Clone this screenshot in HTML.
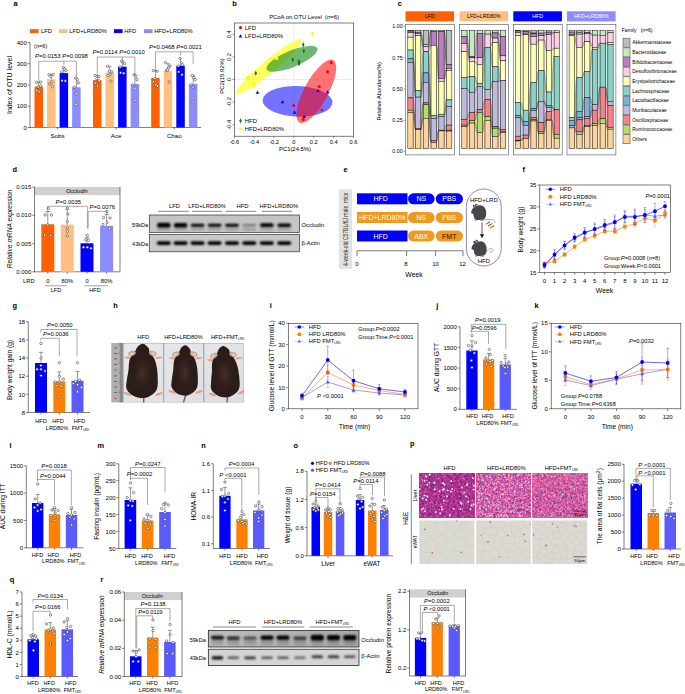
<!DOCTYPE html>
<html><head><meta charset="utf-8"><title>Figure</title>
<style>
html,body{margin:0;padding:0;background:#fff;}
body{width:685px;height:694px;overflow:hidden;}
svg{display:block;font-family:"Liberation Sans",sans-serif;}
</style></head><body>
<svg width="685" height="694" viewBox="0 0 685 694">
<defs>
<clipPath id="clip_d1"><rect x="149.3" y="215" width="150.3" height="17.5"/></clipPath>
<filter id="blur_d1" x="-5%" y="-50%" width="110%" height="200%"><feGaussianBlur stdDeviation="0.95"/></filter>
<clipPath id="clip_d2"><rect x="149.3" y="234.5" width="150.3" height="17.30000000000001"/></clipPath>
<filter id="blur_d2" x="-5%" y="-50%" width="110%" height="200%"><feGaussianBlur stdDeviation="0.9"/></filter>
<clipPath id="clip_h"><rect x="111.2" y="342.8" width="132.60000000000002" height="59.80000000000001"/></clipPath>
<filter id="blur_h" x="-5%" y="-5%" width="110%" height="110%"><feGaussianBlur stdDeviation="0.45"/></filter>
<linearGradient id="bg_h" x1="0" y1="0" x2="1" y2="1"><stop offset="0" stop-color="#e9eaee"/><stop offset="1" stop-color="#dddde0"/></linearGradient>
<radialGradient id="fur_h"><stop offset="0" stop-color="#4a342c" stop-opacity="0.85"/><stop offset="1" stop-color="#2c1c19" stop-opacity="0"/></radialGradient>
<filter id="liv1" x="0" y="0" width="100%" height="100%" color-interpolation-filters="sRGB">
<feTurbulence type="fractalNoise" baseFrequency="0.45" numOctaves="2" seed="3" result="n"/>
<feColorMatrix in="n" type="matrix" values="0.640 0 0 0 0.400 0.360 0 0 0 0.030 0.240 0 0 0 0.440 0 0 0 0 1"/>
</filter>
<filter id="liv2" x="0" y="0" width="100%" height="100%" color-interpolation-filters="sRGB">
<feTurbulence type="fractalNoise" baseFrequency="0.45" numOctaves="2" seed="11" result="n"/>
<feColorMatrix in="n" type="matrix" values="0.520 0 0 0 0.570 0.480 0 0 0 0.100 0.360 0 0 0 0.450 0 0 0 0 1"/>
</filter>
<filter id="liv3" x="0" y="0" width="100%" height="100%" color-interpolation-filters="sRGB">
<feTurbulence type="fractalNoise" baseFrequency="0.45" numOctaves="2" seed="23" result="n"/>
<feColorMatrix in="n" type="matrix" values="0.420 0 0 0 0.655 0.460 0 0 0 0.155 0.300 0 0 0 0.485 0 0 0 0 1"/>
</filter>
<clipPath id="clip_ew0"><rect x="419.4" y="520.5" width="55.0" height="43.5"/></clipPath>
<clipPath id="clip_ew1"><rect x="476.3" y="520.5" width="54.4" height="43.5"/></clipPath>
<clipPath id="clip_ew2"><rect x="532.3" y="520.5" width="54.8" height="43.5"/></clipPath>
<linearGradient id="bg_r1" x1="0" y1="0" x2="1" y2="0"><stop offset="0" stop-color="#bdbdbd"/><stop offset="0.5" stop-color="#b2b2b2"/><stop offset="1" stop-color="#a8a8a8"/></linearGradient>
<clipPath id="clip_r1"><rect x="208.3" y="630.5" width="150.7" height="16.5"/></clipPath>
<filter id="blur_r1" x="-5%" y="-50%" width="110%" height="200%"><feGaussianBlur stdDeviation="1.0"/></filter>
<clipPath id="clip_r2"><rect x="208.3" y="649.2" width="150.7" height="16.399999999999977"/></clipPath>
<filter id="blur_r2" x="-5%" y="-50%" width="110%" height="200%"><feGaussianBlur stdDeviation="0.9"/></filter>
</defs>
<rect width="685" height="694" fill="#fff"/>
<text x="13.60" y="5.90" font-size="7.4" font-weight="bold" fill="#000">a</text>
<rect x="30.00" y="29.20" width="8.60" height="3.90" fill="#ff6000" />
<text x="41.00" y="33.20" font-size="5.8">LFD</text>
<rect x="59.00" y="29.20" width="8.60" height="3.90" fill="#ffbf80" />
<text x="69.20" y="33.20" font-size="5.8">LFD+LRD80%</text>
<rect x="114.00" y="29.20" width="8.60" height="3.90" fill="#0000ff" />
<text x="124.30" y="33.20" font-size="5.8">HFD</text>
<rect x="144.00" y="29.20" width="8.60" height="3.90" fill="#8c8cff" />
<text x="154.20" y="33.20" font-size="5.8">HFD+LRD80%</text>
<line x1="30.00" y1="42.50" x2="30.00" y2="127.50" stroke="#2a2a2a" stroke-width="0.6" />
<line x1="27.80" y1="127.50" x2="30.00" y2="127.50" stroke="#2a2a2a" stroke-width="0.6" />
<text x="26.80" y="129.66" font-size="6" text-anchor="end">0</text>
<line x1="27.80" y1="106.25" x2="30.00" y2="106.25" stroke="#2a2a2a" stroke-width="0.6" />
<text x="26.80" y="108.41" font-size="6" text-anchor="end">100</text>
<line x1="27.80" y1="85.00" x2="30.00" y2="85.00" stroke="#2a2a2a" stroke-width="0.6" />
<text x="26.80" y="87.16" font-size="6" text-anchor="end">200</text>
<line x1="27.80" y1="63.75" x2="30.00" y2="63.75" stroke="#2a2a2a" stroke-width="0.6" />
<text x="26.80" y="65.91" font-size="6" text-anchor="end">300</text>
<line x1="27.80" y1="42.50" x2="30.00" y2="42.50" stroke="#2a2a2a" stroke-width="0.6" />
<text x="26.80" y="44.66" font-size="6" text-anchor="end">400</text>
<line x1="29.70" y1="127.50" x2="201.00" y2="127.50" stroke="#2a2a2a" stroke-width="0.6" />
<text x="11.80" y="85.00" font-size="7.0" text-anchor="middle" transform="rotate(-90 11.80 85.00)">Index of OTU level</text>
<text x="34.00" y="48.00" font-size="5.6">(<tspan font-style="italic">n</tspan>=6)</text>
<rect x="34.50" y="86.70" width="8.50" height="40.80" fill="#ff6000" />
<line x1="38.75" y1="82.03" x2="38.75" y2="86.90" stroke="#333" stroke-width="0.5" />
<line x1="37.05" y1="82.03" x2="40.45" y2="82.03" stroke="#333" stroke-width="0.5" />
<circle cx="36.55" cy="82.45" r="1.2" fill="#fff" stroke="#222" stroke-width="0.5" />
<circle cx="40.55" cy="82.03" r="1.2" fill="#fff" stroke="#222" stroke-width="0.5" />
<circle cx="38.25" cy="87.12" r="1.2" fill="#fff" stroke="#222" stroke-width="0.5" />
<circle cx="36.75" cy="90.31" r="1.2" fill="#fff" stroke="#222" stroke-width="0.5" />
<circle cx="39.05" cy="91.80" r="1.2" fill="#fff" stroke="#222" stroke-width="0.5" />
<circle cx="40.75" cy="85.85" r="1.2" fill="#fff" stroke="#222" stroke-width="0.5" />
<rect x="47.05" y="79.26" width="8.50" height="48.24" fill="#ffbf80" />
<line x1="51.30" y1="74.38" x2="51.30" y2="79.46" stroke="#333" stroke-width="0.5" />
<line x1="49.60" y1="74.38" x2="53.00" y2="74.38" stroke="#333" stroke-width="0.5" />
<circle cx="48.90" cy="74.80" r="1.2" fill="#fff" stroke="#222" stroke-width="0.5" />
<circle cx="53.30" cy="74.38" r="1.2" fill="#fff" stroke="#222" stroke-width="0.5" />
<circle cx="51.70" cy="81.81" r="1.2" fill="#fff" stroke="#222" stroke-width="0.5" />
<circle cx="49.70" cy="83.94" r="1.2" fill="#fff" stroke="#222" stroke-width="0.5" />
<circle cx="52.50" cy="86.70" r="1.2" fill="#fff" stroke="#222" stroke-width="0.5" />
<circle cx="50.90" cy="76.50" r="1.2" fill="#fff" stroke="#222" stroke-width="0.5" />
<rect x="59.60" y="73.10" width="8.50" height="54.40" fill="#0000ff" />
<line x1="63.85" y1="67.58" x2="63.85" y2="73.30" stroke="#333" stroke-width="0.5" />
<line x1="62.15" y1="67.58" x2="65.55" y2="67.58" stroke="#333" stroke-width="0.5" />
<circle cx="63.25" cy="67.58" r="1.2" fill="#fff" stroke="#222" stroke-width="0.5" />
<circle cx="64.45" cy="69.06" r="1.2" fill="#fff" stroke="#222" stroke-width="0.5" />
<circle cx="66.05" cy="70.55" r="1.2" fill="#fff" stroke="#222" stroke-width="0.5" />
<circle cx="62.05" cy="80.75" r="1.2" fill="#fff" stroke="#222" stroke-width="0.5" />
<circle cx="65.25" cy="80.96" r="1.2" fill="#fff" stroke="#222" stroke-width="0.5" />
<circle cx="61.65" cy="71.83" r="1.2" fill="#fff" stroke="#222" stroke-width="0.5" />
<rect x="72.15" y="87.34" width="8.50" height="40.16" fill="#8c8cff" />
<line x1="76.40" y1="78.20" x2="76.40" y2="87.54" stroke="#333" stroke-width="0.5" />
<line x1="74.70" y1="78.20" x2="78.10" y2="78.20" stroke="#333" stroke-width="0.5" />
<circle cx="75.60" cy="78.20" r="1.2" fill="#fff" stroke="#222" stroke-width="0.5" />
<circle cx="77.30" cy="79.69" r="1.2" fill="#fff" stroke="#222" stroke-width="0.5" />
<circle cx="78.60" cy="82.88" r="1.2" fill="#fff" stroke="#222" stroke-width="0.5" />
<circle cx="76.40" cy="93.50" r="1.2" fill="#fff" stroke="#222" stroke-width="0.5" />
<circle cx="76.40" cy="104.55" r="1.2" fill="#fff" stroke="#222" stroke-width="0.5" />
<circle cx="74.20" cy="87.12" r="1.2" fill="#fff" stroke="#222" stroke-width="0.5" />
<line x1="57.60" y1="127.50" x2="57.60" y2="129.50" stroke="#2a2a2a" stroke-width="0.6" />
<text x="57.60" y="138.10" font-size="6.2" text-anchor="middle">Sobs</text>
<rect x="93.00" y="80.11" width="8.50" height="47.39" fill="#ff6000" />
<line x1="97.25" y1="75.44" x2="97.25" y2="80.31" stroke="#333" stroke-width="0.5" />
<line x1="95.55" y1="75.44" x2="98.95" y2="75.44" stroke="#333" stroke-width="0.5" />
<circle cx="95.05" cy="75.44" r="1.2" fill="#fff" stroke="#222" stroke-width="0.5" />
<circle cx="99.05" cy="76.50" r="1.2" fill="#fff" stroke="#222" stroke-width="0.5" />
<circle cx="96.75" cy="78.62" r="1.2" fill="#fff" stroke="#222" stroke-width="0.5" />
<circle cx="95.25" cy="82.88" r="1.2" fill="#fff" stroke="#222" stroke-width="0.5" />
<circle cx="97.55" cy="86.06" r="1.2" fill="#fff" stroke="#222" stroke-width="0.5" />
<circle cx="99.25" cy="80.75" r="1.2" fill="#fff" stroke="#222" stroke-width="0.5" />
<rect x="105.55" y="72.46" width="8.50" height="55.04" fill="#ffbf80" />
<line x1="109.80" y1="66.30" x2="109.80" y2="72.66" stroke="#333" stroke-width="0.5" />
<line x1="108.10" y1="66.30" x2="111.50" y2="66.30" stroke="#333" stroke-width="0.5" />
<circle cx="107.40" cy="66.30" r="1.2" fill="#fff" stroke="#222" stroke-width="0.5" />
<circle cx="111.80" cy="71.83" r="1.2" fill="#fff" stroke="#222" stroke-width="0.5" />
<circle cx="110.20" cy="74.38" r="1.2" fill="#fff" stroke="#222" stroke-width="0.5" />
<circle cx="108.20" cy="75.44" r="1.2" fill="#fff" stroke="#222" stroke-width="0.5" />
<circle cx="111.00" cy="81.18" r="1.2" fill="#fff" stroke="#222" stroke-width="0.5" />
<circle cx="109.40" cy="71.19" r="1.2" fill="#fff" stroke="#222" stroke-width="0.5" />
<rect x="118.10" y="66.72" width="8.50" height="60.78" fill="#0000ff" />
<line x1="122.35" y1="61.62" x2="122.35" y2="66.92" stroke="#333" stroke-width="0.5" />
<line x1="120.65" y1="61.62" x2="124.05" y2="61.62" stroke="#333" stroke-width="0.5" />
<circle cx="121.75" cy="61.20" r="1.2" fill="#fff" stroke="#222" stroke-width="0.5" />
<circle cx="122.95" cy="62.05" r="1.2" fill="#fff" stroke="#222" stroke-width="0.5" />
<circle cx="124.55" cy="63.75" r="1.2" fill="#fff" stroke="#222" stroke-width="0.5" />
<circle cx="120.55" cy="72.68" r="1.2" fill="#fff" stroke="#222" stroke-width="0.5" />
<circle cx="123.75" cy="73.31" r="1.2" fill="#fff" stroke="#222" stroke-width="0.5" />
<circle cx="120.15" cy="66.94" r="1.2" fill="#fff" stroke="#222" stroke-width="0.5" />
<rect x="130.65" y="83.94" width="8.50" height="43.56" fill="#8c8cff" />
<line x1="134.90" y1="74.80" x2="134.90" y2="84.14" stroke="#333" stroke-width="0.5" />
<line x1="133.20" y1="74.80" x2="136.60" y2="74.80" stroke="#333" stroke-width="0.5" />
<circle cx="134.10" cy="74.80" r="1.2" fill="#fff" stroke="#222" stroke-width="0.5" />
<circle cx="135.80" cy="76.50" r="1.2" fill="#fff" stroke="#222" stroke-width="0.5" />
<circle cx="137.10" cy="79.69" r="1.2" fill="#fff" stroke="#222" stroke-width="0.5" />
<circle cx="134.90" cy="88.19" r="1.2" fill="#fff" stroke="#222" stroke-width="0.5" />
<circle cx="134.90" cy="100.30" r="1.2" fill="#fff" stroke="#222" stroke-width="0.5" />
<circle cx="132.70" cy="85.00" r="1.2" fill="#fff" stroke="#222" stroke-width="0.5" />
<line x1="116.10" y1="127.50" x2="116.10" y2="129.50" stroke="#2a2a2a" stroke-width="0.6" />
<text x="116.10" y="138.10" font-size="6.2" text-anchor="middle">Ace</text>
<rect x="151.20" y="77.99" width="8.50" height="49.51" fill="#ff6000" />
<line x1="155.45" y1="70.55" x2="155.45" y2="78.19" stroke="#333" stroke-width="0.5" />
<line x1="153.75" y1="70.55" x2="157.15" y2="70.55" stroke="#333" stroke-width="0.5" />
<circle cx="153.25" cy="70.55" r="1.2" fill="#fff" stroke="#222" stroke-width="0.5" />
<circle cx="157.25" cy="71.19" r="1.2" fill="#fff" stroke="#222" stroke-width="0.5" />
<circle cx="154.95" cy="78.62" r="1.2" fill="#fff" stroke="#222" stroke-width="0.5" />
<circle cx="153.45" cy="81.81" r="1.2" fill="#fff" stroke="#222" stroke-width="0.5" />
<circle cx="155.75" cy="85.00" r="1.2" fill="#fff" stroke="#222" stroke-width="0.5" />
<circle cx="157.45" cy="86.06" r="1.2" fill="#fff" stroke="#222" stroke-width="0.5" />
<rect x="163.75" y="70.97" width="8.50" height="56.53" fill="#ffbf80" />
<line x1="168.00" y1="63.75" x2="168.00" y2="71.17" stroke="#333" stroke-width="0.5" />
<line x1="166.30" y1="63.75" x2="169.70" y2="63.75" stroke="#333" stroke-width="0.5" />
<circle cx="165.60" cy="62.69" r="1.2" fill="#fff" stroke="#222" stroke-width="0.5" />
<circle cx="170.00" cy="65.88" r="1.2" fill="#fff" stroke="#222" stroke-width="0.5" />
<circle cx="168.40" cy="68.00" r="1.2" fill="#fff" stroke="#222" stroke-width="0.5" />
<circle cx="166.40" cy="70.55" r="1.2" fill="#fff" stroke="#222" stroke-width="0.5" />
<circle cx="169.20" cy="81.81" r="1.2" fill="#fff" stroke="#222" stroke-width="0.5" />
<circle cx="167.60" cy="70.12" r="1.2" fill="#fff" stroke="#222" stroke-width="0.5" />
<rect x="176.30" y="65.88" width="8.50" height="61.62" fill="#0000ff" />
<line x1="180.55" y1="58.44" x2="180.55" y2="66.08" stroke="#333" stroke-width="0.5" />
<line x1="178.85" y1="58.44" x2="182.25" y2="58.44" stroke="#333" stroke-width="0.5" />
<circle cx="179.95" cy="58.44" r="1.2" fill="#fff" stroke="#222" stroke-width="0.5" />
<circle cx="181.15" cy="62.69" r="1.2" fill="#fff" stroke="#222" stroke-width="0.5" />
<circle cx="182.75" cy="64.81" r="1.2" fill="#fff" stroke="#222" stroke-width="0.5" />
<circle cx="178.75" cy="71.83" r="1.2" fill="#fff" stroke="#222" stroke-width="0.5" />
<circle cx="181.95" cy="74.80" r="1.2" fill="#fff" stroke="#222" stroke-width="0.5" />
<circle cx="178.35" cy="65.88" r="1.2" fill="#fff" stroke="#222" stroke-width="0.5" />
<rect x="188.85" y="83.94" width="8.50" height="43.56" fill="#8c8cff" />
<line x1="193.10" y1="75.44" x2="193.10" y2="84.14" stroke="#333" stroke-width="0.5" />
<line x1="191.40" y1="75.44" x2="194.80" y2="75.44" stroke="#333" stroke-width="0.5" />
<circle cx="192.30" cy="75.44" r="1.2" fill="#fff" stroke="#222" stroke-width="0.5" />
<circle cx="194.00" cy="77.56" r="1.2" fill="#fff" stroke="#222" stroke-width="0.5" />
<circle cx="195.30" cy="79.69" r="1.2" fill="#fff" stroke="#222" stroke-width="0.5" />
<circle cx="193.10" cy="87.12" r="1.2" fill="#fff" stroke="#222" stroke-width="0.5" />
<circle cx="193.10" cy="102.00" r="1.2" fill="#fff" stroke="#222" stroke-width="0.5" />
<circle cx="190.90" cy="85.00" r="1.2" fill="#fff" stroke="#222" stroke-width="0.5" />
<line x1="174.30" y1="127.50" x2="174.30" y2="129.50" stroke="#2a2a2a" stroke-width="0.6" />
<text x="174.30" y="138.10" font-size="6.2" text-anchor="middle">Chao</text>
<path d="M38.75 81V61.2H76.40V77M63.85 61.2V64.5" fill="none" stroke="#555" stroke-width="0.5" />
<text x="35.00" y="57.80" font-size="5.95"><tspan font-style="italic">P</tspan>=0.0153 <tspan font-style="italic">P</tspan>=0.0098</text>
<path d="M97.25 75V57H134.90V75M122.35 57V60.5" fill="none" stroke="#555" stroke-width="0.5" />
<text x="92.40" y="54.20" font-size="5.95"><tspan font-style="italic">P</tspan>=0.0114 <tspan font-style="italic">P</tspan>=0.0010</text>
<path d="M155.45 72V51.8H193.10V64M180.55 51.8V55" fill="none" stroke="#555" stroke-width="0.5" />
<text x="149.00" y="49.00" font-size="5.95"><tspan font-style="italic">P</tspan>=0.0468 <tspan font-style="italic">P</tspan>=0.0021</text>
<text x="232.30" y="5.90" font-size="7.4" font-weight="bold" fill="#000">b</text>
<text x="304.00" y="19.40" font-size="5.85" text-anchor="middle" style="white-space:pre">PCoA on OTU Level  (<tspan font-style="italic">n</tspan>=6)</text>
<line x1="234.50" y1="79.50" x2="353.70" y2="79.50" stroke="#bbb" stroke-width="0.5" stroke-dasharray="1.2 1"/>
<line x1="293.90" y1="23.00" x2="293.90" y2="136.20" stroke="#bbb" stroke-width="0.5" stroke-dasharray="1.2 1"/>
<ellipse cx="268.8" cy="66.6" rx="42.5" ry="6.6" fill="#ffff00" fill-opacity="0.62" transform="rotate(-39.6 268.8 66.6)"/>
<ellipse cx="292.0" cy="58.8" rx="27.5" ry="8.2" fill="#1a8a1a" fill-opacity="0.62" transform="rotate(-22.5 292.0 58.8)"/>
<ellipse cx="297.5" cy="101.4" rx="35" ry="15.3" fill="#0000ff" fill-opacity="0.55" transform="rotate(2 297.5 101.4)"/>
<ellipse cx="316.3" cy="91.3" rx="35.5" ry="12.0" fill="#ff0000" fill-opacity="0.55" transform="rotate(-61.6 316.3 91.3)"/>
<rect x="234.50" y="23.00" width="119.20" height="113.20" fill="none" stroke="#2a2a2a" stroke-width="0.6" />
<line x1="234.32" y1="136.20" x2="234.32" y2="138.20" stroke="#2a2a2a" stroke-width="0.5" />
<text x="234.32" y="144.20" font-size="5.7" text-anchor="middle">-0.6</text>
<line x1="254.18" y1="136.20" x2="254.18" y2="138.20" stroke="#2a2a2a" stroke-width="0.5" />
<text x="254.18" y="144.20" font-size="5.7" text-anchor="middle">-0.4</text>
<line x1="274.04" y1="136.20" x2="274.04" y2="138.20" stroke="#2a2a2a" stroke-width="0.5" />
<text x="274.04" y="144.20" font-size="5.7" text-anchor="middle">-0.2</text>
<line x1="293.90" y1="136.20" x2="293.90" y2="138.20" stroke="#2a2a2a" stroke-width="0.5" />
<text x="293.90" y="144.20" font-size="5.7" text-anchor="middle">0</text>
<line x1="313.76" y1="136.20" x2="313.76" y2="138.20" stroke="#2a2a2a" stroke-width="0.5" />
<text x="313.76" y="144.20" font-size="5.7" text-anchor="middle">0.2</text>
<line x1="333.62" y1="136.20" x2="333.62" y2="138.20" stroke="#2a2a2a" stroke-width="0.5" />
<text x="333.62" y="144.20" font-size="5.7" text-anchor="middle">0.4</text>
<line x1="353.48" y1="136.20" x2="353.48" y2="138.20" stroke="#2a2a2a" stroke-width="0.5" />
<text x="353.48" y="144.20" font-size="5.7" text-anchor="middle">0.6</text>
<line x1="232.50" y1="124.70" x2="234.50" y2="124.70" stroke="#2a2a2a" stroke-width="0.5" />
<text x="230.80" y="124.70" font-size="5.7" text-anchor="middle" transform="rotate(-90 230.80 124.70)">-0.4</text>
<line x1="232.50" y1="102.10" x2="234.50" y2="102.10" stroke="#2a2a2a" stroke-width="0.5" />
<text x="230.80" y="102.10" font-size="5.7" text-anchor="middle" transform="rotate(-90 230.80 102.10)">-0.2</text>
<line x1="232.50" y1="79.50" x2="234.50" y2="79.50" stroke="#2a2a2a" stroke-width="0.5" />
<text x="230.80" y="79.50" font-size="5.7" text-anchor="middle" transform="rotate(-90 230.80 79.50)">0</text>
<line x1="232.50" y1="56.90" x2="234.50" y2="56.90" stroke="#2a2a2a" stroke-width="0.5" />
<text x="230.80" y="56.90" font-size="5.7" text-anchor="middle" transform="rotate(-90 230.80 56.90)">0.2</text>
<line x1="232.50" y1="34.30" x2="234.50" y2="34.30" stroke="#2a2a2a" stroke-width="0.5" />
<text x="230.80" y="34.30" font-size="5.7" text-anchor="middle" transform="rotate(-90 230.80 34.30)">0.4</text>
<text x="295.00" y="151.20" font-size="5.9" text-anchor="middle">PC1(24.5%)</text>
<text x="224.40" y="76.00" font-size="5.9" text-anchor="middle" transform="rotate(-90 224.40 76.00)">PC2(15.92%)</text>
<rect x="311.05" y="32.05" width="2.90" height="2.90" fill="#ffff00" />
<rect x="270.55" y="57.05" width="2.90" height="2.90" fill="#ffff00" />
<rect x="275.30" y="57.05" width="2.90" height="2.90" fill="#ffff00" />
<rect x="246.05" y="76.05" width="2.90" height="2.90" fill="#ffff00" />
<rect x="252.30" y="82.30" width="2.90" height="2.90" fill="#ffff00" />
<rect x="252.30" y="85.05" width="2.90" height="2.90" fill="#ffff00" />
<path d="M303.25 42.25L304.5 44.75L303.25 47.25L302.0 44.75Z" fill="#008000" />
<path d="M303.75 48.5L305.0 51L303.75 53.5L302.5 51Z" fill="#008000" />
<path d="M292.75 57.25L294.0 59.75L292.75 62.25L291.5 59.75Z" fill="#008000" />
<path d="M299 59.0L300.25 61.5L299 64.0L297.75 61.5Z" fill="#008000" />
<path d="M299 61.25L300.25 63.75L299 66.25L297.75 63.75Z" fill="#008000" />
<path d="M255.75 70.75L257.0 73.25L255.75 75.75L254.5 73.25Z" fill="#008000" />
<path d="M257.5 90.5L259.3 93.8L255.7 93.8Z" fill="#0000ff" />
<path d="M282.5 100.0L284.3 103.3L280.7 103.3Z" fill="#0000ff" />
<path d="M294.5 110.5L296.3 113.8L292.7 113.8Z" fill="#0000ff" />
<path d="M304.25 114.75L306.05 118.05L302.45 118.05Z" fill="#0000ff" />
<path d="M318 88.75L319.8 92.05L316.2 92.05Z" fill="#0000ff" />
<path d="M327.5 90.25L329.3 93.55L325.7 93.55Z" fill="#0000ff" />
<circle cx="331.25" cy="62.50" r="1.55" fill="#ff0000" />
<circle cx="327.50" cy="71.75" r="1.55" fill="#ff0000" />
<circle cx="319.25" cy="86.50" r="1.55" fill="#ff0000" />
<circle cx="293.75" cy="105.50" r="1.55" fill="#ff0000" />
<circle cx="322.00" cy="110.00" r="1.55" fill="#ff0000" />
<circle cx="303.25" cy="119.50" r="1.55" fill="#ff0000" />
<circle cx="240.50" cy="27.60" r="1.55" fill="#ff0000" />
<text x="244.80" y="29.60" font-size="5.9">LFD</text>
<path d="M240.5 34.2L242.3 37.5L238.7 37.5Z" fill="#0000ff" />
<text x="244.80" y="38.20" font-size="5.9">LFD+LRD80%</text>
<path d="M240.5 118.3L241.75 120.8L240.5 123.3L239.25 120.8Z" fill="#008000" />
<text x="244.80" y="122.80" font-size="5.9">HFD</text>
<rect x="239.05" y="127.45" width="2.90" height="2.90" fill="#ffff00" />
<text x="244.80" y="130.90" font-size="5.9">HFD+LRD80%</text>
<text x="397.80" y="5.90" font-size="7.4" font-weight="bold" fill="#000">c</text>
<text x="402.60" y="28.20" font-size="5.3" text-anchor="end">1.00</text>
<line x1="403.60" y1="26.30" x2="405.50" y2="26.30" stroke="#444" stroke-width="0.5" />
<text x="402.60" y="59.60" font-size="5.3" text-anchor="end">0.75</text>
<line x1="403.60" y1="57.70" x2="405.50" y2="57.70" stroke="#444" stroke-width="0.5" />
<text x="402.60" y="90.90" font-size="5.3" text-anchor="end">0.50</text>
<line x1="403.60" y1="89.00" x2="405.50" y2="89.00" stroke="#444" stroke-width="0.5" />
<text x="402.60" y="122.20" font-size="5.3" text-anchor="end">0.25</text>
<line x1="403.60" y1="120.30" x2="405.50" y2="120.30" stroke="#444" stroke-width="0.5" />
<text x="402.60" y="153.40" font-size="5.3" text-anchor="end">0.00</text>
<line x1="403.60" y1="151.50" x2="405.50" y2="151.50" stroke="#444" stroke-width="0.5" />
<text x="380.60" y="91.30" font-size="5.6" text-anchor="middle" transform="rotate(-90 380.60 91.30)">Relative Abundance(%)</text>
<rect x="405.50" y="11.30" width="48.60" height="10.10" fill="#ff6000" />
<text x="429.80" y="18.40" font-size="5.2" text-anchor="middle" fill="#000">LFD</text>
<rect x="405.50" y="24.30" width="48.90" height="130.60" fill="#fff" stroke="#444" stroke-width="0.55" />
<path d="M413.10 30.35C414.33 30.35 414.33 30.35 415.55 30.35L415.55 32.60C414.33 32.60 414.33 30.60 413.10 30.60Z" fill="#bdbdbd" stroke="#444" stroke-width="0.35" fill-opacity="0.5" stroke-opacity="0.85"/>
<path d="M413.10 30.60C414.33 30.60 414.33 32.60 415.55 32.60L415.55 33.60C414.33 33.60 414.33 31.10 413.10 31.10Z" fill="#c7e9c0" stroke="#444" stroke-width="0.35" fill-opacity="0.5" stroke-opacity="0.85"/>
<path d="M413.10 31.10C414.33 31.10 414.33 33.60 415.55 33.60L415.55 33.60C414.33 33.60 414.33 32.60 413.10 32.60Z" fill="#bd7ebe" stroke="#444" stroke-width="0.35" fill-opacity="0.5" stroke-opacity="0.85"/>
<path d="M413.10 32.60C414.33 32.60 414.33 33.60 415.55 33.60L415.55 35.60C414.33 35.60 414.33 37.20 413.10 37.20Z" fill="#fdcce5" stroke="#444" stroke-width="0.35" fill-opacity="0.5" stroke-opacity="0.85"/>
<path d="M413.10 37.20C414.33 37.20 414.33 35.60 415.55 35.60L415.55 90.80C414.33 90.80 414.33 50.00 413.10 50.00Z" fill="#ffffb3" stroke="#444" stroke-width="0.35" fill-opacity="0.5" stroke-opacity="0.85"/>
<path d="M413.10 50.00C414.33 50.00 414.33 90.80 415.55 90.80L415.55 97.10C414.33 97.10 414.33 58.80 413.10 58.80Z" fill="#8bd3c7" stroke="#444" stroke-width="0.35" fill-opacity="0.5" stroke-opacity="0.85"/>
<path d="M413.10 58.80C414.33 58.80 414.33 97.10 415.55 97.10L415.55 97.10C414.33 97.10 414.33 62.30 413.10 62.30Z" fill="#7eb0d5" stroke="#444" stroke-width="0.35" fill-opacity="0.5" stroke-opacity="0.85"/>
<path d="M413.10 62.30C414.33 62.30 414.33 97.10 415.55 97.10L415.55 128.40C414.33 128.40 414.33 97.90 413.10 97.90Z" fill="#bebada" stroke="#444" stroke-width="0.35" fill-opacity="0.5" stroke-opacity="0.85"/>
<path d="M413.10 97.90C414.33 97.90 414.33 128.40 415.55 128.40L415.55 129.60C414.33 129.60 414.33 110.20 413.10 110.20Z" fill="#f4828a" stroke="#444" stroke-width="0.35" fill-opacity="0.5" stroke-opacity="0.85"/>
<path d="M413.10 110.20C414.33 110.20 414.33 129.60 415.55 129.60L415.55 129.60C414.33 129.60 414.33 112.40 413.10 112.40Z" fill="#b2e061" stroke="#444" stroke-width="0.35" fill-opacity="0.5" stroke-opacity="0.85"/>
<path d="M413.10 112.40C414.33 112.40 414.33 129.60 415.55 129.60L415.55 148.70C414.33 148.70 414.33 148.70 413.10 148.70Z" fill="#fed29b" stroke="#444" stroke-width="0.35" fill-opacity="0.5" stroke-opacity="0.85"/>
<path d="M420.85 30.35C422.08 30.35 422.08 30.35 423.30 30.35L423.30 44.70C422.08 44.70 422.08 32.60 420.85 32.60Z" fill="#bdbdbd" stroke="#444" stroke-width="0.35" fill-opacity="0.5" stroke-opacity="0.85"/>
<path d="M420.85 32.60C422.08 32.60 422.08 44.70 423.30 44.70L423.30 46.70C422.08 46.70 422.08 33.60 420.85 33.60Z" fill="#c7e9c0" stroke="#444" stroke-width="0.35" fill-opacity="0.5" stroke-opacity="0.85"/>
<path d="M420.85 33.60C422.08 33.60 422.08 46.70 423.30 46.70L423.30 51.40C422.08 51.40 422.08 35.60 420.85 35.60Z" fill="#fdcce5" stroke="#444" stroke-width="0.35" fill-opacity="0.5" stroke-opacity="0.85"/>
<path d="M420.85 35.60C422.08 35.60 422.08 51.40 423.30 51.40L423.30 51.70C422.08 51.70 422.08 90.80 420.85 90.80Z" fill="#ffffb3" stroke="#444" stroke-width="0.35" fill-opacity="0.5" stroke-opacity="0.85"/>
<path d="M420.85 90.80C422.08 90.80 422.08 51.70 423.30 51.70L423.30 72.90C422.08 72.90 422.08 97.10 420.85 97.10Z" fill="#8bd3c7" stroke="#444" stroke-width="0.35" fill-opacity="0.5" stroke-opacity="0.85"/>
<path d="M420.85 97.10C422.08 97.10 422.08 72.90 423.30 72.90L423.30 82.30C422.08 82.30 422.08 97.10 420.85 97.10Z" fill="#7eb0d5" stroke="#444" stroke-width="0.35" fill-opacity="0.5" stroke-opacity="0.85"/>
<path d="M420.85 97.10C422.08 97.10 422.08 82.30 423.30 82.30L423.30 102.90C422.08 102.90 422.08 128.40 420.85 128.40Z" fill="#bebada" stroke="#444" stroke-width="0.35" fill-opacity="0.5" stroke-opacity="0.85"/>
<path d="M420.85 128.40C422.08 128.40 422.08 102.90 423.30 102.90L423.30 104.70C422.08 104.70 422.08 129.60 420.85 129.60Z" fill="#f4828a" stroke="#444" stroke-width="0.35" fill-opacity="0.5" stroke-opacity="0.85"/>
<path d="M420.85 129.60C422.08 129.60 422.08 104.70 423.30 104.70L423.30 118.30C422.08 118.30 422.08 129.60 420.85 129.60Z" fill="#b2e061" stroke="#444" stroke-width="0.35" fill-opacity="0.5" stroke-opacity="0.85"/>
<path d="M420.85 129.60C422.08 129.60 422.08 118.30 423.30 118.30L423.30 148.70C422.08 148.70 422.08 148.70 420.85 148.70Z" fill="#fed29b" stroke="#444" stroke-width="0.35" fill-opacity="0.5" stroke-opacity="0.85"/>
<path d="M428.60 30.35C429.83 30.35 429.83 30.35 431.05 30.35L431.05 30.35C429.83 30.35 429.83 44.70 428.60 44.70Z" fill="#bdbdbd" stroke="#444" stroke-width="0.35" fill-opacity="0.5" stroke-opacity="0.85"/>
<path d="M428.60 44.70C429.83 44.70 429.83 30.35 431.05 30.35L431.05 31.30C429.83 31.30 429.83 46.70 428.60 46.70Z" fill="#c7e9c0" stroke="#444" stroke-width="0.35" fill-opacity="0.5" stroke-opacity="0.85"/>
<path d="M428.60 46.70C429.83 46.70 429.83 31.30 431.05 31.30L431.05 45.30C429.83 45.30 429.83 46.70 428.60 46.70Z" fill="#bd7ebe" stroke="#444" stroke-width="0.35" fill-opacity="0.5" stroke-opacity="0.85"/>
<path d="M428.60 46.70C429.83 46.70 429.83 45.30 431.05 45.30L431.05 45.30C429.83 45.30 429.83 51.40 428.60 51.40Z" fill="#fdcce5" stroke="#444" stroke-width="0.35" fill-opacity="0.5" stroke-opacity="0.85"/>
<path d="M428.60 51.40C429.83 51.40 429.83 45.30 431.05 45.30L431.05 115.80C429.83 115.80 429.83 51.70 428.60 51.70Z" fill="#ffffb3" stroke="#444" stroke-width="0.35" fill-opacity="0.5" stroke-opacity="0.85"/>
<path d="M428.60 51.70C429.83 51.70 429.83 115.80 431.05 115.80L431.05 118.30C429.83 118.30 429.83 72.90 428.60 72.90Z" fill="#8bd3c7" stroke="#444" stroke-width="0.35" fill-opacity="0.5" stroke-opacity="0.85"/>
<path d="M428.60 72.90C429.83 72.90 429.83 118.30 431.05 118.30L431.05 118.30C429.83 118.30 429.83 82.30 428.60 82.30Z" fill="#7eb0d5" stroke="#444" stroke-width="0.35" fill-opacity="0.5" stroke-opacity="0.85"/>
<path d="M428.60 82.30C429.83 82.30 429.83 118.30 431.05 118.30L431.05 140.50C429.83 140.50 429.83 102.90 428.60 102.90Z" fill="#bebada" stroke="#444" stroke-width="0.35" fill-opacity="0.5" stroke-opacity="0.85"/>
<path d="M428.60 102.90C429.83 102.90 429.83 140.50 431.05 140.50L431.05 142.50C429.83 142.50 429.83 104.70 428.60 104.70Z" fill="#f4828a" stroke="#444" stroke-width="0.35" fill-opacity="0.5" stroke-opacity="0.85"/>
<path d="M428.60 104.70C429.83 104.70 429.83 142.50 431.05 142.50L431.05 142.50C429.83 142.50 429.83 118.30 428.60 118.30Z" fill="#b2e061" stroke="#444" stroke-width="0.35" fill-opacity="0.5" stroke-opacity="0.85"/>
<path d="M428.60 118.30C429.83 118.30 429.83 142.50 431.05 142.50L431.05 148.70C429.83 148.70 429.83 148.70 428.60 148.70Z" fill="#fed29b" stroke="#444" stroke-width="0.35" fill-opacity="0.5" stroke-opacity="0.85"/>
<path d="M436.35 30.35C437.58 30.35 437.58 30.35 438.80 30.35L438.80 31.50C437.58 31.50 437.58 31.30 436.35 31.30Z" fill="#c7e9c0" stroke="#444" stroke-width="0.35" fill-opacity="0.5" stroke-opacity="0.85"/>
<path d="M436.35 31.30C437.58 31.30 437.58 31.50 438.80 31.50L438.80 78.50C437.58 78.50 437.58 45.30 436.35 45.30Z" fill="#bd7ebe" stroke="#444" stroke-width="0.35" fill-opacity="0.5" stroke-opacity="0.85"/>
<path d="M436.35 45.30C437.58 45.30 437.58 78.50 438.80 78.50L438.80 81.30C437.58 81.30 437.58 45.30 436.35 45.30Z" fill="#fdcce5" stroke="#444" stroke-width="0.35" fill-opacity="0.5" stroke-opacity="0.85"/>
<path d="M436.35 45.30C437.58 45.30 437.58 81.30 438.80 81.30L438.80 114.20C437.58 114.20 437.58 115.80 436.35 115.80Z" fill="#ffffb3" stroke="#444" stroke-width="0.35" fill-opacity="0.5" stroke-opacity="0.85"/>
<path d="M436.35 115.80C437.58 115.80 437.58 114.20 438.80 114.20L438.80 116.60C437.58 116.60 437.58 118.30 436.35 118.30Z" fill="#8bd3c7" stroke="#444" stroke-width="0.35" fill-opacity="0.5" stroke-opacity="0.85"/>
<path d="M436.35 118.30C437.58 118.30 437.58 116.60 438.80 116.60L438.80 130.20C437.58 130.20 437.58 140.50 436.35 140.50Z" fill="#bebada" stroke="#444" stroke-width="0.35" fill-opacity="0.5" stroke-opacity="0.85"/>
<path d="M436.35 140.50C437.58 140.50 437.58 130.20 438.80 130.20L438.80 130.90C437.58 130.90 437.58 142.50 436.35 142.50Z" fill="#f4828a" stroke="#444" stroke-width="0.35" fill-opacity="0.5" stroke-opacity="0.85"/>
<path d="M436.35 142.50C437.58 142.50 437.58 130.90 438.80 130.90L438.80 148.70C437.58 148.70 437.58 148.70 436.35 148.70Z" fill="#fed29b" stroke="#444" stroke-width="0.35" fill-opacity="0.5" stroke-opacity="0.85"/>
<path d="M444.10 30.35C445.33 30.35 445.33 30.35 446.55 30.35L446.55 64.30C445.33 64.30 445.33 30.35 444.10 30.35Z" fill="#bdbdbd" stroke="#444" stroke-width="0.35" fill-opacity="0.5" stroke-opacity="0.85"/>
<path d="M444.10 30.35C445.33 30.35 445.33 64.30 446.55 64.30L446.55 64.30C445.33 64.30 445.33 31.50 444.10 31.50Z" fill="#c7e9c0" stroke="#444" stroke-width="0.35" fill-opacity="0.5" stroke-opacity="0.85"/>
<path d="M444.10 31.50C445.33 31.50 445.33 64.30 446.55 64.30L446.55 68.40C445.33 68.40 445.33 78.50 444.10 78.50Z" fill="#bd7ebe" stroke="#444" stroke-width="0.35" fill-opacity="0.5" stroke-opacity="0.85"/>
<path d="M444.10 78.50C445.33 78.50 445.33 68.40 446.55 68.40L446.55 70.30C445.33 70.30 445.33 81.30 444.10 81.30Z" fill="#fdcce5" stroke="#444" stroke-width="0.35" fill-opacity="0.5" stroke-opacity="0.85"/>
<path d="M444.10 81.30C445.33 81.30 445.33 70.30 446.55 70.30L446.55 99.90C445.33 99.90 445.33 114.20 444.10 114.20Z" fill="#ffffb3" stroke="#444" stroke-width="0.35" fill-opacity="0.5" stroke-opacity="0.85"/>
<path d="M444.10 114.20C445.33 114.20 445.33 99.90 446.55 99.90L446.55 106.50C445.33 106.50 445.33 116.60 444.10 116.60Z" fill="#8bd3c7" stroke="#444" stroke-width="0.35" fill-opacity="0.5" stroke-opacity="0.85"/>
<path d="M444.10 116.60C445.33 116.60 445.33 106.50 446.55 106.50L446.55 125.10C445.33 125.10 445.33 130.20 444.10 130.20Z" fill="#bebada" stroke="#444" stroke-width="0.35" fill-opacity="0.5" stroke-opacity="0.85"/>
<path d="M444.10 130.20C445.33 130.20 445.33 125.10 446.55 125.10L446.55 130.20C445.33 130.20 445.33 130.90 444.10 130.90Z" fill="#f4828a" stroke="#444" stroke-width="0.35" fill-opacity="0.5" stroke-opacity="0.85"/>
<path d="M444.10 130.90C445.33 130.90 445.33 130.20 446.55 130.20L446.55 131.10C445.33 131.10 445.33 130.90 444.10 130.90Z" fill="#b2e061" stroke="#444" stroke-width="0.35" fill-opacity="0.5" stroke-opacity="0.85"/>
<path d="M444.10 130.90C445.33 130.90 445.33 131.10 446.55 131.10L446.55 148.70C445.33 148.70 445.33 148.70 444.10 148.70Z" fill="#fed29b" stroke="#444" stroke-width="0.35" fill-opacity="0.5" stroke-opacity="0.85"/>
<rect x="407.80" y="30.35" width="5.30" height="0.25" fill="#bdbdbd" stroke="#111" stroke-width="0.5" />
<rect x="407.80" y="30.60" width="5.30" height="0.50" fill="#c7e9c0" stroke="#111" stroke-width="0.5" />
<rect x="407.80" y="31.10" width="5.30" height="1.50" fill="#bd7ebe" stroke="#111" stroke-width="0.5" />
<rect x="407.80" y="32.60" width="5.30" height="4.60" fill="#fdcce5" stroke="#111" stroke-width="0.5" />
<rect x="407.80" y="37.20" width="5.30" height="12.80" fill="#ffffb3" stroke="#111" stroke-width="0.5" />
<rect x="407.80" y="50.00" width="5.30" height="8.80" fill="#8bd3c7" stroke="#111" stroke-width="0.5" />
<rect x="407.80" y="58.80" width="5.30" height="3.50" fill="#7eb0d5" stroke="#111" stroke-width="0.5" />
<rect x="407.80" y="62.30" width="5.30" height="35.60" fill="#bebada" stroke="#111" stroke-width="0.5" />
<rect x="407.80" y="97.90" width="5.30" height="12.30" fill="#f4828a" stroke="#111" stroke-width="0.5" />
<rect x="407.80" y="110.20" width="5.30" height="2.20" fill="#b2e061" stroke="#111" stroke-width="0.5" />
<rect x="407.80" y="112.40" width="5.30" height="36.30" fill="#fed29b" stroke="#111" stroke-width="0.5" />
<rect x="415.55" y="30.35" width="5.30" height="2.25" fill="#bdbdbd" stroke="#111" stroke-width="0.5" />
<rect x="415.55" y="32.60" width="5.30" height="1.00" fill="#c7e9c0" stroke="#111" stroke-width="0.5" />
<rect x="415.55" y="33.60" width="5.30" height="2.00" fill="#fdcce5" stroke="#111" stroke-width="0.5" />
<rect x="415.55" y="35.60" width="5.30" height="55.20" fill="#ffffb3" stroke="#111" stroke-width="0.5" />
<rect x="415.55" y="90.80" width="5.30" height="6.30" fill="#8bd3c7" stroke="#111" stroke-width="0.5" />
<rect x="415.55" y="97.10" width="5.30" height="31.30" fill="#bebada" stroke="#111" stroke-width="0.5" />
<rect x="415.55" y="128.40" width="5.30" height="1.20" fill="#f4828a" stroke="#111" stroke-width="0.5" />
<rect x="415.55" y="129.60" width="5.30" height="19.10" fill="#fed29b" stroke="#111" stroke-width="0.5" />
<rect x="423.30" y="30.35" width="5.30" height="14.35" fill="#bdbdbd" stroke="#111" stroke-width="0.5" />
<rect x="423.30" y="44.70" width="5.30" height="2.00" fill="#c7e9c0" stroke="#111" stroke-width="0.5" />
<rect x="423.30" y="46.70" width="5.30" height="4.70" fill="#fdcce5" stroke="#111" stroke-width="0.5" />
<rect x="423.30" y="51.40" width="5.30" height="0.30" fill="#ffffb3" stroke="#111" stroke-width="0.5" />
<rect x="423.30" y="51.70" width="5.30" height="21.20" fill="#8bd3c7" stroke="#111" stroke-width="0.5" />
<rect x="423.30" y="72.90" width="5.30" height="9.40" fill="#7eb0d5" stroke="#111" stroke-width="0.5" />
<rect x="423.30" y="82.30" width="5.30" height="20.60" fill="#bebada" stroke="#111" stroke-width="0.5" />
<rect x="423.30" y="102.90" width="5.30" height="1.80" fill="#f4828a" stroke="#111" stroke-width="0.5" />
<rect x="423.30" y="104.70" width="5.30" height="13.60" fill="#b2e061" stroke="#111" stroke-width="0.5" />
<rect x="423.30" y="118.30" width="5.30" height="30.40" fill="#fed29b" stroke="#111" stroke-width="0.5" />
<rect x="431.05" y="30.35" width="5.30" height="0.95" fill="#c7e9c0" stroke="#111" stroke-width="0.5" />
<rect x="431.05" y="31.30" width="5.30" height="14.00" fill="#bd7ebe" stroke="#111" stroke-width="0.5" />
<rect x="431.05" y="45.30" width="5.30" height="70.50" fill="#ffffb3" stroke="#111" stroke-width="0.5" />
<rect x="431.05" y="115.80" width="5.30" height="2.50" fill="#8bd3c7" stroke="#111" stroke-width="0.5" />
<rect x="431.05" y="118.30" width="5.30" height="22.20" fill="#bebada" stroke="#111" stroke-width="0.5" />
<rect x="431.05" y="140.50" width="5.30" height="2.00" fill="#f4828a" stroke="#111" stroke-width="0.5" />
<rect x="431.05" y="142.50" width="5.30" height="6.20" fill="#fed29b" stroke="#111" stroke-width="0.5" />
<rect x="438.80" y="30.35" width="5.30" height="1.15" fill="#c7e9c0" stroke="#111" stroke-width="0.5" />
<rect x="438.80" y="31.50" width="5.30" height="47.00" fill="#bd7ebe" stroke="#111" stroke-width="0.5" />
<rect x="438.80" y="78.50" width="5.30" height="2.80" fill="#fdcce5" stroke="#111" stroke-width="0.5" />
<rect x="438.80" y="81.30" width="5.30" height="32.90" fill="#ffffb3" stroke="#111" stroke-width="0.5" />
<rect x="438.80" y="114.20" width="5.30" height="2.40" fill="#8bd3c7" stroke="#111" stroke-width="0.5" />
<rect x="438.80" y="116.60" width="5.30" height="13.60" fill="#bebada" stroke="#111" stroke-width="0.5" />
<rect x="438.80" y="130.20" width="5.30" height="0.70" fill="#f4828a" stroke="#111" stroke-width="0.5" />
<rect x="438.80" y="130.90" width="5.30" height="17.80" fill="#fed29b" stroke="#111" stroke-width="0.5" />
<rect x="446.55" y="30.35" width="5.30" height="33.95" fill="#bdbdbd" stroke="#111" stroke-width="0.5" />
<rect x="446.55" y="64.30" width="5.30" height="4.10" fill="#bd7ebe" stroke="#111" stroke-width="0.5" />
<rect x="446.55" y="68.40" width="5.30" height="1.90" fill="#fdcce5" stroke="#111" stroke-width="0.5" />
<rect x="446.55" y="70.30" width="5.30" height="29.60" fill="#ffffb3" stroke="#111" stroke-width="0.5" />
<rect x="446.55" y="99.90" width="5.30" height="6.60" fill="#8bd3c7" stroke="#111" stroke-width="0.5" />
<rect x="446.55" y="106.50" width="5.30" height="18.60" fill="#bebada" stroke="#111" stroke-width="0.5" />
<rect x="446.55" y="125.10" width="5.30" height="5.10" fill="#f4828a" stroke="#111" stroke-width="0.5" />
<rect x="446.55" y="130.20" width="5.30" height="0.90" fill="#b2e061" stroke="#111" stroke-width="0.5" />
<rect x="446.55" y="131.10" width="5.30" height="17.60" fill="#fed29b" stroke="#111" stroke-width="0.5" />
<rect x="459.50" y="11.30" width="48.60" height="10.10" fill="#ffbf80" />
<text x="483.80" y="18.40" font-size="5.2" text-anchor="middle" fill="#000">LFD+LRD80%</text>
<rect x="459.50" y="24.30" width="48.90" height="130.60" fill="#fff" stroke="#444" stroke-width="0.55" />
<path d="M467.00 30.35C468.23 30.35 468.23 30.35 469.45 30.35L469.45 56.30C468.23 56.30 468.23 36.30 467.00 36.30Z" fill="#c7e9c0" stroke="#444" stroke-width="0.35" fill-opacity="0.5" stroke-opacity="0.85"/>
<path d="M467.00 36.30C468.23 36.30 468.23 56.30 469.45 56.30L469.45 57.80C468.23 57.80 468.23 43.50 467.00 43.50Z" fill="#bd7ebe" stroke="#444" stroke-width="0.35" fill-opacity="0.5" stroke-opacity="0.85"/>
<path d="M467.00 43.50C468.23 43.50 468.23 57.80 469.45 57.80L469.45 61.30C468.23 61.30 468.23 51.70 467.00 51.70Z" fill="#fdcce5" stroke="#444" stroke-width="0.35" fill-opacity="0.5" stroke-opacity="0.85"/>
<path d="M467.00 51.70C468.23 51.70 468.23 61.30 469.45 61.30L469.45 76.50C468.23 76.50 468.23 77.30 467.00 77.30Z" fill="#ffffb3" stroke="#444" stroke-width="0.35" fill-opacity="0.5" stroke-opacity="0.85"/>
<path d="M467.00 77.30C468.23 77.30 468.23 76.50 469.45 76.50L469.45 92.30C468.23 92.30 468.23 88.50 467.00 88.50Z" fill="#8bd3c7" stroke="#444" stroke-width="0.35" fill-opacity="0.5" stroke-opacity="0.85"/>
<path d="M467.00 88.50C468.23 88.50 468.23 92.30 469.45 92.30L469.45 112.40C468.23 112.40 468.23 119.30 467.00 119.30Z" fill="#bebada" stroke="#444" stroke-width="0.35" fill-opacity="0.5" stroke-opacity="0.85"/>
<path d="M467.00 119.30C468.23 119.30 468.23 112.40 469.45 112.40L469.45 120.60C468.23 120.60 468.23 125.10 467.00 125.10Z" fill="#f4828a" stroke="#444" stroke-width="0.35" fill-opacity="0.5" stroke-opacity="0.85"/>
<path d="M467.00 125.10C468.23 125.10 468.23 120.60 469.45 120.60L469.45 123.10C468.23 123.10 468.23 126.70 467.00 126.70Z" fill="#b2e061" stroke="#444" stroke-width="0.35" fill-opacity="0.5" stroke-opacity="0.85"/>
<path d="M467.00 126.70C468.23 126.70 468.23 123.10 469.45 123.10L469.45 148.70C468.23 148.70 468.23 148.70 467.00 148.70Z" fill="#fed29b" stroke="#444" stroke-width="0.35" fill-opacity="0.5" stroke-opacity="0.85"/>
<path d="M474.75 30.35C475.98 30.35 475.98 30.35 477.20 30.35L477.20 33.30C475.98 33.30 475.98 56.30 474.75 56.30Z" fill="#c7e9c0" stroke="#444" stroke-width="0.35" fill-opacity="0.5" stroke-opacity="0.85"/>
<path d="M474.75 56.30C475.98 56.30 475.98 33.30 477.20 33.30L477.20 57.80C475.98 57.80 475.98 57.80 474.75 57.80Z" fill="#bd7ebe" stroke="#444" stroke-width="0.35" fill-opacity="0.5" stroke-opacity="0.85"/>
<path d="M474.75 57.80C475.98 57.80 475.98 57.80 477.20 57.80L477.20 64.30C475.98 64.30 475.98 61.30 474.75 61.30Z" fill="#fdcce5" stroke="#444" stroke-width="0.35" fill-opacity="0.5" stroke-opacity="0.85"/>
<path d="M474.75 61.30C475.98 61.30 475.98 64.30 477.20 64.30L477.20 83.30C475.98 83.30 475.98 76.50 474.75 76.50Z" fill="#ffffb3" stroke="#444" stroke-width="0.35" fill-opacity="0.5" stroke-opacity="0.85"/>
<path d="M474.75 76.50C475.98 76.50 475.98 83.30 477.20 83.30L477.20 86.30C475.98 86.30 475.98 92.30 474.75 92.30Z" fill="#8bd3c7" stroke="#444" stroke-width="0.35" fill-opacity="0.5" stroke-opacity="0.85"/>
<path d="M474.75 92.30C475.98 92.30 475.98 86.30 477.20 86.30L477.20 109.70C475.98 109.70 475.98 112.40 474.75 112.40Z" fill="#bebada" stroke="#444" stroke-width="0.35" fill-opacity="0.5" stroke-opacity="0.85"/>
<path d="M474.75 112.40C475.98 112.40 475.98 109.70 477.20 109.70L477.20 112.40C475.98 112.40 475.98 120.60 474.75 120.60Z" fill="#f4828a" stroke="#444" stroke-width="0.35" fill-opacity="0.5" stroke-opacity="0.85"/>
<path d="M474.75 120.60C475.98 120.60 475.98 112.40 477.20 112.40L477.20 132.40C475.98 132.40 475.98 123.10 474.75 123.10Z" fill="#b2e061" stroke="#444" stroke-width="0.35" fill-opacity="0.5" stroke-opacity="0.85"/>
<path d="M474.75 123.10C475.98 123.10 475.98 132.40 477.20 132.40L477.20 148.70C475.98 148.70 475.98 148.70 474.75 148.70Z" fill="#fed29b" stroke="#444" stroke-width="0.35" fill-opacity="0.5" stroke-opacity="0.85"/>
<path d="M482.50 30.35C483.73 30.35 483.73 30.35 484.95 30.35L484.95 34.10C483.73 34.10 483.73 33.30 482.50 33.30Z" fill="#c7e9c0" stroke="#444" stroke-width="0.35" fill-opacity="0.5" stroke-opacity="0.85"/>
<path d="M482.50 33.30C483.73 33.30 483.73 34.10 484.95 34.10L484.95 34.10C483.73 34.10 483.73 57.80 482.50 57.80Z" fill="#bd7ebe" stroke="#444" stroke-width="0.35" fill-opacity="0.5" stroke-opacity="0.85"/>
<path d="M482.50 57.80C483.73 57.80 483.73 34.10 484.95 34.10L484.95 47.40C483.73 47.40 483.73 64.30 482.50 64.30Z" fill="#fdcce5" stroke="#444" stroke-width="0.35" fill-opacity="0.5" stroke-opacity="0.85"/>
<path d="M482.50 64.30C483.73 64.30 483.73 47.40 484.95 47.40L484.95 47.40C483.73 47.40 483.73 83.30 482.50 83.30Z" fill="#ffffb3" stroke="#444" stroke-width="0.35" fill-opacity="0.5" stroke-opacity="0.85"/>
<path d="M482.50 83.30C483.73 83.30 483.73 47.40 484.95 47.40L484.95 89.50C483.73 89.50 483.73 86.30 482.50 86.30Z" fill="#8bd3c7" stroke="#444" stroke-width="0.35" fill-opacity="0.5" stroke-opacity="0.85"/>
<path d="M482.50 86.30C483.73 86.30 483.73 89.50 484.95 89.50L484.95 99.60C483.73 99.60 483.73 109.70 482.50 109.70Z" fill="#bebada" stroke="#444" stroke-width="0.35" fill-opacity="0.5" stroke-opacity="0.85"/>
<path d="M482.50 109.70C483.73 109.70 483.73 99.60 484.95 99.60L484.95 116.60C483.73 116.60 483.73 112.40 482.50 112.40Z" fill="#f4828a" stroke="#444" stroke-width="0.35" fill-opacity="0.5" stroke-opacity="0.85"/>
<path d="M482.50 112.40C483.73 112.40 483.73 116.60 484.95 116.60L484.95 120.30C483.73 120.30 483.73 132.40 482.50 132.40Z" fill="#b2e061" stroke="#444" stroke-width="0.35" fill-opacity="0.5" stroke-opacity="0.85"/>
<path d="M482.50 132.40C483.73 132.40 483.73 120.30 484.95 120.30L484.95 148.70C483.73 148.70 483.73 148.70 482.50 148.70Z" fill="#fed29b" stroke="#444" stroke-width="0.35" fill-opacity="0.5" stroke-opacity="0.85"/>
<path d="M490.25 30.35C491.48 30.35 491.48 30.35 492.70 30.35L492.70 32.90C491.48 32.90 491.48 34.10 490.25 34.10Z" fill="#c7e9c0" stroke="#444" stroke-width="0.35" fill-opacity="0.5" stroke-opacity="0.85"/>
<path d="M490.25 34.10C491.48 34.10 491.48 32.90 492.70 32.90L492.70 38.10C491.48 38.10 491.48 34.10 490.25 34.10Z" fill="#bd7ebe" stroke="#444" stroke-width="0.35" fill-opacity="0.5" stroke-opacity="0.85"/>
<path d="M490.25 34.10C491.48 34.10 491.48 38.10 492.70 38.10L492.70 42.50C491.48 42.50 491.48 47.40 490.25 47.40Z" fill="#fdcce5" stroke="#444" stroke-width="0.35" fill-opacity="0.5" stroke-opacity="0.85"/>
<path d="M490.25 47.40C491.48 47.40 491.48 42.50 492.70 42.50L492.70 66.40C491.48 66.40 491.48 47.40 490.25 47.40Z" fill="#ffffb3" stroke="#444" stroke-width="0.35" fill-opacity="0.5" stroke-opacity="0.85"/>
<path d="M490.25 47.40C491.48 47.40 491.48 66.40 492.70 66.40L492.70 81.50C491.48 81.50 491.48 89.50 490.25 89.50Z" fill="#8bd3c7" stroke="#444" stroke-width="0.35" fill-opacity="0.5" stroke-opacity="0.85"/>
<path d="M490.25 89.50C491.48 89.50 491.48 81.50 492.70 81.50L492.70 126.70C491.48 126.70 491.48 99.60 490.25 99.60Z" fill="#bebada" stroke="#444" stroke-width="0.35" fill-opacity="0.5" stroke-opacity="0.85"/>
<path d="M490.25 99.60C491.48 99.60 491.48 126.70 492.70 126.70L492.70 128.20C491.48 128.20 491.48 116.60 490.25 116.60Z" fill="#f4828a" stroke="#444" stroke-width="0.35" fill-opacity="0.5" stroke-opacity="0.85"/>
<path d="M490.25 116.60C491.48 116.60 491.48 128.20 492.70 128.20L492.70 136.40C491.48 136.40 491.48 120.30 490.25 120.30Z" fill="#b2e061" stroke="#444" stroke-width="0.35" fill-opacity="0.5" stroke-opacity="0.85"/>
<path d="M490.25 120.30C491.48 120.30 491.48 136.40 492.70 136.40L492.70 148.70C491.48 148.70 491.48 148.70 490.25 148.70Z" fill="#fed29b" stroke="#444" stroke-width="0.35" fill-opacity="0.5" stroke-opacity="0.85"/>
<path d="M498.00 30.35C499.23 30.35 499.23 30.35 500.45 30.35L500.45 36.30C499.23 36.30 499.23 32.90 498.00 32.90Z" fill="#c7e9c0" stroke="#444" stroke-width="0.35" fill-opacity="0.5" stroke-opacity="0.85"/>
<path d="M498.00 32.90C499.23 32.90 499.23 36.30 500.45 36.30L500.45 55.80C499.23 55.80 499.23 38.10 498.00 38.10Z" fill="#bd7ebe" stroke="#444" stroke-width="0.35" fill-opacity="0.5" stroke-opacity="0.85"/>
<path d="M498.00 38.10C499.23 38.10 499.23 55.80 500.45 55.80L500.45 60.80C499.23 60.80 499.23 42.50 498.00 42.50Z" fill="#fdcce5" stroke="#444" stroke-width="0.35" fill-opacity="0.5" stroke-opacity="0.85"/>
<path d="M498.00 42.50C499.23 42.50 499.23 60.80 500.45 60.80L500.45 80.50C499.23 80.50 499.23 66.40 498.00 66.40Z" fill="#ffffb3" stroke="#444" stroke-width="0.35" fill-opacity="0.5" stroke-opacity="0.85"/>
<path d="M498.00 66.40C499.23 66.40 499.23 80.50 500.45 80.50L500.45 80.50C499.23 80.50 499.23 81.50 498.00 81.50Z" fill="#8bd3c7" stroke="#444" stroke-width="0.35" fill-opacity="0.5" stroke-opacity="0.85"/>
<path d="M498.00 81.50C499.23 81.50 499.23 80.50 500.45 80.50L500.45 129.40C499.23 129.40 499.23 126.70 498.00 126.70Z" fill="#bebada" stroke="#444" stroke-width="0.35" fill-opacity="0.5" stroke-opacity="0.85"/>
<path d="M498.00 126.70C499.23 126.70 499.23 129.40 500.45 129.40L500.45 131.90C499.23 131.90 499.23 128.20 498.00 128.20Z" fill="#f4828a" stroke="#444" stroke-width="0.35" fill-opacity="0.5" stroke-opacity="0.85"/>
<path d="M498.00 128.20C499.23 128.20 499.23 131.90 500.45 131.90L500.45 132.40C499.23 132.40 499.23 136.40 498.00 136.40Z" fill="#b2e061" stroke="#444" stroke-width="0.35" fill-opacity="0.5" stroke-opacity="0.85"/>
<path d="M498.00 136.40C499.23 136.40 499.23 132.40 500.45 132.40L500.45 148.70C499.23 148.70 499.23 148.70 498.00 148.70Z" fill="#fed29b" stroke="#444" stroke-width="0.35" fill-opacity="0.5" stroke-opacity="0.85"/>
<rect x="461.70" y="30.35" width="5.30" height="5.95" fill="#c7e9c0" stroke="#111" stroke-width="0.5" />
<rect x="461.70" y="36.30" width="5.30" height="7.20" fill="#bd7ebe" stroke="#111" stroke-width="0.5" />
<rect x="461.70" y="43.50" width="5.30" height="8.20" fill="#fdcce5" stroke="#111" stroke-width="0.5" />
<rect x="461.70" y="51.70" width="5.30" height="25.60" fill="#ffffb3" stroke="#111" stroke-width="0.5" />
<rect x="461.70" y="77.30" width="5.30" height="11.20" fill="#8bd3c7" stroke="#111" stroke-width="0.5" />
<rect x="461.70" y="88.50" width="5.30" height="30.80" fill="#bebada" stroke="#111" stroke-width="0.5" />
<rect x="461.70" y="119.30" width="5.30" height="5.80" fill="#f4828a" stroke="#111" stroke-width="0.5" />
<rect x="461.70" y="125.10" width="5.30" height="1.60" fill="#b2e061" stroke="#111" stroke-width="0.5" />
<rect x="461.70" y="126.70" width="5.30" height="22.00" fill="#fed29b" stroke="#111" stroke-width="0.5" />
<rect x="469.45" y="30.35" width="5.30" height="25.95" fill="#c7e9c0" stroke="#111" stroke-width="0.5" />
<rect x="469.45" y="56.30" width="5.30" height="1.50" fill="#bd7ebe" stroke="#111" stroke-width="0.5" />
<rect x="469.45" y="57.80" width="5.30" height="3.50" fill="#fdcce5" stroke="#111" stroke-width="0.5" />
<rect x="469.45" y="61.30" width="5.30" height="15.20" fill="#ffffb3" stroke="#111" stroke-width="0.5" />
<rect x="469.45" y="76.50" width="5.30" height="15.80" fill="#8bd3c7" stroke="#111" stroke-width="0.5" />
<rect x="469.45" y="92.30" width="5.30" height="20.10" fill="#bebada" stroke="#111" stroke-width="0.5" />
<rect x="469.45" y="112.40" width="5.30" height="8.20" fill="#f4828a" stroke="#111" stroke-width="0.5" />
<rect x="469.45" y="120.60" width="5.30" height="2.50" fill="#b2e061" stroke="#111" stroke-width="0.5" />
<rect x="469.45" y="123.10" width="5.30" height="25.60" fill="#fed29b" stroke="#111" stroke-width="0.5" />
<rect x="477.20" y="30.35" width="5.30" height="2.95" fill="#c7e9c0" stroke="#111" stroke-width="0.5" />
<rect x="477.20" y="33.30" width="5.30" height="24.50" fill="#bd7ebe" stroke="#111" stroke-width="0.5" />
<rect x="477.20" y="57.80" width="5.30" height="6.50" fill="#fdcce5" stroke="#111" stroke-width="0.5" />
<rect x="477.20" y="64.30" width="5.30" height="19.00" fill="#ffffb3" stroke="#111" stroke-width="0.5" />
<rect x="477.20" y="83.30" width="5.30" height="3.00" fill="#8bd3c7" stroke="#111" stroke-width="0.5" />
<rect x="477.20" y="86.30" width="5.30" height="23.40" fill="#bebada" stroke="#111" stroke-width="0.5" />
<rect x="477.20" y="109.70" width="5.30" height="2.70" fill="#f4828a" stroke="#111" stroke-width="0.5" />
<rect x="477.20" y="112.40" width="5.30" height="20.00" fill="#b2e061" stroke="#111" stroke-width="0.5" />
<rect x="477.20" y="132.40" width="5.30" height="16.30" fill="#fed29b" stroke="#111" stroke-width="0.5" />
<rect x="484.95" y="30.35" width="5.30" height="3.75" fill="#c7e9c0" stroke="#111" stroke-width="0.5" />
<rect x="484.95" y="34.10" width="5.30" height="13.30" fill="#fdcce5" stroke="#111" stroke-width="0.5" />
<rect x="484.95" y="47.40" width="5.30" height="42.10" fill="#8bd3c7" stroke="#111" stroke-width="0.5" />
<rect x="484.95" y="89.50" width="5.30" height="10.10" fill="#bebada" stroke="#111" stroke-width="0.5" />
<rect x="484.95" y="99.60" width="5.30" height="17.00" fill="#f4828a" stroke="#111" stroke-width="0.5" />
<rect x="484.95" y="116.60" width="5.30" height="3.70" fill="#b2e061" stroke="#111" stroke-width="0.5" />
<rect x="484.95" y="120.30" width="5.30" height="28.40" fill="#fed29b" stroke="#111" stroke-width="0.5" />
<rect x="492.70" y="30.35" width="5.30" height="2.55" fill="#c7e9c0" stroke="#111" stroke-width="0.5" />
<rect x="492.70" y="32.90" width="5.30" height="5.20" fill="#bd7ebe" stroke="#111" stroke-width="0.5" />
<rect x="492.70" y="38.10" width="5.30" height="4.40" fill="#fdcce5" stroke="#111" stroke-width="0.5" />
<rect x="492.70" y="42.50" width="5.30" height="23.90" fill="#ffffb3" stroke="#111" stroke-width="0.5" />
<rect x="492.70" y="66.40" width="5.30" height="15.10" fill="#8bd3c7" stroke="#111" stroke-width="0.5" />
<rect x="492.70" y="81.50" width="5.30" height="45.20" fill="#bebada" stroke="#111" stroke-width="0.5" />
<rect x="492.70" y="126.70" width="5.30" height="1.50" fill="#f4828a" stroke="#111" stroke-width="0.5" />
<rect x="492.70" y="128.20" width="5.30" height="8.20" fill="#b2e061" stroke="#111" stroke-width="0.5" />
<rect x="492.70" y="136.40" width="5.30" height="12.30" fill="#fed29b" stroke="#111" stroke-width="0.5" />
<rect x="500.45" y="30.35" width="5.30" height="5.95" fill="#c7e9c0" stroke="#111" stroke-width="0.5" />
<rect x="500.45" y="36.30" width="5.30" height="19.50" fill="#bd7ebe" stroke="#111" stroke-width="0.5" />
<rect x="500.45" y="55.80" width="5.30" height="5.00" fill="#fdcce5" stroke="#111" stroke-width="0.5" />
<rect x="500.45" y="60.80" width="5.30" height="19.70" fill="#ffffb3" stroke="#111" stroke-width="0.5" />
<rect x="500.45" y="80.50" width="5.30" height="48.90" fill="#bebada" stroke="#111" stroke-width="0.5" />
<rect x="500.45" y="129.40" width="5.30" height="2.50" fill="#f4828a" stroke="#111" stroke-width="0.5" />
<rect x="500.45" y="131.90" width="5.30" height="0.50" fill="#b2e061" stroke="#111" stroke-width="0.5" />
<rect x="500.45" y="132.40" width="5.30" height="16.30" fill="#fed29b" stroke="#111" stroke-width="0.5" />
<rect x="513.30" y="11.30" width="48.60" height="10.10" fill="#0000ff" />
<text x="537.60" y="18.40" font-size="5.2" text-anchor="middle" fill="#fff">HFD</text>
<rect x="513.30" y="24.30" width="48.90" height="130.60" fill="#fff" stroke="#444" stroke-width="0.55" />
<path d="M520.70 30.35C521.92 30.35 521.92 30.35 523.15 30.35L523.15 31.60C521.92 31.60 521.92 30.90 520.70 30.90Z" fill="#c7e9c0" stroke="#444" stroke-width="0.35" fill-opacity="0.5" stroke-opacity="0.85"/>
<path d="M520.70 30.90C521.92 30.90 521.92 31.60 523.15 31.60L523.15 34.10C521.92 34.10 521.92 32.60 520.70 32.60Z" fill="#bd7ebe" stroke="#444" stroke-width="0.35" fill-opacity="0.5" stroke-opacity="0.85"/>
<path d="M520.70 32.60C521.92 32.60 521.92 34.10 523.15 34.10L523.15 34.60C521.92 34.60 521.92 35.60 520.70 35.60Z" fill="#fdcce5" stroke="#444" stroke-width="0.35" fill-opacity="0.5" stroke-opacity="0.85"/>
<path d="M520.70 35.60C521.92 35.60 521.92 34.60 523.15 34.60L523.15 110.20C521.92 110.20 521.92 102.30 520.70 102.30Z" fill="#ffffb3" stroke="#444" stroke-width="0.35" fill-opacity="0.5" stroke-opacity="0.85"/>
<path d="M520.70 102.30C521.92 102.30 521.92 110.20 523.15 110.20L523.15 121.50C521.92 121.50 521.92 115.50 520.70 115.50Z" fill="#8bd3c7" stroke="#444" stroke-width="0.35" fill-opacity="0.5" stroke-opacity="0.85"/>
<path d="M520.70 115.50C521.92 115.50 521.92 121.50 523.15 121.50L523.15 125.30C521.92 125.30 521.92 117.80 520.70 117.80Z" fill="#7eb0d5" stroke="#444" stroke-width="0.35" fill-opacity="0.5" stroke-opacity="0.85"/>
<path d="M520.70 117.80C521.92 117.80 521.92 125.30 523.15 125.30L523.15 135.10C521.92 135.10 521.92 136.20 520.70 136.20Z" fill="#bebada" stroke="#444" stroke-width="0.35" fill-opacity="0.5" stroke-opacity="0.85"/>
<path d="M520.70 136.20C521.92 136.20 521.92 135.10 523.15 135.10L523.15 138.50C521.92 138.50 521.92 140.50 520.70 140.50Z" fill="#f4828a" stroke="#444" stroke-width="0.35" fill-opacity="0.5" stroke-opacity="0.85"/>
<path d="M520.70 140.50C521.92 140.50 521.92 138.50 523.15 138.50L523.15 138.50C521.92 138.50 521.92 141.00 520.70 141.00Z" fill="#b2e061" stroke="#444" stroke-width="0.35" fill-opacity="0.5" stroke-opacity="0.85"/>
<path d="M520.70 141.00C521.92 141.00 521.92 138.50 523.15 138.50L523.15 148.70C521.92 148.70 521.92 148.70 520.70 148.70Z" fill="#fed29b" stroke="#444" stroke-width="0.35" fill-opacity="0.5" stroke-opacity="0.85"/>
<path d="M528.45 30.35C529.67 30.35 529.67 30.35 530.90 30.35L530.90 33.10C529.67 33.10 529.67 30.35 528.45 30.35Z" fill="#bdbdbd" stroke="#444" stroke-width="0.35" fill-opacity="0.5" stroke-opacity="0.85"/>
<path d="M528.45 30.35C529.67 30.35 529.67 33.10 530.90 33.10L530.90 33.80C529.67 33.80 529.67 31.60 528.45 31.60Z" fill="#c7e9c0" stroke="#444" stroke-width="0.35" fill-opacity="0.5" stroke-opacity="0.85"/>
<path d="M528.45 31.60C529.67 31.60 529.67 33.80 530.90 33.80L530.90 36.60C529.67 36.60 529.67 34.10 528.45 34.10Z" fill="#bd7ebe" stroke="#444" stroke-width="0.35" fill-opacity="0.5" stroke-opacity="0.85"/>
<path d="M528.45 34.10C529.67 34.10 529.67 36.60 530.90 36.60L530.90 44.20C529.67 44.20 529.67 34.60 528.45 34.60Z" fill="#fdcce5" stroke="#444" stroke-width="0.35" fill-opacity="0.5" stroke-opacity="0.85"/>
<path d="M528.45 34.60C529.67 34.60 529.67 44.20 530.90 44.20L530.90 82.30C529.67 82.30 529.67 110.20 528.45 110.20Z" fill="#ffffb3" stroke="#444" stroke-width="0.35" fill-opacity="0.5" stroke-opacity="0.85"/>
<path d="M528.45 110.20C529.67 110.20 529.67 82.30 530.90 82.30L530.90 108.70C529.67 108.70 529.67 121.50 528.45 121.50Z" fill="#8bd3c7" stroke="#444" stroke-width="0.35" fill-opacity="0.5" stroke-opacity="0.85"/>
<path d="M528.45 121.50C529.67 121.50 529.67 108.70 530.90 108.70L530.90 110.50C529.67 110.50 529.67 125.30 528.45 125.30Z" fill="#7eb0d5" stroke="#444" stroke-width="0.35" fill-opacity="0.5" stroke-opacity="0.85"/>
<path d="M528.45 125.30C529.67 125.30 529.67 110.50 530.90 110.50L530.90 117.50C529.67 117.50 529.67 135.10 528.45 135.10Z" fill="#bebada" stroke="#444" stroke-width="0.35" fill-opacity="0.5" stroke-opacity="0.85"/>
<path d="M528.45 135.10C529.67 135.10 529.67 117.50 530.90 117.50L530.90 119.60C529.67 119.60 529.67 138.50 528.45 138.50Z" fill="#f4828a" stroke="#444" stroke-width="0.35" fill-opacity="0.5" stroke-opacity="0.85"/>
<path d="M528.45 138.50C529.67 138.50 529.67 119.60 530.90 119.60L530.90 121.00C529.67 121.00 529.67 138.50 528.45 138.50Z" fill="#b2e061" stroke="#444" stroke-width="0.35" fill-opacity="0.5" stroke-opacity="0.85"/>
<path d="M528.45 138.50C529.67 138.50 529.67 121.00 530.90 121.00L530.90 148.70C529.67 148.70 529.67 148.70 528.45 148.70Z" fill="#fed29b" stroke="#444" stroke-width="0.35" fill-opacity="0.5" stroke-opacity="0.85"/>
<path d="M536.20 30.35C537.42 30.35 537.42 30.35 538.65 30.35L538.65 30.35C537.42 30.35 537.42 33.10 536.20 33.10Z" fill="#bdbdbd" stroke="#444" stroke-width="0.35" fill-opacity="0.5" stroke-opacity="0.85"/>
<path d="M536.20 33.10C537.42 33.10 537.42 30.35 538.65 30.35L538.65 33.10C537.42 33.10 537.42 33.80 536.20 33.80Z" fill="#c7e9c0" stroke="#444" stroke-width="0.35" fill-opacity="0.5" stroke-opacity="0.85"/>
<path d="M536.20 33.80C537.42 33.80 537.42 33.10 538.65 33.10L538.65 35.60C537.42 35.60 537.42 36.60 536.20 36.60Z" fill="#bd7ebe" stroke="#444" stroke-width="0.35" fill-opacity="0.5" stroke-opacity="0.85"/>
<path d="M536.20 36.60C537.42 36.60 537.42 35.60 538.65 35.60L538.65 40.10C537.42 40.10 537.42 44.20 536.20 44.20Z" fill="#fdcce5" stroke="#444" stroke-width="0.35" fill-opacity="0.5" stroke-opacity="0.85"/>
<path d="M536.20 44.20C537.42 44.20 537.42 40.10 538.65 40.10L538.65 70.40C537.42 70.40 537.42 82.30 536.20 82.30Z" fill="#ffffb3" stroke="#444" stroke-width="0.35" fill-opacity="0.5" stroke-opacity="0.85"/>
<path d="M536.20 82.30C537.42 82.30 537.42 70.40 538.65 70.40L538.65 101.30C537.42 101.30 537.42 108.70 536.20 108.70Z" fill="#8bd3c7" stroke="#444" stroke-width="0.35" fill-opacity="0.5" stroke-opacity="0.85"/>
<path d="M536.20 108.70C537.42 108.70 537.42 101.30 538.65 101.30L538.65 101.30C537.42 101.30 537.42 110.50 536.20 110.50Z" fill="#7eb0d5" stroke="#444" stroke-width="0.35" fill-opacity="0.5" stroke-opacity="0.85"/>
<path d="M536.20 110.50C537.42 110.50 537.42 101.30 538.65 101.30L538.65 122.50C537.42 122.50 537.42 117.50 536.20 117.50Z" fill="#bebada" stroke="#444" stroke-width="0.35" fill-opacity="0.5" stroke-opacity="0.85"/>
<path d="M536.20 117.50C537.42 117.50 537.42 122.50 538.65 122.50L538.65 131.90C537.42 131.90 537.42 119.60 536.20 119.60Z" fill="#f4828a" stroke="#444" stroke-width="0.35" fill-opacity="0.5" stroke-opacity="0.85"/>
<path d="M536.20 119.60C537.42 119.60 537.42 131.90 538.65 131.90L538.65 133.40C537.42 133.40 537.42 121.00 536.20 121.00Z" fill="#b2e061" stroke="#444" stroke-width="0.35" fill-opacity="0.5" stroke-opacity="0.85"/>
<path d="M536.20 121.00C537.42 121.00 537.42 133.40 538.65 133.40L538.65 148.70C537.42 148.70 537.42 148.70 536.20 148.70Z" fill="#fed29b" stroke="#444" stroke-width="0.35" fill-opacity="0.5" stroke-opacity="0.85"/>
<path d="M543.95 30.35C545.17 30.35 545.17 30.35 546.40 30.35L546.40 32.10C545.17 32.10 545.17 33.10 543.95 33.10Z" fill="#c7e9c0" stroke="#444" stroke-width="0.35" fill-opacity="0.5" stroke-opacity="0.85"/>
<path d="M543.95 33.10C545.17 33.10 545.17 32.10 546.40 32.10L546.40 34.60C545.17 34.60 545.17 35.60 543.95 35.60Z" fill="#bd7ebe" stroke="#444" stroke-width="0.35" fill-opacity="0.5" stroke-opacity="0.85"/>
<path d="M543.95 35.60C545.17 35.60 545.17 34.60 546.40 34.60L546.40 50.40C545.17 50.40 545.17 40.10 543.95 40.10Z" fill="#fdcce5" stroke="#444" stroke-width="0.35" fill-opacity="0.5" stroke-opacity="0.85"/>
<path d="M543.95 40.10C545.17 40.10 545.17 50.40 546.40 50.40L546.40 92.00C545.17 92.00 545.17 70.40 543.95 70.40Z" fill="#ffffb3" stroke="#444" stroke-width="0.35" fill-opacity="0.5" stroke-opacity="0.85"/>
<path d="M543.95 70.40C545.17 70.40 545.17 92.00 546.40 92.00L546.40 105.40C545.17 105.40 545.17 101.30 543.95 101.30Z" fill="#8bd3c7" stroke="#444" stroke-width="0.35" fill-opacity="0.5" stroke-opacity="0.85"/>
<path d="M543.95 101.30C545.17 101.30 545.17 105.40 546.40 105.40L546.40 107.40C545.17 107.40 545.17 101.30 543.95 101.30Z" fill="#7eb0d5" stroke="#444" stroke-width="0.35" fill-opacity="0.5" stroke-opacity="0.85"/>
<path d="M543.95 101.30C545.17 101.30 545.17 107.40 546.40 107.40L546.40 111.40C545.17 111.40 545.17 122.50 543.95 122.50Z" fill="#bebada" stroke="#444" stroke-width="0.35" fill-opacity="0.5" stroke-opacity="0.85"/>
<path d="M543.95 122.50C545.17 122.50 545.17 111.40 546.40 111.40L546.40 119.30C545.17 119.30 545.17 131.90 543.95 131.90Z" fill="#f4828a" stroke="#444" stroke-width="0.35" fill-opacity="0.5" stroke-opacity="0.85"/>
<path d="M543.95 131.90C545.17 131.90 545.17 119.30 546.40 119.30L546.40 120.30C545.17 120.30 545.17 133.40 543.95 133.40Z" fill="#b2e061" stroke="#444" stroke-width="0.35" fill-opacity="0.5" stroke-opacity="0.85"/>
<path d="M543.95 133.40C545.17 133.40 545.17 120.30 546.40 120.30L546.40 148.70C545.17 148.70 545.17 148.70 543.95 148.70Z" fill="#fed29b" stroke="#444" stroke-width="0.35" fill-opacity="0.5" stroke-opacity="0.85"/>
<path d="M551.70 30.35C552.92 30.35 552.92 30.35 554.15 30.35L554.15 32.60C552.92 32.60 552.92 32.10 551.70 32.10Z" fill="#c7e9c0" stroke="#444" stroke-width="0.35" fill-opacity="0.5" stroke-opacity="0.85"/>
<path d="M551.70 32.10C552.92 32.10 552.92 32.60 554.15 32.60L554.15 32.60C552.92 32.60 552.92 34.60 551.70 34.60Z" fill="#bd7ebe" stroke="#444" stroke-width="0.35" fill-opacity="0.5" stroke-opacity="0.85"/>
<path d="M551.70 34.60C552.92 34.60 552.92 32.60 554.15 32.60L554.15 48.20C552.92 48.20 552.92 50.40 551.70 50.40Z" fill="#fdcce5" stroke="#444" stroke-width="0.35" fill-opacity="0.5" stroke-opacity="0.85"/>
<path d="M551.70 50.40C552.92 50.40 552.92 48.20 554.15 48.20L554.15 56.30C552.92 56.30 552.92 92.00 551.70 92.00Z" fill="#ffffb3" stroke="#444" stroke-width="0.35" fill-opacity="0.5" stroke-opacity="0.85"/>
<path d="M551.70 92.00C552.92 92.00 552.92 56.30 554.15 56.30L554.15 109.70C552.92 109.70 552.92 105.40 551.70 105.40Z" fill="#8bd3c7" stroke="#444" stroke-width="0.35" fill-opacity="0.5" stroke-opacity="0.85"/>
<path d="M551.70 105.40C552.92 105.40 552.92 109.70 554.15 109.70L554.15 109.70C552.92 109.70 552.92 107.40 551.70 107.40Z" fill="#7eb0d5" stroke="#444" stroke-width="0.35" fill-opacity="0.5" stroke-opacity="0.85"/>
<path d="M551.70 107.40C552.92 107.40 552.92 109.70 554.15 109.70L554.15 109.70C552.92 109.70 552.92 111.40 551.70 111.40Z" fill="#bebada" stroke="#444" stroke-width="0.35" fill-opacity="0.5" stroke-opacity="0.85"/>
<path d="M551.70 111.40C552.92 111.40 552.92 109.70 554.15 109.70L554.15 134.40C552.92 134.40 552.92 119.30 551.70 119.30Z" fill="#f4828a" stroke="#444" stroke-width="0.35" fill-opacity="0.5" stroke-opacity="0.85"/>
<path d="M551.70 119.30C552.92 119.30 552.92 134.40 554.15 134.40L554.15 138.20C552.92 138.20 552.92 120.30 551.70 120.30Z" fill="#b2e061" stroke="#444" stroke-width="0.35" fill-opacity="0.5" stroke-opacity="0.85"/>
<path d="M551.70 120.30C552.92 120.30 552.92 138.20 554.15 138.20L554.15 148.70C552.92 148.70 552.92 148.70 551.70 148.70Z" fill="#fed29b" stroke="#444" stroke-width="0.35" fill-opacity="0.5" stroke-opacity="0.85"/>
<rect x="515.40" y="30.35" width="5.30" height="0.55" fill="#c7e9c0" stroke="#111" stroke-width="0.5" />
<rect x="515.40" y="30.90" width="5.30" height="1.70" fill="#bd7ebe" stroke="#111" stroke-width="0.5" />
<rect x="515.40" y="32.60" width="5.30" height="3.00" fill="#fdcce5" stroke="#111" stroke-width="0.5" />
<rect x="515.40" y="35.60" width="5.30" height="66.70" fill="#ffffb3" stroke="#111" stroke-width="0.5" />
<rect x="515.40" y="102.30" width="5.30" height="13.20" fill="#8bd3c7" stroke="#111" stroke-width="0.5" />
<rect x="515.40" y="115.50" width="5.30" height="2.30" fill="#7eb0d5" stroke="#111" stroke-width="0.5" />
<rect x="515.40" y="117.80" width="5.30" height="18.40" fill="#bebada" stroke="#111" stroke-width="0.5" />
<rect x="515.40" y="136.20" width="5.30" height="4.30" fill="#f4828a" stroke="#111" stroke-width="0.5" />
<rect x="515.40" y="140.50" width="5.30" height="0.50" fill="#b2e061" stroke="#111" stroke-width="0.5" />
<rect x="515.40" y="141.00" width="5.30" height="7.70" fill="#fed29b" stroke="#111" stroke-width="0.5" />
<rect x="523.15" y="30.35" width="5.30" height="1.25" fill="#c7e9c0" stroke="#111" stroke-width="0.5" />
<rect x="523.15" y="31.60" width="5.30" height="2.50" fill="#bd7ebe" stroke="#111" stroke-width="0.5" />
<rect x="523.15" y="34.10" width="5.30" height="0.50" fill="#fdcce5" stroke="#111" stroke-width="0.5" />
<rect x="523.15" y="34.60" width="5.30" height="75.60" fill="#ffffb3" stroke="#111" stroke-width="0.5" />
<rect x="523.15" y="110.20" width="5.30" height="11.30" fill="#8bd3c7" stroke="#111" stroke-width="0.5" />
<rect x="523.15" y="121.50" width="5.30" height="3.80" fill="#7eb0d5" stroke="#111" stroke-width="0.5" />
<rect x="523.15" y="125.30" width="5.30" height="9.80" fill="#bebada" stroke="#111" stroke-width="0.5" />
<rect x="523.15" y="135.10" width="5.30" height="3.40" fill="#f4828a" stroke="#111" stroke-width="0.5" />
<rect x="523.15" y="138.50" width="5.30" height="10.20" fill="#fed29b" stroke="#111" stroke-width="0.5" />
<rect x="530.90" y="30.35" width="5.30" height="2.75" fill="#bdbdbd" stroke="#111" stroke-width="0.5" />
<rect x="530.90" y="33.10" width="5.30" height="0.70" fill="#c7e9c0" stroke="#111" stroke-width="0.5" />
<rect x="530.90" y="33.80" width="5.30" height="2.80" fill="#bd7ebe" stroke="#111" stroke-width="0.5" />
<rect x="530.90" y="36.60" width="5.30" height="7.60" fill="#fdcce5" stroke="#111" stroke-width="0.5" />
<rect x="530.90" y="44.20" width="5.30" height="38.10" fill="#ffffb3" stroke="#111" stroke-width="0.5" />
<rect x="530.90" y="82.30" width="5.30" height="26.40" fill="#8bd3c7" stroke="#111" stroke-width="0.5" />
<rect x="530.90" y="108.70" width="5.30" height="1.80" fill="#7eb0d5" stroke="#111" stroke-width="0.5" />
<rect x="530.90" y="110.50" width="5.30" height="7.00" fill="#bebada" stroke="#111" stroke-width="0.5" />
<rect x="530.90" y="117.50" width="5.30" height="2.10" fill="#f4828a" stroke="#111" stroke-width="0.5" />
<rect x="530.90" y="119.60" width="5.30" height="1.40" fill="#b2e061" stroke="#111" stroke-width="0.5" />
<rect x="530.90" y="121.00" width="5.30" height="27.70" fill="#fed29b" stroke="#111" stroke-width="0.5" />
<rect x="538.65" y="30.35" width="5.30" height="2.75" fill="#c7e9c0" stroke="#111" stroke-width="0.5" />
<rect x="538.65" y="33.10" width="5.30" height="2.50" fill="#bd7ebe" stroke="#111" stroke-width="0.5" />
<rect x="538.65" y="35.60" width="5.30" height="4.50" fill="#fdcce5" stroke="#111" stroke-width="0.5" />
<rect x="538.65" y="40.10" width="5.30" height="30.30" fill="#ffffb3" stroke="#111" stroke-width="0.5" />
<rect x="538.65" y="70.40" width="5.30" height="30.90" fill="#8bd3c7" stroke="#111" stroke-width="0.5" />
<rect x="538.65" y="101.30" width="5.30" height="21.20" fill="#bebada" stroke="#111" stroke-width="0.5" />
<rect x="538.65" y="122.50" width="5.30" height="9.40" fill="#f4828a" stroke="#111" stroke-width="0.5" />
<rect x="538.65" y="131.90" width="5.30" height="1.50" fill="#b2e061" stroke="#111" stroke-width="0.5" />
<rect x="538.65" y="133.40" width="5.30" height="15.30" fill="#fed29b" stroke="#111" stroke-width="0.5" />
<rect x="546.40" y="30.35" width="5.30" height="1.75" fill="#c7e9c0" stroke="#111" stroke-width="0.5" />
<rect x="546.40" y="32.10" width="5.30" height="2.50" fill="#bd7ebe" stroke="#111" stroke-width="0.5" />
<rect x="546.40" y="34.60" width="5.30" height="15.80" fill="#fdcce5" stroke="#111" stroke-width="0.5" />
<rect x="546.40" y="50.40" width="5.30" height="41.60" fill="#ffffb3" stroke="#111" stroke-width="0.5" />
<rect x="546.40" y="92.00" width="5.30" height="13.40" fill="#8bd3c7" stroke="#111" stroke-width="0.5" />
<rect x="546.40" y="105.40" width="5.30" height="2.00" fill="#7eb0d5" stroke="#111" stroke-width="0.5" />
<rect x="546.40" y="107.40" width="5.30" height="4.00" fill="#bebada" stroke="#111" stroke-width="0.5" />
<rect x="546.40" y="111.40" width="5.30" height="7.90" fill="#f4828a" stroke="#111" stroke-width="0.5" />
<rect x="546.40" y="119.30" width="5.30" height="1.00" fill="#b2e061" stroke="#111" stroke-width="0.5" />
<rect x="546.40" y="120.30" width="5.30" height="28.40" fill="#fed29b" stroke="#111" stroke-width="0.5" />
<rect x="554.15" y="30.35" width="5.30" height="2.25" fill="#c7e9c0" stroke="#111" stroke-width="0.5" />
<rect x="554.15" y="32.60" width="5.30" height="15.60" fill="#fdcce5" stroke="#111" stroke-width="0.5" />
<rect x="554.15" y="48.20" width="5.30" height="8.10" fill="#ffffb3" stroke="#111" stroke-width="0.5" />
<rect x="554.15" y="56.30" width="5.30" height="53.40" fill="#8bd3c7" stroke="#111" stroke-width="0.5" />
<rect x="554.15" y="109.70" width="5.30" height="24.70" fill="#f4828a" stroke="#111" stroke-width="0.5" />
<rect x="554.15" y="134.40" width="5.30" height="3.80" fill="#b2e061" stroke="#111" stroke-width="0.5" />
<rect x="554.15" y="138.20" width="5.30" height="10.50" fill="#fed29b" stroke="#111" stroke-width="0.5" />
<rect x="567.00" y="11.30" width="48.60" height="10.10" fill="#8c8cff" />
<text x="591.30" y="18.40" font-size="5.2" text-anchor="middle" fill="#fff">HFD+LRD80%</text>
<rect x="567.00" y="24.30" width="48.90" height="130.60" fill="#fff" stroke="#444" stroke-width="0.55" />
<path d="M574.40 30.35C575.62 30.35 575.62 30.35 576.85 30.35L576.85 32.30C575.62 32.30 575.62 30.35 574.40 30.35Z" fill="#bdbdbd" stroke="#444" stroke-width="0.35" fill-opacity="0.5" stroke-opacity="0.85"/>
<path d="M574.40 30.35C575.62 30.35 575.62 32.30 576.85 32.30L576.85 34.10C575.62 34.10 575.62 32.10 574.40 32.10Z" fill="#c7e9c0" stroke="#444" stroke-width="0.35" fill-opacity="0.5" stroke-opacity="0.85"/>
<path d="M574.40 32.10C575.62 32.10 575.62 34.10 576.85 34.10L576.85 34.10C575.62 34.10 575.62 34.60 574.40 34.60Z" fill="#bd7ebe" stroke="#444" stroke-width="0.35" fill-opacity="0.5" stroke-opacity="0.85"/>
<path d="M574.40 34.60C575.62 34.60 575.62 34.10 576.85 34.10L576.85 47.40C575.62 47.40 575.62 35.60 574.40 35.60Z" fill="#fdcce5" stroke="#444" stroke-width="0.35" fill-opacity="0.5" stroke-opacity="0.85"/>
<path d="M574.40 35.60C575.62 35.60 575.62 47.40 576.85 47.40L576.85 77.50C575.62 77.50 575.62 117.50 574.40 117.50Z" fill="#ffffb3" stroke="#444" stroke-width="0.35" fill-opacity="0.5" stroke-opacity="0.85"/>
<path d="M574.40 117.50C575.62 117.50 575.62 77.50 576.85 77.50L576.85 111.40C575.62 111.40 575.62 120.30 574.40 120.30Z" fill="#8bd3c7" stroke="#444" stroke-width="0.35" fill-opacity="0.5" stroke-opacity="0.85"/>
<path d="M574.40 120.30C575.62 120.30 575.62 111.40 576.85 111.40L576.85 117.80C575.62 117.80 575.62 125.80 574.40 125.80Z" fill="#7eb0d5" stroke="#444" stroke-width="0.35" fill-opacity="0.5" stroke-opacity="0.85"/>
<path d="M574.40 125.80C575.62 125.80 575.62 117.80 576.85 117.80L576.85 119.80C575.62 119.80 575.62 127.90 574.40 127.90Z" fill="#bebada" stroke="#444" stroke-width="0.35" fill-opacity="0.5" stroke-opacity="0.85"/>
<path d="M574.40 127.90C575.62 127.90 575.62 119.80 576.85 119.80L576.85 131.90C575.62 131.90 575.62 127.90 574.40 127.90Z" fill="#f4828a" stroke="#444" stroke-width="0.35" fill-opacity="0.5" stroke-opacity="0.85"/>
<path d="M574.40 127.90C575.62 127.90 575.62 131.90 576.85 131.90L576.85 134.40C575.62 134.40 575.62 127.90 574.40 127.90Z" fill="#b2e061" stroke="#444" stroke-width="0.35" fill-opacity="0.5" stroke-opacity="0.85"/>
<path d="M574.40 127.90C575.62 127.90 575.62 134.40 576.85 134.40L576.85 148.70C575.62 148.70 575.62 148.70 574.40 148.70Z" fill="#fed29b" stroke="#444" stroke-width="0.35" fill-opacity="0.5" stroke-opacity="0.85"/>
<path d="M582.15 30.35C583.38 30.35 583.38 30.35 584.60 30.35L584.60 30.35C583.38 30.35 583.38 32.30 582.15 32.30Z" fill="#bdbdbd" stroke="#444" stroke-width="0.35" fill-opacity="0.5" stroke-opacity="0.85"/>
<path d="M582.15 32.30C583.38 32.30 583.38 30.35 584.60 30.35L584.60 32.60C583.38 32.60 583.38 34.10 582.15 34.10Z" fill="#c7e9c0" stroke="#444" stroke-width="0.35" fill-opacity="0.5" stroke-opacity="0.85"/>
<path d="M582.15 34.10C583.38 34.10 583.38 32.60 584.60 32.60L584.60 33.60C583.38 33.60 583.38 34.10 582.15 34.10Z" fill="#bd7ebe" stroke="#444" stroke-width="0.35" fill-opacity="0.5" stroke-opacity="0.85"/>
<path d="M582.15 34.10C583.38 34.10 583.38 33.60 584.60 33.60L584.60 41.70C583.38 41.70 583.38 47.40 582.15 47.40Z" fill="#fdcce5" stroke="#444" stroke-width="0.35" fill-opacity="0.5" stroke-opacity="0.85"/>
<path d="M582.15 47.40C583.38 47.40 583.38 41.70 584.60 41.70L584.60 71.40C583.38 71.40 583.38 77.50 582.15 77.50Z" fill="#ffffb3" stroke="#444" stroke-width="0.35" fill-opacity="0.5" stroke-opacity="0.85"/>
<path d="M582.15 77.50C583.38 77.50 583.38 71.40 584.60 71.40L584.60 97.60C583.38 97.60 583.38 111.40 582.15 111.40Z" fill="#8bd3c7" stroke="#444" stroke-width="0.35" fill-opacity="0.5" stroke-opacity="0.85"/>
<path d="M582.15 111.40C583.38 111.40 583.38 97.60 584.60 97.60L584.60 116.80C583.38 116.80 583.38 117.80 582.15 117.80Z" fill="#7eb0d5" stroke="#444" stroke-width="0.35" fill-opacity="0.5" stroke-opacity="0.85"/>
<path d="M582.15 117.80C583.38 117.80 583.38 116.80 584.60 116.80L584.60 118.30C583.38 118.30 583.38 119.80 582.15 119.80Z" fill="#bebada" stroke="#444" stroke-width="0.35" fill-opacity="0.5" stroke-opacity="0.85"/>
<path d="M582.15 119.80C583.38 119.80 583.38 118.30 584.60 118.30L584.60 125.30C583.38 125.30 583.38 131.90 582.15 131.90Z" fill="#f4828a" stroke="#444" stroke-width="0.35" fill-opacity="0.5" stroke-opacity="0.85"/>
<path d="M582.15 131.90C583.38 131.90 583.38 125.30 584.60 125.30L584.60 126.50C583.38 126.50 583.38 134.40 582.15 134.40Z" fill="#b2e061" stroke="#444" stroke-width="0.35" fill-opacity="0.5" stroke-opacity="0.85"/>
<path d="M582.15 134.40C583.38 134.40 583.38 126.50 584.60 126.50L584.60 148.70C583.38 148.70 583.38 148.70 582.15 148.70Z" fill="#fed29b" stroke="#444" stroke-width="0.35" fill-opacity="0.5" stroke-opacity="0.85"/>
<path d="M589.90 30.35C591.12 30.35 591.12 30.35 592.35 30.35L592.35 35.10C591.12 35.10 591.12 32.60 589.90 32.60Z" fill="#c7e9c0" stroke="#444" stroke-width="0.35" fill-opacity="0.5" stroke-opacity="0.85"/>
<path d="M589.90 32.60C591.12 32.60 591.12 35.10 592.35 35.10L592.35 35.10C591.12 35.10 591.12 33.60 589.90 33.60Z" fill="#bd7ebe" stroke="#444" stroke-width="0.35" fill-opacity="0.5" stroke-opacity="0.85"/>
<path d="M589.90 33.60C591.12 33.60 591.12 35.10 592.35 35.10L592.35 47.40C591.12 47.40 591.12 41.70 589.90 41.70Z" fill="#fdcce5" stroke="#444" stroke-width="0.35" fill-opacity="0.5" stroke-opacity="0.85"/>
<path d="M589.90 41.70C591.12 41.70 591.12 47.40 592.35 47.40L592.35 49.20C591.12 49.20 591.12 71.40 589.90 71.40Z" fill="#ffffb3" stroke="#444" stroke-width="0.35" fill-opacity="0.5" stroke-opacity="0.85"/>
<path d="M589.90 71.40C591.12 71.40 591.12 49.20 592.35 49.20L592.35 104.50C591.12 104.50 591.12 97.60 589.90 97.60Z" fill="#8bd3c7" stroke="#444" stroke-width="0.35" fill-opacity="0.5" stroke-opacity="0.85"/>
<path d="M589.90 97.60C591.12 97.60 591.12 104.50 592.35 104.50L592.35 104.50C591.12 104.50 591.12 116.80 589.90 116.80Z" fill="#7eb0d5" stroke="#444" stroke-width="0.35" fill-opacity="0.5" stroke-opacity="0.85"/>
<path d="M589.90 116.80C591.12 116.80 591.12 104.50 592.35 104.50L592.35 110.20C591.12 110.20 591.12 118.30 589.90 118.30Z" fill="#bebada" stroke="#444" stroke-width="0.35" fill-opacity="0.5" stroke-opacity="0.85"/>
<path d="M589.90 118.30C591.12 118.30 591.12 110.20 592.35 110.20L592.35 123.50C591.12 123.50 591.12 125.30 589.90 125.30Z" fill="#f4828a" stroke="#444" stroke-width="0.35" fill-opacity="0.5" stroke-opacity="0.85"/>
<path d="M589.90 125.30C591.12 125.30 591.12 123.50 592.35 123.50L592.35 125.50C591.12 125.50 591.12 126.50 589.90 126.50Z" fill="#b2e061" stroke="#444" stroke-width="0.35" fill-opacity="0.5" stroke-opacity="0.85"/>
<path d="M589.90 126.50C591.12 126.50 591.12 125.50 592.35 125.50L592.35 148.70C591.12 148.70 591.12 148.70 589.90 148.70Z" fill="#fed29b" stroke="#444" stroke-width="0.35" fill-opacity="0.5" stroke-opacity="0.85"/>
<path d="M597.65 30.35C598.88 30.35 598.88 30.35 600.10 30.35L600.10 35.30C598.88 35.30 598.88 35.10 597.65 35.10Z" fill="#c7e9c0" stroke="#444" stroke-width="0.35" fill-opacity="0.5" stroke-opacity="0.85"/>
<path d="M597.65 35.10C598.88 35.10 598.88 35.30 600.10 35.30L600.10 43.20C598.88 43.20 598.88 47.40 597.65 47.40Z" fill="#fdcce5" stroke="#444" stroke-width="0.35" fill-opacity="0.5" stroke-opacity="0.85"/>
<path d="M597.65 47.40C598.88 47.40 598.88 43.20 600.10 43.20L600.10 43.20C598.88 43.20 598.88 49.20 597.65 49.20Z" fill="#ffffb3" stroke="#444" stroke-width="0.35" fill-opacity="0.5" stroke-opacity="0.85"/>
<path d="M597.65 49.20C598.88 49.20 598.88 43.20 600.10 43.20L600.10 87.20C598.88 87.20 598.88 104.50 597.65 104.50Z" fill="#8bd3c7" stroke="#444" stroke-width="0.35" fill-opacity="0.5" stroke-opacity="0.85"/>
<path d="M597.65 104.50C598.88 104.50 598.88 87.20 600.10 87.20L600.10 87.20C598.88 87.20 598.88 110.20 597.65 110.20Z" fill="#bebada" stroke="#444" stroke-width="0.35" fill-opacity="0.5" stroke-opacity="0.85"/>
<path d="M597.65 110.20C598.88 110.20 598.88 87.20 600.10 87.20L600.10 118.80C598.88 118.80 598.88 123.50 597.65 123.50Z" fill="#f4828a" stroke="#444" stroke-width="0.35" fill-opacity="0.5" stroke-opacity="0.85"/>
<path d="M597.65 123.50C598.88 123.50 598.88 118.80 600.10 118.80L600.10 123.30C598.88 123.30 598.88 125.50 597.65 125.50Z" fill="#b2e061" stroke="#444" stroke-width="0.35" fill-opacity="0.5" stroke-opacity="0.85"/>
<path d="M597.65 125.50C598.88 125.50 598.88 123.30 600.10 123.30L600.10 148.70C598.88 148.70 598.88 148.70 597.65 148.70Z" fill="#fed29b" stroke="#444" stroke-width="0.35" fill-opacity="0.5" stroke-opacity="0.85"/>
<path d="M605.40 30.35C606.62 30.35 606.62 30.35 607.85 30.35L607.85 32.60C606.62 32.60 606.62 35.30 605.40 35.30Z" fill="#c7e9c0" stroke="#444" stroke-width="0.35" fill-opacity="0.5" stroke-opacity="0.85"/>
<path d="M605.40 35.30C606.62 35.30 606.62 32.60 607.85 32.60L607.85 42.50C606.62 42.50 606.62 43.20 605.40 43.20Z" fill="#fdcce5" stroke="#444" stroke-width="0.35" fill-opacity="0.5" stroke-opacity="0.85"/>
<path d="M605.40 43.20C606.62 43.20 606.62 42.50 607.85 42.50L607.85 44.50C606.62 44.50 606.62 43.20 605.40 43.20Z" fill="#ffffb3" stroke="#444" stroke-width="0.35" fill-opacity="0.5" stroke-opacity="0.85"/>
<path d="M605.40 43.20C606.62 43.20 606.62 44.50 607.85 44.50L607.85 101.30C606.62 101.30 606.62 87.20 605.40 87.20Z" fill="#8bd3c7" stroke="#444" stroke-width="0.35" fill-opacity="0.5" stroke-opacity="0.85"/>
<path d="M605.40 87.20C606.62 87.20 606.62 101.30 607.85 101.30L607.85 105.70C606.62 105.70 606.62 87.20 605.40 87.20Z" fill="#bebada" stroke="#444" stroke-width="0.35" fill-opacity="0.5" stroke-opacity="0.85"/>
<path d="M605.40 87.20C606.62 87.20 606.62 105.70 607.85 105.70L607.85 127.40C606.62 127.40 606.62 118.80 605.40 118.80Z" fill="#f4828a" stroke="#444" stroke-width="0.35" fill-opacity="0.5" stroke-opacity="0.85"/>
<path d="M605.40 118.80C606.62 118.80 606.62 127.40 607.85 127.40L607.85 129.20C606.62 129.20 606.62 123.30 605.40 123.30Z" fill="#b2e061" stroke="#444" stroke-width="0.35" fill-opacity="0.5" stroke-opacity="0.85"/>
<path d="M605.40 123.30C606.62 123.30 606.62 129.20 607.85 129.20L607.85 148.70C606.62 148.70 606.62 148.70 605.40 148.70Z" fill="#fed29b" stroke="#444" stroke-width="0.35" fill-opacity="0.5" stroke-opacity="0.85"/>
<rect x="569.10" y="30.35" width="5.30" height="1.75" fill="#c7e9c0" stroke="#111" stroke-width="0.5" />
<rect x="569.10" y="32.10" width="5.30" height="2.50" fill="#bd7ebe" stroke="#111" stroke-width="0.5" />
<rect x="569.10" y="34.60" width="5.30" height="1.00" fill="#fdcce5" stroke="#111" stroke-width="0.5" />
<rect x="569.10" y="35.60" width="5.30" height="81.90" fill="#ffffb3" stroke="#111" stroke-width="0.5" />
<rect x="569.10" y="117.50" width="5.30" height="2.80" fill="#8bd3c7" stroke="#111" stroke-width="0.5" />
<rect x="569.10" y="120.30" width="5.30" height="5.50" fill="#7eb0d5" stroke="#111" stroke-width="0.5" />
<rect x="569.10" y="125.80" width="5.30" height="2.10" fill="#bebada" stroke="#111" stroke-width="0.5" />
<rect x="569.10" y="127.90" width="5.30" height="20.80" fill="#fed29b" stroke="#111" stroke-width="0.5" />
<rect x="576.85" y="30.35" width="5.30" height="1.95" fill="#bdbdbd" stroke="#111" stroke-width="0.5" />
<rect x="576.85" y="32.30" width="5.30" height="1.80" fill="#c7e9c0" stroke="#111" stroke-width="0.5" />
<rect x="576.85" y="34.10" width="5.30" height="13.30" fill="#fdcce5" stroke="#111" stroke-width="0.5" />
<rect x="576.85" y="47.40" width="5.30" height="30.10" fill="#ffffb3" stroke="#111" stroke-width="0.5" />
<rect x="576.85" y="77.50" width="5.30" height="33.90" fill="#8bd3c7" stroke="#111" stroke-width="0.5" />
<rect x="576.85" y="111.40" width="5.30" height="6.40" fill="#7eb0d5" stroke="#111" stroke-width="0.5" />
<rect x="576.85" y="117.80" width="5.30" height="2.00" fill="#bebada" stroke="#111" stroke-width="0.5" />
<rect x="576.85" y="119.80" width="5.30" height="12.10" fill="#f4828a" stroke="#111" stroke-width="0.5" />
<rect x="576.85" y="131.90" width="5.30" height="2.50" fill="#b2e061" stroke="#111" stroke-width="0.5" />
<rect x="576.85" y="134.40" width="5.30" height="14.30" fill="#fed29b" stroke="#111" stroke-width="0.5" />
<rect x="584.60" y="30.35" width="5.30" height="2.25" fill="#c7e9c0" stroke="#111" stroke-width="0.5" />
<rect x="584.60" y="32.60" width="5.30" height="1.00" fill="#bd7ebe" stroke="#111" stroke-width="0.5" />
<rect x="584.60" y="33.60" width="5.30" height="8.10" fill="#fdcce5" stroke="#111" stroke-width="0.5" />
<rect x="584.60" y="41.70" width="5.30" height="29.70" fill="#ffffb3" stroke="#111" stroke-width="0.5" />
<rect x="584.60" y="71.40" width="5.30" height="26.20" fill="#8bd3c7" stroke="#111" stroke-width="0.5" />
<rect x="584.60" y="97.60" width="5.30" height="19.20" fill="#7eb0d5" stroke="#111" stroke-width="0.5" />
<rect x="584.60" y="116.80" width="5.30" height="1.50" fill="#bebada" stroke="#111" stroke-width="0.5" />
<rect x="584.60" y="118.30" width="5.30" height="7.00" fill="#f4828a" stroke="#111" stroke-width="0.5" />
<rect x="584.60" y="125.30" width="5.30" height="1.20" fill="#b2e061" stroke="#111" stroke-width="0.5" />
<rect x="584.60" y="126.50" width="5.30" height="22.20" fill="#fed29b" stroke="#111" stroke-width="0.5" />
<rect x="592.35" y="30.35" width="5.30" height="4.75" fill="#c7e9c0" stroke="#111" stroke-width="0.5" />
<rect x="592.35" y="35.10" width="5.30" height="12.30" fill="#fdcce5" stroke="#111" stroke-width="0.5" />
<rect x="592.35" y="47.40" width="5.30" height="1.80" fill="#ffffb3" stroke="#111" stroke-width="0.5" />
<rect x="592.35" y="49.20" width="5.30" height="55.30" fill="#8bd3c7" stroke="#111" stroke-width="0.5" />
<rect x="592.35" y="104.50" width="5.30" height="5.70" fill="#bebada" stroke="#111" stroke-width="0.5" />
<rect x="592.35" y="110.20" width="5.30" height="13.30" fill="#f4828a" stroke="#111" stroke-width="0.5" />
<rect x="592.35" y="123.50" width="5.30" height="2.00" fill="#b2e061" stroke="#111" stroke-width="0.5" />
<rect x="592.35" y="125.50" width="5.30" height="23.20" fill="#fed29b" stroke="#111" stroke-width="0.5" />
<rect x="600.10" y="30.35" width="5.30" height="4.95" fill="#c7e9c0" stroke="#111" stroke-width="0.5" />
<rect x="600.10" y="35.30" width="5.30" height="7.90" fill="#fdcce5" stroke="#111" stroke-width="0.5" />
<rect x="600.10" y="43.20" width="5.30" height="44.00" fill="#8bd3c7" stroke="#111" stroke-width="0.5" />
<rect x="600.10" y="87.20" width="5.30" height="31.60" fill="#f4828a" stroke="#111" stroke-width="0.5" />
<rect x="600.10" y="118.80" width="5.30" height="4.50" fill="#b2e061" stroke="#111" stroke-width="0.5" />
<rect x="600.10" y="123.30" width="5.30" height="25.40" fill="#fed29b" stroke="#111" stroke-width="0.5" />
<rect x="607.85" y="30.35" width="5.30" height="2.25" fill="#c7e9c0" stroke="#111" stroke-width="0.5" />
<rect x="607.85" y="32.60" width="5.30" height="9.90" fill="#fdcce5" stroke="#111" stroke-width="0.5" />
<rect x="607.85" y="42.50" width="5.30" height="2.00" fill="#ffffb3" stroke="#111" stroke-width="0.5" />
<rect x="607.85" y="44.50" width="5.30" height="56.80" fill="#8bd3c7" stroke="#111" stroke-width="0.5" />
<rect x="607.85" y="101.30" width="5.30" height="4.40" fill="#bebada" stroke="#111" stroke-width="0.5" />
<rect x="607.85" y="105.70" width="5.30" height="21.70" fill="#f4828a" stroke="#111" stroke-width="0.5" />
<rect x="607.85" y="127.40" width="5.30" height="1.80" fill="#b2e061" stroke="#111" stroke-width="0.5" />
<rect x="607.85" y="129.20" width="5.30" height="19.50" fill="#fed29b" stroke="#111" stroke-width="0.5" />
<text x="621.80" y="32.00" font-size="5.0" style="white-space:pre">Family   (<tspan font-style="italic">n</tspan>=6)</text>
<rect x="623.00" y="38.20" width="7.00" height="9.00" fill="#bdbdbd" stroke="#555" stroke-width="0.6" />
<text x="632.30" y="44.40" font-size="4.9">Akkermansiaceae</text>
<rect x="623.00" y="47.85" width="7.00" height="9.00" fill="#c7e9c0" stroke="#555" stroke-width="0.6" />
<text x="632.30" y="54.05" font-size="4.9">Bacteroidaceae</text>
<rect x="623.00" y="57.50" width="7.00" height="9.00" fill="#bd7ebe" stroke="#555" stroke-width="0.6" />
<text x="632.30" y="63.70" font-size="4.9">Bifidobacteriaceae</text>
<rect x="623.00" y="67.15" width="7.00" height="9.00" fill="#fdcce5" stroke="#555" stroke-width="0.6" />
<text x="632.30" y="73.35" font-size="4.9">Desulfovibrionaceae</text>
<rect x="623.00" y="76.80" width="7.00" height="9.00" fill="#ffffb3" stroke="#555" stroke-width="0.6" />
<text x="632.30" y="83.00" font-size="4.9">Erysipelotrichaceae</text>
<rect x="623.00" y="86.45" width="7.00" height="9.00" fill="#8bd3c7" stroke="#555" stroke-width="0.6" />
<text x="632.30" y="92.65" font-size="4.9">Lachnospiraceae</text>
<rect x="623.00" y="96.10" width="7.00" height="9.00" fill="#7eb0d5" stroke="#555" stroke-width="0.6" />
<text x="632.30" y="102.30" font-size="4.9">Lactobacillaceae</text>
<rect x="623.00" y="105.75" width="7.00" height="9.00" fill="#bebada" stroke="#555" stroke-width="0.6" />
<text x="632.30" y="111.95" font-size="4.9">Muribaculaceae</text>
<rect x="623.00" y="115.40" width="7.00" height="9.00" fill="#f4828a" stroke="#555" stroke-width="0.6" />
<text x="632.30" y="121.60" font-size="4.9">Oscillospiraceae</text>
<rect x="623.00" y="125.05" width="7.00" height="9.00" fill="#b2e061" stroke="#555" stroke-width="0.6" />
<text x="632.30" y="131.25" font-size="4.9">Ruminococcaceae</text>
<rect x="623.00" y="134.70" width="7.00" height="9.00" fill="#fed29b" stroke="#555" stroke-width="0.6" />
<text x="632.30" y="140.90" font-size="4.9">Others</text>
<text x="12.40" y="171.90" font-size="7.4" font-weight="bold" fill="#000">d</text>
<rect x="34.50" y="187.00" width="85.50" height="8.10" fill="#d0d0d0" />
<text x="76.80" y="193.00" font-size="5.6" text-anchor="middle" font-style="italic">Occludin</text>
<line x1="34.50" y1="187.00" x2="34.50" y2="271.80" stroke="#2a2a2a" stroke-width="0.6" />
<line x1="32.30" y1="271.80" x2="34.50" y2="271.80" stroke="#2a2a2a" stroke-width="0.6" />
<text x="31.30" y="273.96" font-size="6" text-anchor="end">0.000</text>
<line x1="32.30" y1="243.55" x2="34.50" y2="243.55" stroke="#2a2a2a" stroke-width="0.6" />
<text x="31.30" y="245.71" font-size="6" text-anchor="end">0.005</text>
<line x1="32.30" y1="215.30" x2="34.50" y2="215.30" stroke="#2a2a2a" stroke-width="0.6" />
<text x="31.30" y="217.46" font-size="6" text-anchor="end">0.010</text>
<line x1="32.30" y1="187.05" x2="34.50" y2="187.05" stroke="#2a2a2a" stroke-width="0.6" />
<text x="31.30" y="189.21" font-size="6" text-anchor="end">0.015</text>
<line x1="34.20" y1="271.80" x2="120.00" y2="271.80" stroke="#2a2a2a" stroke-width="0.6" />
<line x1="120.00" y1="187.00" x2="120.00" y2="271.80" stroke="#2a2a2a" stroke-width="0.6" />
<text x="11.60" y="229.00" font-size="6.6" text-anchor="middle" font-style="italic" transform="rotate(-90 11.60 229.00)">Relative mRNA expression</text>
<rect x="41.30" y="224.30" width="13.00" height="47.50" fill="#ff6000" />
<line x1="47.80" y1="211.50" x2="47.80" y2="224.50" stroke="#333" stroke-width="0.5" />
<line x1="45.60" y1="211.50" x2="50.00" y2="211.50" stroke="#333" stroke-width="0.5" />
<circle cx="48.40" cy="208.50" r="1.2" fill="#fff" stroke="#222" stroke-width="0.5" />
<circle cx="45.20" cy="215.00" r="1.2" fill="#fff" stroke="#222" stroke-width="0.5" />
<circle cx="51.40" cy="215.00" r="1.2" fill="#fff" stroke="#222" stroke-width="0.5" />
<circle cx="47.80" cy="225.00" r="1.2" fill="#fff" stroke="#222" stroke-width="0.5" />
<circle cx="44.60" cy="235.00" r="1.2" fill="#fff" stroke="#222" stroke-width="0.5" />
<circle cx="50.80" cy="235.50" r="1.2" fill="#fff" stroke="#222" stroke-width="0.5" />
<line x1="47.80" y1="271.80" x2="47.80" y2="273.80" stroke="#2a2a2a" stroke-width="0.6" />
<text x="47.80" y="282.80" font-size="5.8" text-anchor="middle">0</text>
<rect x="60.80" y="224.60" width="13.00" height="47.20" fill="#ffbf80" />
<line x1="67.30" y1="209.30" x2="67.30" y2="224.80" stroke="#333" stroke-width="0.5" />
<line x1="65.10" y1="209.30" x2="69.50" y2="209.30" stroke="#333" stroke-width="0.5" />
<circle cx="67.30" cy="208.00" r="1.2" fill="#fff" stroke="#222" stroke-width="0.5" />
<circle cx="67.90" cy="214.00" r="1.2" fill="#fff" stroke="#222" stroke-width="0.5" />
<circle cx="67.30" cy="221.50" r="1.2" fill="#fff" stroke="#222" stroke-width="0.5" />
<circle cx="67.30" cy="228.00" r="1.2" fill="#fff" stroke="#222" stroke-width="0.5" />
<circle cx="67.30" cy="231.50" r="1.2" fill="#fff" stroke="#222" stroke-width="0.5" />
<circle cx="67.30" cy="236.00" r="1.2" fill="#fff" stroke="#222" stroke-width="0.5" />
<line x1="67.30" y1="271.80" x2="67.30" y2="273.80" stroke="#2a2a2a" stroke-width="0.6" />
<text x="67.30" y="282.80" font-size="5.8" text-anchor="middle">80%</text>
<rect x="80.50" y="243.30" width="13.00" height="28.50" fill="#0000ff" />
<line x1="87.00" y1="237.60" x2="87.00" y2="243.50" stroke="#333" stroke-width="0.5" />
<line x1="84.80" y1="237.60" x2="89.20" y2="237.60" stroke="#333" stroke-width="0.5" />
<circle cx="87.20" cy="235.20" r="1.2" fill="#fff" stroke="#222" stroke-width="0.5" />
<circle cx="85.80" cy="239.80" r="1.2" fill="#fff" stroke="#222" stroke-width="0.5" />
<circle cx="88.40" cy="240.20" r="1.2" fill="#fff" stroke="#222" stroke-width="0.5" />
<circle cx="83.50" cy="247.30" r="1.2" fill="#fff" stroke="#222" stroke-width="0.5" />
<circle cx="87.30" cy="247.30" r="1.2" fill="#fff" stroke="#222" stroke-width="0.5" />
<circle cx="91.00" cy="248.30" r="1.2" fill="#fff" stroke="#222" stroke-width="0.5" />
<line x1="87.00" y1="271.80" x2="87.00" y2="273.80" stroke="#2a2a2a" stroke-width="0.6" />
<text x="87.00" y="282.80" font-size="5.8" text-anchor="middle">0</text>
<rect x="100.10" y="225.80" width="13.00" height="46.00" fill="#8c8cff" />
<line x1="106.60" y1="214.60" x2="106.60" y2="226.00" stroke="#333" stroke-width="0.5" />
<line x1="104.40" y1="214.60" x2="108.80" y2="214.60" stroke="#333" stroke-width="0.5" />
<circle cx="106.80" cy="211.50" r="1.2" fill="#fff" stroke="#222" stroke-width="0.5" />
<circle cx="103.60" cy="217.50" r="1.2" fill="#fff" stroke="#222" stroke-width="0.5" />
<circle cx="110.00" cy="218.00" r="1.2" fill="#fff" stroke="#222" stroke-width="0.5" />
<circle cx="107.10" cy="222.50" r="1.2" fill="#fff" stroke="#222" stroke-width="0.5" />
<circle cx="103.00" cy="224.50" r="1.2" fill="#fff" stroke="#222" stroke-width="0.5" />
<circle cx="109.60" cy="228.50" r="1.2" fill="#fff" stroke="#222" stroke-width="0.5" />
<line x1="106.60" y1="271.80" x2="106.60" y2="273.80" stroke="#2a2a2a" stroke-width="0.6" />
<text x="106.60" y="282.80" font-size="5.8" text-anchor="middle">80%</text>
<text x="23.00" y="282.80" font-size="5.8">LRD</text>
<line x1="45.00" y1="285.80" x2="67.00" y2="285.80" stroke="#444" stroke-width="0.5" />
<text x="56.00" y="292.40" font-size="5.6" text-anchor="middle">LFD</text>
<line x1="84.50" y1="285.80" x2="108.00" y2="285.80" stroke="#444" stroke-width="0.5" />
<text x="95.00" y="292.40" font-size="5.6" text-anchor="middle">HFD</text>
<path d="M47.60 210.50V206.30H87.40V228.50" fill="none" stroke="#555" stroke-width="0.5" />
<text x="55.50" y="204.00" font-size="5.95"><tspan font-style="italic">P</tspan>=0.0035</text>
<path d="M88.20 228.50V211.30H107.00V214.50" fill="none" stroke="#555" stroke-width="0.5" />
<text x="89.50" y="209.00" font-size="5.95"><tspan font-style="italic">P</tspan>=0.0076</text>
<rect x="149.30" y="215.00" width="150.30" height="17.50" fill="#c4c4c4" />
<g clip-path="url(#clip_d1)" filter="url(#blur_d1)">
<rect x="157.00" y="222.82" width="13.60" height="4.76" rx="2.20" fill="#000" fill-opacity="1"/>
<rect x="173.80" y="222.91" width="13.60" height="4.59" rx="2.20" fill="#000" fill-opacity="1"/>
<rect x="190.80" y="223.67" width="13.60" height="3.06" rx="1.53" fill="#000" fill-opacity="1"/>
<rect x="207.80" y="223.75" width="13.60" height="2.89" rx="1.44" fill="#000" fill-opacity="1"/>
<rect x="225.20" y="223.75" width="13.60" height="2.89" rx="1.44" fill="#000" fill-opacity="1"/>
<rect x="242.50" y="224.09" width="13.60" height="2.21" rx="1.10" fill="#000" fill-opacity="0.4"/>
<rect x="260.00" y="223.33" width="13.60" height="3.74" rx="1.87" fill="#000" fill-opacity="1"/>
<rect x="277.40" y="223.41" width="13.60" height="3.57" rx="1.78" fill="#000" fill-opacity="1"/>
<rect x="156.80" y="227.70" width="14.00" height="3.00" rx="1.50" fill="#000" fill-opacity="0.18"/>
<rect x="173.60" y="227.70" width="14.00" height="3.00" rx="1.50" fill="#000" fill-opacity="0.18"/>
<rect x="190.60" y="227.70" width="14.00" height="3.00" rx="1.50" fill="#000" fill-opacity="0.18"/>
<rect x="207.60" y="227.70" width="14.00" height="3.00" rx="1.50" fill="#000" fill-opacity="0.18"/>
<rect x="225.00" y="227.70" width="14.00" height="3.00" rx="1.50" fill="#000" fill-opacity="0.18"/>
<rect x="242.30" y="227.70" width="14.00" height="3.00" rx="1.50" fill="#000" fill-opacity="0.18"/>
<rect x="259.80" y="227.70" width="14.00" height="3.00" rx="1.50" fill="#000" fill-opacity="0.18"/>
<rect x="277.20" y="227.70" width="14.00" height="3.00" rx="1.50" fill="#000" fill-opacity="0.18"/>
</g>
<rect x="149.30" y="215.00" width="150.30" height="17.50" fill="none" stroke="#333" stroke-width="0.7" />
<rect x="149.30" y="234.50" width="150.30" height="17.30" fill="#c9c9c9" />
<g clip-path="url(#clip_d2)" filter="url(#blur_d2)">
<rect x="156.70" y="241.30" width="14.20" height="3.60" rx="1.80" fill="#000" fill-opacity="1"/>
<rect x="173.50" y="241.30" width="14.20" height="3.60" rx="1.80" fill="#000" fill-opacity="1"/>
<rect x="190.50" y="241.30" width="14.20" height="3.60" rx="1.80" fill="#000" fill-opacity="1"/>
<rect x="207.50" y="241.30" width="14.20" height="3.60" rx="1.80" fill="#000" fill-opacity="1"/>
<rect x="224.90" y="241.30" width="14.20" height="3.60" rx="1.80" fill="#000" fill-opacity="1"/>
<rect x="242.20" y="241.30" width="14.20" height="3.60" rx="1.80" fill="#000" fill-opacity="1"/>
<rect x="259.70" y="241.30" width="14.20" height="3.60" rx="1.80" fill="#000" fill-opacity="1"/>
<rect x="277.10" y="241.30" width="14.20" height="3.60" rx="1.80" fill="#000" fill-opacity="1"/>
</g>
<rect x="149.30" y="234.50" width="150.30" height="17.30" fill="none" stroke="#333" stroke-width="0.7" />
<text x="148.20" y="226.60" font-size="5.6" text-anchor="end">59kDa</text>
<text x="148.20" y="246.20" font-size="5.6" text-anchor="end">43kDa</text>
<text x="301.60" y="227.20" font-size="5.8">Occludin</text>
<text x="301.60" y="245.20" font-size="5.8">β-Actin</text>
<text x="174.50" y="207.80" font-size="5.8" text-anchor="middle">LFD</text>
<line x1="158.30" y1="211.30" x2="188.80" y2="211.30" stroke="#444" stroke-width="0.65" />
<text x="207.00" y="207.80" font-size="5.8" text-anchor="middle">LFD+LRD80%</text>
<line x1="192.00" y1="211.30" x2="222.00" y2="211.30" stroke="#444" stroke-width="0.65" />
<text x="242.50" y="207.80" font-size="5.8" text-anchor="middle">HFD</text>
<line x1="225.50" y1="211.30" x2="256.30" y2="211.30" stroke="#444" stroke-width="0.65" />
<text x="278.80" y="207.80" font-size="5.8" text-anchor="middle">HFD+LRD80%</text>
<line x1="262.00" y1="211.30" x2="292.00" y2="211.30" stroke="#444" stroke-width="0.65" />
<text x="343.60" y="171.90" font-size="7.4" font-weight="bold" fill="#000">e</text>
<rect x="338.80" y="189.30" width="13.20" height="79.50" fill="#e2e2e2" />
<text x="347.70" y="229.20" font-size="6.6" text-anchor="middle" fill="#333" transform="rotate(-90 347.70 229.20)" textLength="73.5" lengthAdjust="spacingAndGlyphs" style="white-space:pre">4-week-old C57BL/6J male  mice</text>
<rect x="357.00" y="193.30" width="50.50" height="11.00" fill="#0000ff" />
<text x="380.60" y="201.30" font-size="7.0" text-anchor="middle" fill="#fff">HFD</text>
<rect x="408.00" y="193.30" width="26.60" height="11.00" fill="#0000ff" rx="5.5" />
<text x="421.30" y="201.30" font-size="7.0" text-anchor="middle" fill="#fff">NS</text>
<rect x="435.70" y="193.30" width="27.30" height="11.00" fill="#0000ff" rx="5.5" />
<text x="449.30" y="201.30" font-size="7.0" text-anchor="middle" fill="#fff">PBS</text>
<rect x="357.00" y="212.00" width="50.50" height="11.00" fill="#f0991f" />
<text x="382.30" y="220.00" font-size="7.0" text-anchor="middle" fill="#fff">HFD+LRD80%</text>
<rect x="408.00" y="212.00" width="26.60" height="11.00" fill="#f0991f" rx="5.5" />
<text x="421.30" y="220.00" font-size="7.0" text-anchor="middle" fill="#fff">NS</text>
<rect x="435.70" y="212.00" width="27.30" height="11.00" fill="#f0991f" rx="5.5" />
<text x="449.30" y="220.00" font-size="7.0" text-anchor="middle" fill="#fff">PBS</text>
<rect x="357.00" y="230.50" width="50.50" height="11.00" fill="#0000ff" />
<text x="380.60" y="238.50" font-size="7.0" text-anchor="middle" fill="#fff">HFD</text>
<rect x="408.00" y="230.50" width="26.60" height="11.00" fill="#f0991f" rx="5.5" />
<text x="421.30" y="238.50" font-size="7.0" text-anchor="middle" fill="#fff">ABX</text>
<rect x="435.70" y="230.50" width="27.30" height="11.00" fill="#f0991f" rx="5.5" />
<text x="449.30" y="239.10" font-size="7.0" text-anchor="middle" fill="#111">FMT</text>
<path d="M357 256V250.8H463V256M406.6 250.8V256M435.6 250.8V256" fill="none" stroke="#444" stroke-width="0.7" />
<text x="357.00" y="265.80" font-size="6.0" text-anchor="middle">0</text>
<text x="405.80" y="265.80" font-size="6.0" text-anchor="middle">8</text>
<text x="435.50" y="265.80" font-size="6.0" text-anchor="middle">10</text>
<text x="462.60" y="265.80" font-size="6.0" text-anchor="middle">12</text>
<text x="414.00" y="276.60" font-size="6.8" text-anchor="middle">Week</text>
<rect x="466.40" y="189.00" width="34.80" height="77.00" fill="none" stroke="#5555b5" stroke-width="0.7" rx="17.4" />
<text x="483.80" y="201.70" font-size="6.0" text-anchor="middle">HFD+LRD</text>
<g transform="translate(479.4 212.6) scale(0.9)"><path d="M2 7.6C8 8.6 12 6.4 15.6 8.2C17 9 17.4 10.4 17.2 11.2" fill="none" stroke="#b98585" stroke-width="0.8" stroke-linecap="round"/><path d="M-6.8 1.5C-7.6 -3 -4.5 -8.2 0.5 -8.2C5.6 -8.2 8 -3.5 7.6 1.5C7.3 5.6 5.4 8.2 2.5 8.2L-3.5 8.2C-5.6 7.5 -6.4 4.8 -6.8 1.5Z" fill="#47444a"/><path d="M-3.5 -6.5C-6.5 -6.5 -8.6 -3.2 -9.2 -0.6C-9.4 0.6 -8.4 1.4 -7.2 1.2L-3.5 0.6Z" fill="#47444a"/><ellipse cx="-3.6" cy="-7.8" rx="1.5" ry="2.1" fill="#47444a" transform="rotate(18 -3.6 -7.8)"/><ellipse cx="-3.5" cy="-7.6" rx="0.8" ry="1.4" fill="#b98585" transform="rotate(18 -3.5 -7.6)"/><ellipse cx="-6.2" cy="-7.2" rx="1.0" ry="1.6" fill="#47444a" transform="rotate(-10 -6.2 -7.2)"/><circle cx="-9.0" cy="0.2" r="0.55" fill="#d49a9a"/><ellipse cx="-4.2" cy="8.3" rx="1.9" ry="0.7" fill="#c99090"/><ellipse cx="2.8" cy="8.5" rx="2.2" ry="0.7" fill="#c99090"/></g>
<path d="M486.20 224.10C487.20 222.20 488.20 223.90 489.50 221.90" fill="none" stroke="#a86a12" stroke-width="1.15" stroke-linecap="round"/>
<path d="M488.50 226.00C489.50 224.10 490.50 225.80 491.80 223.80" fill="none" stroke="#a86a12" stroke-width="1.15" stroke-linecap="round"/>
<path d="M490.50 228.10C491.50 226.20 492.50 227.90 493.80 225.90" fill="none" stroke="#a86a12" stroke-width="1.15" stroke-linecap="round"/>
<line x1="482.00" y1="222.40" x2="482.00" y2="235.00" stroke="#111" stroke-width="0.7" />
<path d="M479.9 234.2L484.1 234.2L482 238.2Z" fill="#111" />
<g transform="translate(479.8 248.6) scale(0.9)"><path d="M5 4.5C8.5 2.5 11.5 -1.5 14 0.5C15.6 2 13 4.6 11 4.0" fill="none" stroke="#b98585" stroke-width="0.9" stroke-linecap="round"/><path d="M-6.8 1.5C-7.6 -3 -4.5 -8.2 0.5 -8.2C5.6 -8.2 8 -3.5 7.6 1.5C7.3 5.6 5.4 8.2 2.5 8.2L-3.5 8.2C-5.6 7.5 -6.4 4.8 -6.8 1.5Z" fill="#47444a"/><path d="M-3.5 -6.5C-6.5 -6.5 -8.6 -3.2 -9.2 -0.6C-9.4 0.6 -8.4 1.4 -7.2 1.2L-3.5 0.6Z" fill="#47444a"/><ellipse cx="-3.6" cy="-7.8" rx="1.5" ry="2.1" fill="#47444a" transform="rotate(18 -3.6 -7.8)"/><ellipse cx="-3.5" cy="-7.6" rx="0.8" ry="1.4" fill="#b98585" transform="rotate(18 -3.5 -7.6)"/><ellipse cx="-6.2" cy="-7.2" rx="1.0" ry="1.6" fill="#47444a" transform="rotate(-10 -6.2 -7.2)"/><circle cx="-9.0" cy="0.2" r="0.55" fill="#d49a9a"/><ellipse cx="-4.2" cy="8.3" rx="1.9" ry="0.7" fill="#c99090"/><ellipse cx="2.8" cy="8.5" rx="2.2" ry="0.7" fill="#c99090"/></g>
<text x="483.80" y="263.00" font-size="6.0" text-anchor="middle">HFD</text>
<text x="522.60" y="171.90" font-size="7.4" font-weight="bold" fill="#000">f</text>
<rect x="539.80" y="185.00" width="130.50" height="87.50" fill="none" stroke="#2a2a2a" stroke-width="0.6" />
<line x1="537.60" y1="272.50" x2="539.80" y2="272.50" stroke="#2a2a2a" stroke-width="0.6" />
<text x="536.40" y="274.60" font-size="6" text-anchor="end">15</text>
<line x1="537.60" y1="250.62" x2="539.80" y2="250.62" stroke="#2a2a2a" stroke-width="0.6" />
<text x="536.40" y="252.72" font-size="6" text-anchor="end">20</text>
<line x1="537.60" y1="228.75" x2="539.80" y2="228.75" stroke="#2a2a2a" stroke-width="0.6" />
<text x="536.40" y="230.85" font-size="6" text-anchor="end">25</text>
<line x1="537.60" y1="206.88" x2="539.80" y2="206.88" stroke="#2a2a2a" stroke-width="0.6" />
<text x="536.40" y="208.97" font-size="6" text-anchor="end">30</text>
<line x1="537.60" y1="185.00" x2="539.80" y2="185.00" stroke="#2a2a2a" stroke-width="0.6" />
<text x="536.40" y="187.10" font-size="6" text-anchor="end">35</text>
<line x1="544.50" y1="272.50" x2="544.50" y2="274.70" stroke="#2a2a2a" stroke-width="0.6" />
<text x="544.50" y="282.70" font-size="6" text-anchor="middle">0</text>
<line x1="554.54" y1="272.50" x2="554.54" y2="274.70" stroke="#2a2a2a" stroke-width="0.6" />
<text x="554.54" y="282.70" font-size="6" text-anchor="middle">1</text>
<line x1="564.58" y1="272.50" x2="564.58" y2="274.70" stroke="#2a2a2a" stroke-width="0.6" />
<text x="564.58" y="282.70" font-size="6" text-anchor="middle">2</text>
<line x1="574.62" y1="272.50" x2="574.62" y2="274.70" stroke="#2a2a2a" stroke-width="0.6" />
<text x="574.62" y="282.70" font-size="6" text-anchor="middle">3</text>
<line x1="584.66" y1="272.50" x2="584.66" y2="274.70" stroke="#2a2a2a" stroke-width="0.6" />
<text x="584.66" y="282.70" font-size="6" text-anchor="middle">4</text>
<line x1="594.70" y1="272.50" x2="594.70" y2="274.70" stroke="#2a2a2a" stroke-width="0.6" />
<text x="594.70" y="282.70" font-size="6" text-anchor="middle">5</text>
<line x1="604.74" y1="272.50" x2="604.74" y2="274.70" stroke="#2a2a2a" stroke-width="0.6" />
<text x="604.74" y="282.70" font-size="6" text-anchor="middle">6</text>
<line x1="614.78" y1="272.50" x2="614.78" y2="274.70" stroke="#2a2a2a" stroke-width="0.6" />
<text x="614.78" y="282.70" font-size="6" text-anchor="middle">7</text>
<line x1="624.82" y1="272.50" x2="624.82" y2="274.70" stroke="#2a2a2a" stroke-width="0.6" />
<text x="624.82" y="282.70" font-size="6" text-anchor="middle">8</text>
<line x1="634.86" y1="272.50" x2="634.86" y2="274.70" stroke="#2a2a2a" stroke-width="0.6" />
<text x="634.86" y="282.70" font-size="6" text-anchor="middle">9</text>
<line x1="644.90" y1="272.50" x2="644.90" y2="274.70" stroke="#2a2a2a" stroke-width="0.6" />
<text x="644.90" y="282.70" font-size="6" text-anchor="middle">10</text>
<line x1="654.94" y1="272.50" x2="654.94" y2="274.70" stroke="#2a2a2a" stroke-width="0.6" />
<text x="654.94" y="282.70" font-size="6" text-anchor="middle">11</text>
<line x1="664.98" y1="272.50" x2="664.98" y2="274.70" stroke="#2a2a2a" stroke-width="0.6" />
<text x="664.98" y="282.70" font-size="6" text-anchor="middle">12</text>
<text x="604.50" y="293.20" font-size="6.8" text-anchor="middle">Week</text>
<text x="523.40" y="229.50" font-size="6.6" text-anchor="middle" transform="rotate(-90 523.40 229.50)">Body weight (g)</text>
<path d="M544.50 263.75V268.75M543.20 263.75H545.80M543.20 268.75H545.80" stroke="#5a5aff" stroke-width="0.45" stroke-opacity="0.75" fill="none"/>
<path d="M554.54 251.00V259.00M553.24 251.00H555.84M553.24 259.00H555.84" stroke="#5a5aff" stroke-width="0.45" stroke-opacity="0.75" fill="none"/>
<path d="M564.58 241.50V248.50M563.28 241.50H565.88M563.28 248.50H565.88" stroke="#5a5aff" stroke-width="0.45" stroke-opacity="0.75" fill="none"/>
<path d="M574.62 235.25V242.25M573.32 235.25H575.92M573.32 242.25H575.92" stroke="#5a5aff" stroke-width="0.45" stroke-opacity="0.75" fill="none"/>
<path d="M584.66 229.00V237.00M583.36 229.00H585.96M583.36 237.00H585.96" stroke="#5a5aff" stroke-width="0.45" stroke-opacity="0.75" fill="none"/>
<path d="M594.70 224.50V234.50M593.40 224.50H596.00M593.40 234.50H596.00" stroke="#5a5aff" stroke-width="0.45" stroke-opacity="0.75" fill="none"/>
<path d="M604.74 221.25V231.25M603.44 221.25H606.04M603.44 231.25H606.04" stroke="#5a5aff" stroke-width="0.45" stroke-opacity="0.75" fill="none"/>
<path d="M614.78 216.50V228.50M613.48 216.50H616.08M613.48 228.50H616.08" stroke="#5a5aff" stroke-width="0.45" stroke-opacity="0.75" fill="none"/>
<path d="M624.82 210.25V222.25M623.52 210.25H626.12M623.52 222.25H626.12" stroke="#5a5aff" stroke-width="0.45" stroke-opacity="0.75" fill="none"/>
<path d="M634.86 210.25V222.25M633.56 210.25H636.16M633.56 222.25H636.16" stroke="#5a5aff" stroke-width="0.45" stroke-opacity="0.75" fill="none"/>
<path d="M644.90 209.50V220.50M643.60 209.50H646.20M643.60 220.50H646.20" stroke="#5a5aff" stroke-width="0.45" stroke-opacity="0.75" fill="none"/>
<path d="M654.94 212.25V220.25M653.64 212.25H656.24M653.64 220.25H656.24" stroke="#5a5aff" stroke-width="0.45" stroke-opacity="0.75" fill="none"/>
<path d="M664.98 211.50V218.50M663.68 211.50H666.28M663.68 218.50H666.28" stroke="#5a5aff" stroke-width="0.45" stroke-opacity="0.75" fill="none"/>
<polyline points="544.50,266.25 554.54,255.00 564.58,245.00 574.62,238.75 584.66,233.00 594.70,229.50 604.74,226.25 614.78,222.50 624.82,216.25 634.86,216.25 644.90,215.00 654.94,216.25 664.98,215.00" fill="none" stroke="#5a5aff" stroke-width="0.6"/>
<path d="M544.50 264.36L546.30 267.69L542.70 267.69Z" fill="#5a5aff" />
<path d="M554.54 253.11L556.34 256.44L552.74 256.44Z" fill="#5a5aff" />
<path d="M564.58 243.11L566.38 246.44L562.78 246.44Z" fill="#5a5aff" />
<path d="M574.62 236.86L576.42 240.19L572.82 240.19Z" fill="#5a5aff" />
<path d="M584.66 231.11L586.46 234.44L582.86 234.44Z" fill="#5a5aff" />
<path d="M594.70 227.61L596.50 230.94L592.90 230.94Z" fill="#5a5aff" />
<path d="M604.74 224.36L606.54 227.69L602.94 227.69Z" fill="#5a5aff" />
<path d="M614.78 220.61L616.58 223.94L612.98 223.94Z" fill="#5a5aff" />
<path d="M624.82 214.36L626.62 217.69L623.02 217.69Z" fill="#5a5aff" />
<path d="M634.86 214.36L636.66 217.69L633.06 217.69Z" fill="#5a5aff" />
<path d="M644.90 213.11L646.70 216.44L643.10 216.44Z" fill="#5a5aff" />
<path d="M654.94 214.36L656.74 217.69L653.14 217.69Z" fill="#5a5aff" />
<path d="M664.98 213.11L666.78 216.44L663.18 216.44Z" fill="#5a5aff" />
<path d="M544.50 261.75V265.75M543.20 261.75H545.80M543.20 265.75H545.80" stroke="#ff8000" stroke-width="0.45" stroke-opacity="0.75" fill="none"/>
<path d="M554.54 259.25V263.25M553.24 259.25H555.84M553.24 263.25H555.84" stroke="#ff8000" stroke-width="0.45" stroke-opacity="0.75" fill="none"/>
<path d="M564.58 252.50V256.50M563.28 252.50H565.88M563.28 256.50H565.88" stroke="#ff8000" stroke-width="0.45" stroke-opacity="0.75" fill="none"/>
<path d="M574.62 244.55V248.95M573.32 244.55H575.92M573.32 248.95H575.92" stroke="#ff8000" stroke-width="0.45" stroke-opacity="0.75" fill="none"/>
<path d="M584.66 237.10V241.90M583.36 237.10H585.96M583.36 241.90H585.96" stroke="#ff8000" stroke-width="0.45" stroke-opacity="0.75" fill="none"/>
<path d="M594.70 233.35V238.15M593.40 233.35H596.00M593.40 238.15H596.00" stroke="#ff8000" stroke-width="0.45" stroke-opacity="0.75" fill="none"/>
<path d="M604.74 228.85V233.65M603.44 228.85H606.04M603.44 233.65H606.04" stroke="#ff8000" stroke-width="0.45" stroke-opacity="0.75" fill="none"/>
<path d="M614.78 228.65V233.85M613.48 228.65H616.08M613.48 233.85H616.08" stroke="#ff8000" stroke-width="0.45" stroke-opacity="0.75" fill="none"/>
<path d="M624.82 223.50V229.50M623.52 223.50H626.12M623.52 229.50H626.12" stroke="#ff8000" stroke-width="0.45" stroke-opacity="0.75" fill="none"/>
<path d="M634.86 220.25V227.25M633.56 220.25H636.16M633.56 227.25H636.16" stroke="#ff8000" stroke-width="0.45" stroke-opacity="0.75" fill="none"/>
<path d="M644.90 213.50V222.50M643.60 213.50H646.20M643.60 222.50H646.20" stroke="#ff8000" stroke-width="0.45" stroke-opacity="0.75" fill="none"/>
<path d="M654.94 215.25V226.25M653.64 215.25H656.24M653.64 226.25H656.24" stroke="#ff8000" stroke-width="0.45" stroke-opacity="0.75" fill="none"/>
<path d="M664.98 210.15V217.35M663.68 210.15H666.28M663.68 217.35H666.28" stroke="#ff8000" stroke-width="0.45" stroke-opacity="0.75" fill="none"/>
<polyline points="544.50,263.75 554.54,261.25 564.58,254.50 574.62,246.75 584.66,239.50 594.70,235.75 604.74,231.25 614.78,231.25 624.82,226.50 634.86,223.75 644.90,218.00 654.94,220.75 664.98,213.75" fill="none" stroke="#ff8000" stroke-width="0.6"/>
<rect x="542.74" y="261.99" width="3.52" height="3.52" fill="#ff8000" />
<rect x="552.78" y="259.49" width="3.52" height="3.52" fill="#ff8000" />
<rect x="562.82" y="252.74" width="3.52" height="3.52" fill="#ff8000" />
<rect x="572.86" y="244.99" width="3.52" height="3.52" fill="#ff8000" />
<rect x="582.90" y="237.74" width="3.52" height="3.52" fill="#ff8000" />
<rect x="592.94" y="233.99" width="3.52" height="3.52" fill="#ff8000" />
<rect x="602.98" y="229.49" width="3.52" height="3.52" fill="#ff8000" />
<rect x="613.02" y="229.49" width="3.52" height="3.52" fill="#ff8000" />
<rect x="623.06" y="224.74" width="3.52" height="3.52" fill="#ff8000" />
<rect x="633.10" y="221.99" width="3.52" height="3.52" fill="#ff8000" />
<rect x="643.14" y="216.24" width="3.52" height="3.52" fill="#ff8000" />
<rect x="653.18" y="218.99" width="3.52" height="3.52" fill="#ff8000" />
<rect x="663.22" y="211.99" width="3.52" height="3.52" fill="#ff8000" />
<path d="M544.50 262.50V267.50M543.20 262.50H545.80M543.20 267.50H545.80" stroke="#0000ff" stroke-width="0.45" stroke-opacity="0.75" fill="none"/>
<path d="M554.54 249.50V259.50M553.24 249.50H555.84M553.24 259.50H555.84" stroke="#0000ff" stroke-width="0.45" stroke-opacity="0.75" fill="none"/>
<path d="M564.58 241.20V249.80M563.28 241.20H565.88M563.28 249.80H565.88" stroke="#0000ff" stroke-width="0.45" stroke-opacity="0.75" fill="none"/>
<path d="M574.62 233.70V241.30M573.32 233.70H575.92M573.32 241.30H575.92" stroke="#0000ff" stroke-width="0.45" stroke-opacity="0.75" fill="none"/>
<path d="M584.66 227.50V237.50M583.36 227.50H585.96M583.36 237.50H585.96" stroke="#0000ff" stroke-width="0.45" stroke-opacity="0.75" fill="none"/>
<path d="M594.70 223.00V235.00M593.40 223.00H596.00M593.40 235.00H596.00" stroke="#0000ff" stroke-width="0.45" stroke-opacity="0.75" fill="none"/>
<path d="M604.74 219.50V230.50M603.44 219.50H606.04M603.44 230.50H606.04" stroke="#0000ff" stroke-width="0.45" stroke-opacity="0.75" fill="none"/>
<path d="M614.78 215.00V229.00M613.48 215.00H616.08M613.48 229.00H616.08" stroke="#0000ff" stroke-width="0.45" stroke-opacity="0.75" fill="none"/>
<path d="M624.82 211.50V222.50M623.52 211.50H626.12M623.52 222.50H626.12" stroke="#0000ff" stroke-width="0.45" stroke-opacity="0.75" fill="none"/>
<path d="M634.86 209.00V225.00M633.56 209.00H636.16M633.56 225.00H636.16" stroke="#0000ff" stroke-width="0.45" stroke-opacity="0.75" fill="none"/>
<path d="M644.90 207.50V222.50M643.60 207.50H646.20M643.60 222.50H646.20" stroke="#0000ff" stroke-width="0.45" stroke-opacity="0.75" fill="none"/>
<path d="M654.94 203.25V219.25M653.64 203.25H656.24M653.64 219.25H656.24" stroke="#0000ff" stroke-width="0.45" stroke-opacity="0.75" fill="none"/>
<path d="M664.98 201.55V210.95M663.68 201.55H666.28M663.68 210.95H666.28" stroke="#0000ff" stroke-width="0.45" stroke-opacity="0.75" fill="none"/>
<polyline points="544.50,265.00 554.54,254.50 564.58,245.50 574.62,237.50 584.66,232.50 594.70,229.00 604.74,225.00 614.78,222.00 624.82,217.00 634.86,217.00 644.90,215.00 654.94,211.25 664.98,206.25" fill="none" stroke="#0000ff" stroke-width="0.6"/>
<circle cx="544.50" cy="265.00" r="1.9" fill="#0000ff" />
<circle cx="554.54" cy="254.50" r="1.9" fill="#0000ff" />
<circle cx="564.58" cy="245.50" r="1.9" fill="#0000ff" />
<circle cx="574.62" cy="237.50" r="1.9" fill="#0000ff" />
<circle cx="584.66" cy="232.50" r="1.9" fill="#0000ff" />
<circle cx="594.70" cy="229.00" r="1.9" fill="#0000ff" />
<circle cx="604.74" cy="225.00" r="1.9" fill="#0000ff" />
<circle cx="614.78" cy="222.00" r="1.9" fill="#0000ff" />
<circle cx="624.82" cy="217.00" r="1.9" fill="#0000ff" />
<circle cx="634.86" cy="217.00" r="1.9" fill="#0000ff" />
<circle cx="644.90" cy="215.00" r="1.9" fill="#0000ff" />
<circle cx="654.94" cy="211.25" r="1.9" fill="#0000ff" />
<circle cx="664.98" cy="206.25" r="1.9" fill="#0000ff" />
<line x1="545.70" y1="189.30" x2="554.90" y2="189.30" stroke="#0000ff" stroke-width="0.5" />
<circle cx="550.30" cy="189.30" r="1.75" fill="#0000ff" />
<text x="559.80" y="191.30" font-size="5.8">HFD</text>
<line x1="545.70" y1="196.80" x2="554.90" y2="196.80" stroke="#ff8000" stroke-width="0.5" stroke-opacity="0.7"/>
<rect x="548.64" y="195.14" width="3.32" height="3.32" fill="#ff8000" />
<text x="559.80" y="198.80" font-size="5.8">HFD LRD80%</text>
<line x1="545.70" y1="204.30" x2="554.90" y2="204.30" stroke="#5a5aff" stroke-width="0.5" stroke-opacity="0.7"/>
<path d="M550.30 202.62L551.90 205.58L548.70 205.58Z" fill="#5a5aff" />
<text x="559.80" y="206.30" font-size="5.8">HFD FMT<tspan font-size="3.19" dy="1.1">LRD</tspan></text>
<text x="670.00" y="197.80" font-size="5.7" text-anchor="end"><tspan font-style="italic">P</tspan>=0.0001</text>
<text x="604.00" y="259.50" font-size="5.6">Group:<tspan font-style="italic">P</tspan>=0.0008 (<tspan font-style="italic">n</tspan>=8)</text>
<text x="604.00" y="267.60" font-size="5.6">Group:Week:<tspan font-style="italic">P</tspan>&lt;0.0001</text>
<text x="12.40" y="307.90" font-size="7.4" font-weight="bold" fill="#000">g</text>
<line x1="28.30" y1="321.80" x2="28.30" y2="412.50" stroke="#2a2a2a" stroke-width="0.6" />
<line x1="26.10" y1="412.50" x2="28.30" y2="412.50" stroke="#2a2a2a" stroke-width="0.6" />
<text x="25.10" y="414.66" font-size="6" text-anchor="end">8</text>
<line x1="26.10" y1="394.35" x2="28.30" y2="394.35" stroke="#2a2a2a" stroke-width="0.6" />
<text x="25.10" y="396.51" font-size="6" text-anchor="end">10</text>
<line x1="26.10" y1="376.20" x2="28.30" y2="376.20" stroke="#2a2a2a" stroke-width="0.6" />
<text x="25.10" y="378.36" font-size="6" text-anchor="end">12</text>
<line x1="26.10" y1="358.05" x2="28.30" y2="358.05" stroke="#2a2a2a" stroke-width="0.6" />
<text x="25.10" y="360.21" font-size="6" text-anchor="end">14</text>
<line x1="26.10" y1="339.90" x2="28.30" y2="339.90" stroke="#2a2a2a" stroke-width="0.6" />
<text x="25.10" y="342.06" font-size="6" text-anchor="end">16</text>
<line x1="26.10" y1="321.75" x2="28.30" y2="321.75" stroke="#2a2a2a" stroke-width="0.6" />
<text x="25.10" y="323.91" font-size="6" text-anchor="end">18</text>
<line x1="28.00" y1="412.50" x2="90.00" y2="412.50" stroke="#2a2a2a" stroke-width="0.6" />
<text x="12.00" y="370.00" font-size="6.6" text-anchor="middle" transform="rotate(-90 12.00 370.00)">Body weight gain (g)</text>
<rect x="35.00" y="363.00" width="12.00" height="49.50" fill="#0000ff" />
<line x1="41.00" y1="352.30" x2="41.00" y2="363.20" stroke="#333" stroke-width="0.5" />
<line x1="39.00" y1="352.30" x2="43.00" y2="352.30" stroke="#333" stroke-width="0.5" />
<circle cx="41.00" cy="343.50" r="1.2" fill="#fff" stroke="#222" stroke-width="0.5" />
<circle cx="41.00" cy="358.20" r="1.2" fill="#fff" stroke="#222" stroke-width="0.5" />
<circle cx="41.00" cy="365.50" r="1.2" fill="#fff" stroke="#222" stroke-width="0.5" />
<circle cx="37.00" cy="369.20" r="1.2" fill="#fff" stroke="#222" stroke-width="0.5" />
<circle cx="41.00" cy="369.20" r="1.2" fill="#fff" stroke="#222" stroke-width="0.5" />
<circle cx="45.00" cy="371.00" r="1.2" fill="#fff" stroke="#222" stroke-width="0.5" />
<circle cx="41.00" cy="375.60" r="1.2" fill="#fff" stroke="#222" stroke-width="0.5" />
<line x1="41.00" y1="412.50" x2="41.00" y2="414.50" stroke="#2a2a2a" stroke-width="0.6" />
<rect x="53.30" y="381.30" width="12.00" height="31.20" fill="#ff8000" />
<line x1="59.30" y1="371.80" x2="59.30" y2="381.50" stroke="#333" stroke-width="0.5" />
<line x1="57.30" y1="371.80" x2="61.30" y2="371.80" stroke="#333" stroke-width="0.5" />
<circle cx="59.30" cy="362.70" r="1.2" fill="#fff" stroke="#222" stroke-width="0.5" />
<circle cx="59.30" cy="376.30" r="1.2" fill="#fff" stroke="#222" stroke-width="0.5" />
<circle cx="63.30" cy="379.00" r="1.2" fill="#fff" stroke="#222" stroke-width="0.5" />
<circle cx="55.30" cy="382.00" r="1.2" fill="#fff" stroke="#222" stroke-width="0.5" />
<circle cx="59.30" cy="382.00" r="1.2" fill="#fff" stroke="#222" stroke-width="0.5" />
<circle cx="57.10" cy="385.70" r="1.2" fill="#fff" stroke="#222" stroke-width="0.5" />
<circle cx="61.40" cy="386.30" r="1.2" fill="#fff" stroke="#222" stroke-width="0.5" />
<circle cx="59.30" cy="396.50" r="1.2" fill="#fff" stroke="#222" stroke-width="0.5" />
<line x1="59.30" y1="412.50" x2="59.30" y2="414.50" stroke="#2a2a2a" stroke-width="0.6" />
<rect x="71.50" y="380.80" width="12.00" height="31.70" fill="#5a5aff" />
<line x1="77.50" y1="371.50" x2="77.50" y2="381.00" stroke="#333" stroke-width="0.5" />
<line x1="75.50" y1="371.50" x2="79.50" y2="371.50" stroke="#333" stroke-width="0.5" />
<circle cx="77.50" cy="362.70" r="1.2" fill="#fff" stroke="#222" stroke-width="0.5" />
<circle cx="79.70" cy="380.00" r="1.2" fill="#fff" stroke="#222" stroke-width="0.5" />
<circle cx="75.40" cy="381.40" r="1.2" fill="#fff" stroke="#222" stroke-width="0.5" />
<circle cx="73.30" cy="383.60" r="1.2" fill="#fff" stroke="#222" stroke-width="0.5" />
<circle cx="77.50" cy="384.70" r="1.2" fill="#fff" stroke="#222" stroke-width="0.5" />
<circle cx="81.50" cy="387.20" r="1.2" fill="#fff" stroke="#222" stroke-width="0.5" />
<circle cx="77.50" cy="391.80" r="1.2" fill="#fff" stroke="#222" stroke-width="0.5" />
<line x1="77.50" y1="412.50" x2="77.50" y2="414.50" stroke="#2a2a2a" stroke-width="0.6" />
<text x="41.00" y="422.70" font-size="5.6" text-anchor="middle">HFD</text>
<text x="58.00" y="422.70" font-size="5.6" text-anchor="middle">HFD</text>
<text x="79.50" y="422.70" font-size="5.6" text-anchor="middle">HFD</text>
<text x="57.00" y="429.50" font-size="5.6" text-anchor="middle">LRD80%</text>
<text x="80.50" y="429.50" font-size="5.6" text-anchor="middle">FMT<tspan font-size="3.08" dy="1.2">LRD</tspan></text>
<path d="M40.80 332.50V329.50H77.00V356.50" fill="none" stroke="#555" stroke-width="0.5" />
<text x="47.00" y="327.30" font-size="5.95"><tspan font-style="italic">P</tspan>=0.0050</text>
<path d="M40.80 340.80V338.30H59.30V356.50" fill="none" stroke="#555" stroke-width="0.5" />
<text x="43.00" y="336.30" font-size="5.95"><tspan font-style="italic">P</tspan>=0.0036</text>
<text x="113.20" y="307.90" font-size="7.4" font-weight="bold" fill="#000">h</text>
<g clip-path="url(#clip_h)">
<rect x="111.20" y="342.80" width="132.60" height="59.80" fill="url(#bg_h)" />
<rect x="111.20" y="342.80" width="11.60" height="59.80" fill="#b0b0b0" />
<rect x="119.70" y="342.80" width="3.10" height="59.80" fill="#989898" />
<line x1="118.20" y1="344.00" x2="122.80" y2="344.00" stroke="#444" stroke-width="0.35" />
<line x1="120.20" y1="345.93" x2="122.80" y2="345.93" stroke="#444" stroke-width="0.35" />
<line x1="120.20" y1="347.86" x2="122.80" y2="347.86" stroke="#444" stroke-width="0.35" />
<line x1="120.20" y1="349.79" x2="122.80" y2="349.79" stroke="#444" stroke-width="0.35" />
<line x1="120.20" y1="351.72" x2="122.80" y2="351.72" stroke="#444" stroke-width="0.35" />
<line x1="118.20" y1="353.65" x2="122.80" y2="353.65" stroke="#444" stroke-width="0.35" />
<line x1="120.20" y1="355.58" x2="122.80" y2="355.58" stroke="#444" stroke-width="0.35" />
<line x1="120.20" y1="357.51" x2="122.80" y2="357.51" stroke="#444" stroke-width="0.35" />
<line x1="120.20" y1="359.44" x2="122.80" y2="359.44" stroke="#444" stroke-width="0.35" />
<line x1="120.20" y1="361.37" x2="122.80" y2="361.37" stroke="#444" stroke-width="0.35" />
<line x1="118.20" y1="363.30" x2="122.80" y2="363.30" stroke="#444" stroke-width="0.35" />
<line x1="120.20" y1="365.23" x2="122.80" y2="365.23" stroke="#444" stroke-width="0.35" />
<line x1="120.20" y1="367.16" x2="122.80" y2="367.16" stroke="#444" stroke-width="0.35" />
<line x1="120.20" y1="369.09" x2="122.80" y2="369.09" stroke="#444" stroke-width="0.35" />
<line x1="120.20" y1="371.02" x2="122.80" y2="371.02" stroke="#444" stroke-width="0.35" />
<line x1="118.20" y1="372.95" x2="122.80" y2="372.95" stroke="#444" stroke-width="0.35" />
<line x1="120.20" y1="374.88" x2="122.80" y2="374.88" stroke="#444" stroke-width="0.35" />
<line x1="120.20" y1="376.81" x2="122.80" y2="376.81" stroke="#444" stroke-width="0.35" />
<line x1="120.20" y1="378.74" x2="122.80" y2="378.74" stroke="#444" stroke-width="0.35" />
<line x1="120.20" y1="380.67" x2="122.80" y2="380.67" stroke="#444" stroke-width="0.35" />
<line x1="118.20" y1="382.60" x2="122.80" y2="382.60" stroke="#444" stroke-width="0.35" />
<line x1="120.20" y1="384.53" x2="122.80" y2="384.53" stroke="#444" stroke-width="0.35" />
<line x1="120.20" y1="386.46" x2="122.80" y2="386.46" stroke="#444" stroke-width="0.35" />
<line x1="120.20" y1="388.39" x2="122.80" y2="388.39" stroke="#444" stroke-width="0.35" />
<line x1="120.20" y1="390.32" x2="122.80" y2="390.32" stroke="#444" stroke-width="0.35" />
<line x1="118.20" y1="392.25" x2="122.80" y2="392.25" stroke="#444" stroke-width="0.35" />
<line x1="120.20" y1="394.18" x2="122.80" y2="394.18" stroke="#444" stroke-width="0.35" />
<line x1="120.20" y1="396.11" x2="122.80" y2="396.11" stroke="#444" stroke-width="0.35" />
<line x1="120.20" y1="398.04" x2="122.80" y2="398.04" stroke="#444" stroke-width="0.35" />
<line x1="120.20" y1="399.97" x2="122.80" y2="399.97" stroke="#444" stroke-width="0.35" />
<line x1="118.20" y1="401.90" x2="122.80" y2="401.90" stroke="#444" stroke-width="0.35" />
<rect x="114.40" y="347.50" width="2.40" height="0.90" fill="#3c3c3c" fill-opacity="0.85"/>
<rect x="114.40" y="353.00" width="2.40" height="0.90" fill="#3c3c3c" fill-opacity="0.85"/>
<rect x="114.40" y="358.50" width="2.40" height="0.90" fill="#3c3c3c" fill-opacity="0.85"/>
<rect x="114.40" y="364.00" width="2.40" height="0.90" fill="#3c3c3c" fill-opacity="0.85"/>
<rect x="114.40" y="369.50" width="2.40" height="0.90" fill="#d2202a" fill-opacity="0.85"/>
<rect x="114.40" y="375.50" width="2.40" height="0.90" fill="#3c3c3c" fill-opacity="0.85"/>
<rect x="114.40" y="381.00" width="2.40" height="0.90" fill="#3c3c3c" fill-opacity="0.85"/>
<rect x="114.40" y="386.50" width="2.40" height="0.90" fill="#3c3c3c" fill-opacity="0.85"/>
<rect x="114.40" y="392.00" width="2.40" height="0.90" fill="#3c3c3c" fill-opacity="0.85"/>
<rect x="114.40" y="398.00" width="2.40" height="0.90" fill="#d2202a" fill-opacity="0.85"/>
<g filter="url(#blur_h)">
<g transform="translate(143.2 343.3) rotate(0 0 28)"><path d="M0.50 53.50L0.50 60.70" stroke="#8a5a48" stroke-width="1.5" fill="none"/><ellipse cx="-15.50" cy="14.40" rx="3.4" ry="1.1" fill="#e8a08c" transform="rotate(8 -15.50 14.40)"/><ellipse cx="-15.80" cy="50.60" rx="3.8" ry="1.3" fill="#e2a08c" transform="rotate(22 -15.80 50.60)"/><ellipse cx="15.50" cy="14.40" rx="3.4" ry="1.1" fill="#e8a08c" transform="rotate(-8 15.50 14.40)"/><ellipse cx="15.80" cy="50.60" rx="3.8" ry="1.3" fill="#e2a08c" transform="rotate(-22 15.80 50.60)"/><path d="M0.00 0.50C1.70 0.82 4.20 3.25 5.30 4.70C6.40 6.15 5.65 7.45 6.60 9.20C7.55 10.95 9.82 12.62 11.00 15.20C12.18 17.78 13.10 21.02 13.70 24.70C14.30 28.38 14.60 33.80 14.60 37.30C14.60 40.80 14.65 43.35 13.70 45.70C12.75 48.05 11.10 49.90 8.90 51.40C6.70 52.90 3.65 54.53 0.50 54.70C-2.65 54.87 -7.15 53.90 -10.00 52.40C-12.85 50.90 -15.53 48.22 -16.60 45.70C-17.67 43.18 -16.72 40.45 -16.40 37.30C-16.08 34.15 -15.18 30.30 -14.70 26.80C-14.22 23.30 -14.58 19.40 -13.50 16.30C-12.42 13.20 -9.63 10.45 -8.20 8.20C-6.77 5.95 -6.27 4.08 -4.90 2.80C-3.53 1.52 -1.70 0.18 0.00 0.50Z" fill="#2c1c19"/><ellipse cx="-1.00" cy="30.00" rx="12.00" ry="22.00" fill="url(#fur_h)"/><ellipse cx="-11.20" cy="10.00" rx="3.9" ry="2.5" fill="#c9a48f" transform="rotate(-20 -11.20 10.00)"/><ellipse cx="-11.70" cy="10.20" rx="2.2" ry="1.3" fill="#e4cdbd" transform="rotate(-20 -11.20 10.00)"/><ellipse cx="9.60" cy="10.00" rx="3.9" ry="2.5" fill="#c9a48f" transform="rotate(20 9.60 10.00)"/><ellipse cx="10.10" cy="10.20" rx="2.2" ry="1.3" fill="#e4cdbd" transform="rotate(20 9.60 10.00)"/></g>
<g transform="translate(185.6 344.8) rotate(0 0 28)"><path d="M0.42 49.76L-2.58 58.87" stroke="#8a5a48" stroke-width="1.5" fill="none"/><ellipse cx="-13.02" cy="13.39" rx="3.4" ry="1.1" fill="#e8a08c" transform="rotate(8 -13.02 13.39)"/><ellipse cx="-13.43" cy="47.06" rx="3.8" ry="1.3" fill="#e2a08c" transform="rotate(22 -13.43 47.06)"/><ellipse cx="13.02" cy="13.39" rx="3.4" ry="1.1" fill="#e8a08c" transform="rotate(-8 13.02 13.39)"/><ellipse cx="13.43" cy="47.06" rx="3.8" ry="1.3" fill="#e2a08c" transform="rotate(-22 13.43 47.06)"/><path d="M0.00 0.47C1.43 0.76 3.53 3.02 4.45 4.37C5.38 5.72 4.75 6.93 5.54 8.56C6.34 10.18 8.25 11.73 9.24 14.14C10.23 16.54 11.00 19.55 11.51 22.97C12.01 26.40 12.26 31.43 12.26 34.69C12.26 37.94 12.31 40.32 11.51 42.50C10.71 44.69 9.32 46.41 7.48 47.80C5.63 49.20 3.07 50.72 0.42 50.87C-2.23 51.03 -6.01 50.13 -8.40 48.73C-10.79 47.34 -13.05 44.84 -13.94 42.50C-14.84 40.16 -14.04 37.62 -13.78 34.69C-13.51 31.76 -12.75 28.18 -12.35 24.92C-11.94 21.67 -12.25 18.04 -11.34 15.16C-10.43 12.28 -8.09 9.72 -6.89 7.63C-5.68 5.53 -5.26 3.80 -4.12 2.60C-2.97 1.41 -1.43 0.17 0.00 0.47Z" fill="#2c1c19"/><ellipse cx="-0.84" cy="27.90" rx="10.08" ry="20.46" fill="url(#fur_h)"/><ellipse cx="-9.76" cy="9.30" rx="3.9" ry="2.5" fill="#c9a48f" transform="rotate(-20 -9.76 9.30)"/><ellipse cx="-10.26" cy="9.50" rx="2.2" ry="1.3" fill="#e4cdbd" transform="rotate(-20 -9.76 9.30)"/><ellipse cx="8.16" cy="9.30" rx="3.9" ry="2.5" fill="#c9a48f" transform="rotate(20 8.16 9.30)"/><ellipse cx="8.66" cy="9.50" rx="2.2" ry="1.3" fill="#e4cdbd" transform="rotate(20 8.16 9.30)"/></g>
<g transform="translate(225.6 345.4) rotate(-4 0 28)"><path d="M0.46 50.82L-1.04 58.97" stroke="#8a5a48" stroke-width="1.5" fill="none"/><ellipse cx="-14.26" cy="13.68" rx="3.4" ry="1.1" fill="#e8a08c" transform="rotate(8 -14.26 13.68)"/><ellipse cx="-14.62" cy="48.07" rx="3.8" ry="1.3" fill="#e2a08c" transform="rotate(22 -14.62 48.07)"/><ellipse cx="14.26" cy="13.68" rx="3.4" ry="1.1" fill="#e8a08c" transform="rotate(-8 14.26 13.68)"/><ellipse cx="14.62" cy="48.07" rx="3.8" ry="1.3" fill="#e2a08c" transform="rotate(-22 14.62 48.07)"/><path d="M0.00 0.47C1.56 0.78 3.86 3.09 4.88 4.46C5.89 5.84 5.20 7.08 6.07 8.74C6.95 10.40 9.03 11.99 10.12 14.44C11.21 16.89 12.05 19.97 12.60 23.46C13.16 26.96 13.43 32.11 13.43 35.43C13.43 38.76 13.48 41.18 12.60 43.41C11.73 45.65 10.21 47.41 8.19 48.83C6.16 50.25 3.36 51.81 0.46 51.97C-2.44 52.12 -6.58 51.20 -9.20 49.78C-11.82 48.35 -14.29 45.81 -15.27 43.41C-16.25 41.02 -15.38 38.43 -15.09 35.43C-14.80 32.44 -13.97 28.79 -13.52 25.46C-13.08 22.14 -13.42 18.43 -12.42 15.48C-11.42 12.54 -8.86 9.93 -7.54 7.79C-6.23 5.65 -5.77 3.88 -4.51 2.66C-3.25 1.44 -1.56 0.17 0.00 0.47Z" fill="#2c1c19"/><ellipse cx="-0.92" cy="28.50" rx="11.04" ry="20.90" fill="url(#fur_h)"/><ellipse cx="-10.48" cy="9.50" rx="3.9" ry="2.5" fill="#c9a48f" transform="rotate(-20 -10.48 9.50)"/><ellipse cx="-10.98" cy="9.70" rx="2.2" ry="1.3" fill="#e4cdbd" transform="rotate(-20 -10.48 9.50)"/><ellipse cx="8.88" cy="9.50" rx="3.9" ry="2.5" fill="#c9a48f" transform="rotate(20 8.88 9.50)"/><ellipse cx="9.38" cy="9.70" rx="2.2" ry="1.3" fill="#e4cdbd" transform="rotate(20 8.88 9.50)"/></g>
</g>
<rect x="123.60" y="343.10" width="39.60" height="59.20" fill="none" stroke="#8c8c8c" stroke-width="0.5" />
<rect x="163.90" y="343.10" width="39.30" height="59.20" fill="none" stroke="#8c8c8c" stroke-width="0.5" />
<rect x="204.00" y="343.10" width="39.60" height="59.20" fill="none" stroke="#8c8c8c" stroke-width="0.5" />
</g>
<text x="143.20" y="338.70" font-size="5.8" text-anchor="middle">HFD</text>
<text x="183.40" y="338.70" font-size="5.8" text-anchor="middle">HFD+LRD80%</text>
<text x="227.60" y="338.70" font-size="5.8" text-anchor="middle">HFD+FMT<tspan font-size="3.1" dy="1.3">LRD</tspan></text>
<text x="269.80" y="307.90" font-size="7.4" font-weight="bold" fill="#000">i</text>
<rect x="288.30" y="323.30" width="129.70" height="85.50" fill="none" stroke="#2a2a2a" stroke-width="0.6" />
<line x1="286.10" y1="408.80" x2="288.30" y2="408.80" stroke="#2a2a2a" stroke-width="0.6" />
<text x="284.90" y="410.90" font-size="6" text-anchor="end">0</text>
<line x1="286.10" y1="387.43" x2="288.30" y2="387.43" stroke="#2a2a2a" stroke-width="0.6" />
<text x="284.90" y="389.53" font-size="6" text-anchor="end">10</text>
<line x1="286.10" y1="366.05" x2="288.30" y2="366.05" stroke="#2a2a2a" stroke-width="0.6" />
<text x="284.90" y="368.15" font-size="6" text-anchor="end">20</text>
<line x1="286.10" y1="344.68" x2="288.30" y2="344.68" stroke="#2a2a2a" stroke-width="0.6" />
<text x="284.90" y="346.78" font-size="6" text-anchor="end">30</text>
<line x1="286.10" y1="323.30" x2="288.30" y2="323.30" stroke="#2a2a2a" stroke-width="0.6" />
<text x="284.90" y="325.40" font-size="6" text-anchor="end">40</text>
<line x1="302.00" y1="408.80" x2="302.00" y2="411.00" stroke="#2a2a2a" stroke-width="0.6" />
<text x="302.00" y="418.90" font-size="6" text-anchor="middle">0</text>
<line x1="327.75" y1="408.80" x2="327.75" y2="411.00" stroke="#2a2a2a" stroke-width="0.6" />
<text x="327.75" y="418.90" font-size="6" text-anchor="middle">30</text>
<line x1="353.50" y1="408.80" x2="353.50" y2="411.00" stroke="#2a2a2a" stroke-width="0.6" />
<text x="353.50" y="418.90" font-size="6" text-anchor="middle">60</text>
<line x1="379.25" y1="408.80" x2="379.25" y2="411.00" stroke="#2a2a2a" stroke-width="0.6" />
<text x="379.25" y="418.90" font-size="6" text-anchor="middle">90</text>
<line x1="405.00" y1="408.80" x2="405.00" y2="411.00" stroke="#2a2a2a" stroke-width="0.6" />
<text x="405.00" y="418.90" font-size="6" text-anchor="middle">120</text>
<text x="354.50" y="429.00" font-size="6.6" text-anchor="middle">Time (min)</text>
<text x="274.30" y="365.80" font-size="6.7" text-anchor="middle" transform="rotate(-90 274.30 365.80)">Glucose level of GTT (mmol/L)</text>
<path d="M302.00 394.90V400.10M300.70 394.90H303.30M300.70 400.10H303.30" stroke="#5a5aff" stroke-width="0.45" stroke-opacity="0.75" fill="none"/>
<path d="M327.75 376.50V387.50M326.45 376.50H329.05M326.45 387.50H329.05" stroke="#5a5aff" stroke-width="0.45" stroke-opacity="0.75" fill="none"/>
<path d="M353.50 387.60V392.40M352.20 387.60H354.80M352.20 392.40H354.80" stroke="#5a5aff" stroke-width="0.45" stroke-opacity="0.75" fill="none"/>
<path d="M379.25 390.60V395.40M377.95 390.60H380.55M377.95 395.40H380.55" stroke="#5a5aff" stroke-width="0.45" stroke-opacity="0.75" fill="none"/>
<path d="M405.00 392.80V397.20M403.70 392.80H406.30M403.70 397.20H406.30" stroke="#5a5aff" stroke-width="0.45" stroke-opacity="0.75" fill="none"/>
<polyline points="302.00,397.50 327.75,382.00 353.50,390.00 379.25,393.00 405.00,395.00" fill="none" stroke="#5a5aff" stroke-width="0.6"/>
<path d="M302.00 395.61L303.80 398.94L300.20 398.94Z" fill="#5a5aff" />
<path d="M327.75 380.11L329.55 383.44L325.95 383.44Z" fill="#5a5aff" />
<path d="M353.50 388.11L355.30 391.44L351.70 391.44Z" fill="#5a5aff" />
<path d="M379.25 391.11L381.05 394.44L377.45 394.44Z" fill="#5a5aff" />
<path d="M405.00 393.11L406.80 396.44L403.20 396.44Z" fill="#5a5aff" />
<path d="M302.00 396.45V400.05M300.70 396.45H303.30M300.70 400.05H303.30" stroke="#ff8000" stroke-width="0.45" stroke-opacity="0.75" fill="none"/>
<path d="M327.75 365.00V380.00M326.45 365.00H329.05M326.45 380.00H329.05" stroke="#ff8000" stroke-width="0.45" stroke-opacity="0.75" fill="none"/>
<path d="M353.50 381.80V388.20M352.20 381.80H354.80M352.20 388.20H354.80" stroke="#ff8000" stroke-width="0.45" stroke-opacity="0.75" fill="none"/>
<path d="M379.25 388.30V392.70M377.95 388.30H380.55M377.95 392.70H380.55" stroke="#ff8000" stroke-width="0.45" stroke-opacity="0.75" fill="none"/>
<path d="M405.00 392.30V396.70M403.70 392.30H406.30M403.70 396.70H406.30" stroke="#ff8000" stroke-width="0.45" stroke-opacity="0.75" fill="none"/>
<polyline points="302.00,398.25 327.75,372.50 353.50,385.00 379.25,390.50 405.00,394.50" fill="none" stroke="#ff8000" stroke-width="0.6"/>
<rect x="300.24" y="396.49" width="3.52" height="3.52" fill="#ff8000" />
<rect x="325.99" y="370.74" width="3.52" height="3.52" fill="#ff8000" />
<rect x="351.74" y="383.24" width="3.52" height="3.52" fill="#ff8000" />
<rect x="377.49" y="388.74" width="3.52" height="3.52" fill="#ff8000" />
<rect x="403.24" y="392.74" width="3.52" height="3.52" fill="#ff8000" />
<path d="M302.00 393.15V398.35M300.70 393.15H303.30M300.70 398.35H303.30" stroke="#0000ff" stroke-width="0.45" stroke-opacity="0.75" fill="none"/>
<path d="M327.75 346.20V373.80M326.45 346.20H329.05M326.45 373.80H329.05" stroke="#0000ff" stroke-width="0.45" stroke-opacity="0.75" fill="none"/>
<path d="M353.50 369.95V391.55M352.20 369.95H354.80M352.20 391.55H354.80" stroke="#0000ff" stroke-width="0.45" stroke-opacity="0.75" fill="none"/>
<path d="M379.25 384.55V392.95M377.95 384.55H380.55M377.95 392.95H380.55" stroke="#0000ff" stroke-width="0.45" stroke-opacity="0.75" fill="none"/>
<path d="M405.00 389.40V394.60M403.70 389.40H406.30M403.70 394.60H406.30" stroke="#0000ff" stroke-width="0.45" stroke-opacity="0.75" fill="none"/>
<polyline points="302.00,395.75 327.75,360.00 353.50,380.75 379.25,388.75 405.00,392.00" fill="none" stroke="#0000ff" stroke-width="0.6"/>
<circle cx="302.00" cy="395.75" r="1.9" fill="#0000ff" />
<circle cx="327.75" cy="360.00" r="1.9" fill="#0000ff" />
<circle cx="353.50" cy="380.75" r="1.9" fill="#0000ff" />
<circle cx="379.25" cy="388.75" r="1.9" fill="#0000ff" />
<circle cx="405.00" cy="392.00" r="1.9" fill="#0000ff" />
<line x1="294.70" y1="327.00" x2="303.90" y2="327.00" stroke="#0000ff" stroke-width="0.5" />
<circle cx="299.30" cy="327.00" r="1.75" fill="#0000ff" />
<text x="308.80" y="329.00" font-size="5.8">HFD</text>
<line x1="294.70" y1="334.30" x2="303.90" y2="334.30" stroke="#ff8000" stroke-width="0.5" stroke-opacity="0.7"/>
<rect x="297.64" y="332.64" width="3.32" height="3.32" fill="#ff8000" />
<text x="308.80" y="336.30" font-size="5.8">HFD LRD80%</text>
<line x1="294.70" y1="341.30" x2="303.90" y2="341.30" stroke="#5a5aff" stroke-width="0.5" stroke-opacity="0.7"/>
<path d="M299.30 339.62L300.90 342.58L297.70 342.58Z" fill="#5a5aff" />
<text x="308.80" y="343.30" font-size="5.8">HFD FMT<tspan font-size="3.19" dy="1.1">LRD</tspan></text>
<text x="358.30" y="331.30" font-size="5.6">Group:<tspan font-style="italic">P</tspan>=0.0002</text>
<text x="358.30" y="339.00" font-size="5.6">Group:Time:<tspan font-style="italic">P</tspan>&lt;0.0001</text>
<text x="317.00" y="397.60" font-size="5.8"><tspan font-style="italic">P</tspan> &lt;0.0001</text>
<text x="436.20" y="307.90" font-size="7.4" font-weight="bold" fill="#000">j</text>
<line x1="460.00" y1="326.80" x2="460.00" y2="409.30" stroke="#2a2a2a" stroke-width="0.6" />
<line x1="457.80" y1="409.30" x2="460.00" y2="409.30" stroke="#2a2a2a" stroke-width="0.6" />
<text x="456.80" y="411.46" font-size="6" text-anchor="end">0</text>
<line x1="457.80" y1="388.68" x2="460.00" y2="388.68" stroke="#2a2a2a" stroke-width="0.6" />
<text x="456.80" y="390.84" font-size="6" text-anchor="end">500</text>
<line x1="457.80" y1="368.05" x2="460.00" y2="368.05" stroke="#2a2a2a" stroke-width="0.6" />
<text x="456.80" y="370.21" font-size="6" text-anchor="end">1000</text>
<line x1="457.80" y1="347.43" x2="460.00" y2="347.43" stroke="#2a2a2a" stroke-width="0.6" />
<text x="456.80" y="349.59" font-size="6" text-anchor="end">1500</text>
<line x1="457.80" y1="326.80" x2="460.00" y2="326.80" stroke="#2a2a2a" stroke-width="0.6" />
<text x="456.80" y="328.96" font-size="6" text-anchor="end">2000</text>
<line x1="459.70" y1="409.30" x2="516.80" y2="409.30" stroke="#2a2a2a" stroke-width="0.6" />
<text x="439.20" y="367.50" font-size="6.6" text-anchor="middle" transform="rotate(-90 439.20 367.50)">AUC during GTT</text>
<rect x="466.30" y="350.50" width="11.30" height="58.80" fill="#0000ff" />
<line x1="471.95" y1="340.80" x2="471.95" y2="350.70" stroke="#333" stroke-width="0.5" />
<line x1="469.95" y1="340.80" x2="473.95" y2="340.80" stroke="#333" stroke-width="0.5" />
<circle cx="471.95" cy="335.50" r="1.2" fill="#fff" stroke="#222" stroke-width="0.5" />
<circle cx="475.55" cy="342.50" r="1.2" fill="#fff" stroke="#222" stroke-width="0.5" />
<circle cx="468.55" cy="345.50" r="1.2" fill="#fff" stroke="#222" stroke-width="0.5" />
<circle cx="471.95" cy="346.00" r="1.2" fill="#fff" stroke="#222" stroke-width="0.5" />
<circle cx="470.35" cy="350.50" r="1.2" fill="#fff" stroke="#222" stroke-width="0.5" />
<circle cx="474.35" cy="353.00" r="1.2" fill="#fff" stroke="#222" stroke-width="0.5" />
<circle cx="471.35" cy="360.50" r="1.2" fill="#fff" stroke="#222" stroke-width="0.5" />
<circle cx="471.95" cy="367.50" r="1.2" fill="#fff" stroke="#222" stroke-width="0.5" />
<line x1="471.95" y1="409.30" x2="471.95" y2="411.30" stroke="#2a2a2a" stroke-width="0.6" />
<rect x="483.00" y="359.50" width="11.30" height="49.80" fill="#ff8000" />
<line x1="488.65" y1="353.60" x2="488.65" y2="359.70" stroke="#333" stroke-width="0.5" />
<line x1="486.65" y1="353.60" x2="490.65" y2="353.60" stroke="#333" stroke-width="0.5" />
<circle cx="489.25" cy="349.50" r="1.2" fill="#fff" stroke="#222" stroke-width="0.5" />
<circle cx="490.25" cy="354.50" r="1.2" fill="#fff" stroke="#222" stroke-width="0.5" />
<circle cx="485.85" cy="358.00" r="1.2" fill="#fff" stroke="#222" stroke-width="0.5" />
<circle cx="492.25" cy="360.50" r="1.2" fill="#fff" stroke="#222" stroke-width="0.5" />
<circle cx="488.05" cy="361.00" r="1.2" fill="#fff" stroke="#222" stroke-width="0.5" />
<circle cx="490.25" cy="361.50" r="1.2" fill="#fff" stroke="#222" stroke-width="0.5" />
<circle cx="486.65" cy="364.00" r="1.2" fill="#fff" stroke="#222" stroke-width="0.5" />
<circle cx="491.45" cy="366.50" r="1.2" fill="#fff" stroke="#222" stroke-width="0.5" />
<line x1="488.65" y1="409.30" x2="488.65" y2="411.30" stroke="#2a2a2a" stroke-width="0.6" />
<rect x="499.60" y="364.50" width="11.30" height="44.80" fill="#5a5aff" />
<line x1="505.25" y1="358.20" x2="505.25" y2="364.70" stroke="#333" stroke-width="0.5" />
<line x1="503.25" y1="358.20" x2="507.25" y2="358.20" stroke="#333" stroke-width="0.5" />
<circle cx="505.25" cy="355.50" r="1.2" fill="#fff" stroke="#222" stroke-width="0.5" />
<circle cx="508.85" cy="362.00" r="1.2" fill="#fff" stroke="#222" stroke-width="0.5" />
<circle cx="501.25" cy="362.50" r="1.2" fill="#fff" stroke="#222" stroke-width="0.5" />
<circle cx="506.45" cy="364.00" r="1.2" fill="#fff" stroke="#222" stroke-width="0.5" />
<circle cx="503.25" cy="366.00" r="1.2" fill="#fff" stroke="#222" stroke-width="0.5" />
<circle cx="507.65" cy="367.00" r="1.2" fill="#fff" stroke="#222" stroke-width="0.5" />
<circle cx="504.85" cy="367.50" r="1.2" fill="#fff" stroke="#222" stroke-width="0.5" />
<circle cx="505.45" cy="373.50" r="1.2" fill="#fff" stroke="#222" stroke-width="0.5" />
<line x1="505.25" y1="409.30" x2="505.25" y2="411.30" stroke="#2a2a2a" stroke-width="0.6" />
<text x="472.00" y="418.30" font-size="5.6" text-anchor="middle">HFD</text>
<text x="487.50" y="418.30" font-size="5.6" text-anchor="middle">HFD</text>
<text x="508.00" y="418.30" font-size="5.6" text-anchor="middle">HFD</text>
<text x="487.50" y="425.00" font-size="5.6" text-anchor="middle">LRD80%</text>
<text x="509.30" y="425.00" font-size="5.6" text-anchor="middle">FMT<tspan font-size="3.08" dy="1.2">LRD</tspan></text>
<path d="M471.30 332.50V324.30H505.80V348.80" fill="none" stroke="#555" stroke-width="0.5" />
<text x="475.00" y="322.10" font-size="5.95"><tspan font-style="italic">P</tspan>=0.0019</text>
<path d="M471.30 332.50V331.30H488.50V343.80" fill="none" stroke="#555" stroke-width="0.5" />
<text x="471.80" y="329.60" font-size="5.75"><tspan font-style="italic">P</tspan>=0.0596</text>
<text x="534.40" y="307.90" font-size="7.4" font-weight="bold" fill="#000">k</text>
<rect x="551.20" y="323.30" width="129.60" height="85.50" fill="none" stroke="#2a2a2a" stroke-width="0.6" />
<line x1="549.00" y1="408.80" x2="551.20" y2="408.80" stroke="#2a2a2a" stroke-width="0.6" />
<text x="547.80" y="410.90" font-size="6" text-anchor="end">0</text>
<line x1="549.00" y1="380.30" x2="551.20" y2="380.30" stroke="#2a2a2a" stroke-width="0.6" />
<text x="547.80" y="382.40" font-size="6" text-anchor="end">5</text>
<line x1="549.00" y1="351.80" x2="551.20" y2="351.80" stroke="#2a2a2a" stroke-width="0.6" />
<text x="547.80" y="353.90" font-size="6" text-anchor="end">10</text>
<line x1="549.00" y1="323.30" x2="551.20" y2="323.30" stroke="#2a2a2a" stroke-width="0.6" />
<text x="547.80" y="325.40" font-size="6" text-anchor="end">15</text>
<line x1="565.30" y1="408.80" x2="565.30" y2="411.00" stroke="#2a2a2a" stroke-width="0.6" />
<text x="565.30" y="418.90" font-size="6" text-anchor="middle">0</text>
<line x1="590.90" y1="408.80" x2="590.90" y2="411.00" stroke="#2a2a2a" stroke-width="0.6" />
<text x="590.90" y="418.90" font-size="6" text-anchor="middle">30</text>
<line x1="616.50" y1="408.80" x2="616.50" y2="411.00" stroke="#2a2a2a" stroke-width="0.6" />
<text x="616.50" y="418.90" font-size="6" text-anchor="middle">60</text>
<line x1="642.10" y1="408.80" x2="642.10" y2="411.00" stroke="#2a2a2a" stroke-width="0.6" />
<text x="642.10" y="418.90" font-size="6" text-anchor="middle">90</text>
<line x1="667.70" y1="408.80" x2="667.70" y2="411.00" stroke="#2a2a2a" stroke-width="0.6" />
<text x="667.70" y="418.90" font-size="6" text-anchor="middle">120</text>
<text x="617.30" y="429.00" font-size="6.6" text-anchor="middle">Time (min)</text>
<text x="536.80" y="365.80" font-size="6.7" text-anchor="middle" transform="rotate(-90 536.80 365.80)">Glucose level of ITT (mmol/L)</text>
<path d="M565.30 374.50V385.50M564.00 374.50H566.60M564.00 385.50H566.60" stroke="#5a5aff" stroke-width="0.45" stroke-opacity="0.75" fill="none"/>
<path d="M590.90 381.70V389.30M589.60 381.70H592.20M589.60 389.30H592.20" stroke="#5a5aff" stroke-width="0.45" stroke-opacity="0.75" fill="none"/>
<path d="M616.50 373.75V384.75M615.20 373.75H617.80M615.20 384.75H617.80" stroke="#5a5aff" stroke-width="0.45" stroke-opacity="0.75" fill="none"/>
<path d="M642.10 363.25V384.25M640.80 363.25H643.40M640.80 384.25H643.40" stroke="#5a5aff" stroke-width="0.45" stroke-opacity="0.75" fill="none"/>
<path d="M667.70 360.75V377.75M666.40 360.75H669.00M666.40 377.75H669.00" stroke="#5a5aff" stroke-width="0.45" stroke-opacity="0.75" fill="none"/>
<polyline points="565.30,380.00 590.90,385.50 616.50,379.25 642.10,373.75 667.70,369.25" fill="none" stroke="#5a5aff" stroke-width="0.6"/>
<path d="M565.30 378.11L567.10 381.44L563.50 381.44Z" fill="#5a5aff" />
<path d="M590.90 383.61L592.70 386.94L589.10 386.94Z" fill="#5a5aff" />
<path d="M616.50 377.36L618.30 380.69L614.70 380.69Z" fill="#5a5aff" />
<path d="M642.10 371.86L643.90 375.19L640.30 375.19Z" fill="#5a5aff" />
<path d="M667.70 367.36L669.50 370.69L665.90 370.69Z" fill="#5a5aff" />
<path d="M565.30 372.25V381.25M564.00 372.25H566.60M564.00 381.25H566.60" stroke="#ff8000" stroke-width="0.45" stroke-opacity="0.75" fill="none"/>
<path d="M590.90 381.50V387.50M589.60 381.50H592.20M589.60 387.50H592.20" stroke="#ff8000" stroke-width="0.45" stroke-opacity="0.75" fill="none"/>
<path d="M616.50 373.25V384.25M615.20 373.25H617.80M615.20 384.25H617.80" stroke="#ff8000" stroke-width="0.45" stroke-opacity="0.75" fill="none"/>
<path d="M642.10 357.50V382.50M640.80 357.50H643.40M640.80 382.50H643.40" stroke="#ff8000" stroke-width="0.45" stroke-opacity="0.75" fill="none"/>
<path d="M667.70 359.00V380.00M666.40 359.00H669.00M666.40 380.00H669.00" stroke="#ff8000" stroke-width="0.45" stroke-opacity="0.75" fill="none"/>
<polyline points="565.30,376.75 590.90,384.50 616.50,378.75 642.10,370.00 667.70,369.50" fill="none" stroke="#ff8000" stroke-width="0.6"/>
<rect x="563.54" y="374.99" width="3.52" height="3.52" fill="#ff8000" />
<rect x="589.14" y="382.74" width="3.52" height="3.52" fill="#ff8000" />
<rect x="614.74" y="376.99" width="3.52" height="3.52" fill="#ff8000" />
<rect x="640.34" y="368.24" width="3.52" height="3.52" fill="#ff8000" />
<rect x="665.94" y="367.74" width="3.52" height="3.52" fill="#ff8000" />
<path d="M565.30 365.80V380.20M564.00 365.80H566.60M564.00 380.20H566.60" stroke="#0000ff" stroke-width="0.45" stroke-opacity="0.75" fill="none"/>
<path d="M590.90 375.85V386.65M589.60 375.85H592.20M589.60 386.65H592.20" stroke="#0000ff" stroke-width="0.45" stroke-opacity="0.75" fill="none"/>
<path d="M616.50 371.30V383.70M615.20 371.30H617.80M615.20 383.70H617.80" stroke="#0000ff" stroke-width="0.45" stroke-opacity="0.75" fill="none"/>
<path d="M642.10 343.70V380.30M640.80 343.70H643.40M640.80 380.30H643.40" stroke="#0000ff" stroke-width="0.45" stroke-opacity="0.75" fill="none"/>
<path d="M667.70 348.40V377.60M666.40 348.40H669.00M666.40 377.60H669.00" stroke="#0000ff" stroke-width="0.45" stroke-opacity="0.75" fill="none"/>
<polyline points="565.30,373.00 590.90,381.25 616.50,377.50 642.10,362.00 667.70,363.00" fill="none" stroke="#0000ff" stroke-width="0.6"/>
<circle cx="565.30" cy="373.00" r="1.9" fill="#0000ff" />
<circle cx="590.90" cy="381.25" r="1.9" fill="#0000ff" />
<circle cx="616.50" cy="377.50" r="1.9" fill="#0000ff" />
<circle cx="642.10" cy="362.00" r="1.9" fill="#0000ff" />
<circle cx="667.70" cy="363.00" r="1.9" fill="#0000ff" />
<line x1="555.20" y1="327.00" x2="564.40" y2="327.00" stroke="#0000ff" stroke-width="0.5" />
<circle cx="559.80" cy="327.00" r="1.75" fill="#0000ff" />
<text x="569.80" y="329.00" font-size="5.8">HFD</text>
<line x1="555.20" y1="334.30" x2="564.40" y2="334.30" stroke="#ff8000" stroke-width="0.5" stroke-opacity="0.7"/>
<rect x="558.14" y="332.64" width="3.32" height="3.32" fill="#ff8000" />
<text x="569.80" y="336.30" font-size="5.8">HFD LRD80%</text>
<line x1="555.20" y1="341.50" x2="564.40" y2="341.50" stroke="#5a5aff" stroke-width="0.5" stroke-opacity="0.7"/>
<path d="M559.80 339.82L561.40 342.78L558.20 342.78Z" fill="#5a5aff" />
<text x="569.80" y="343.50" font-size="5.8">HFD FMT<tspan font-size="3.19" dy="1.1">LRD</tspan></text>
<text x="629.00" y="342.80" font-size="5.8"><tspan font-style="italic">P</tspan>=0.0032</text>
<text x="560.80" y="397.80" font-size="5.6">Group:<tspan font-style="italic">P</tspan>=0.0788</text>
<text x="560.80" y="405.80" font-size="5.6">Group:Time:<tspan font-style="italic">P</tspan>=0.6368</text>
<text x="9.40" y="447.90" font-size="7.4" font-weight="bold" fill="#000">l</text>
<line x1="26.30" y1="465.80" x2="26.30" y2="547.80" stroke="#2a2a2a" stroke-width="0.6" />
<line x1="24.10" y1="547.80" x2="26.30" y2="547.80" stroke="#2a2a2a" stroke-width="0.6" />
<text x="23.10" y="549.96" font-size="6" text-anchor="end">0</text>
<line x1="24.10" y1="520.47" x2="26.30" y2="520.47" stroke="#2a2a2a" stroke-width="0.6" />
<text x="23.10" y="522.63" font-size="6" text-anchor="end">500</text>
<line x1="24.10" y1="493.14" x2="26.30" y2="493.14" stroke="#2a2a2a" stroke-width="0.6" />
<text x="23.10" y="495.30" font-size="6" text-anchor="end">1000</text>
<line x1="24.10" y1="465.81" x2="26.30" y2="465.81" stroke="#2a2a2a" stroke-width="0.6" />
<text x="23.10" y="467.97" font-size="6" text-anchor="end">1500</text>
<line x1="26.00" y1="547.80" x2="83.30" y2="547.80" stroke="#2a2a2a" stroke-width="0.6" />
<text x="5.20" y="506.30" font-size="6.6" text-anchor="middle" transform="rotate(-90 5.20 506.30)">AUC during ITT</text>
<rect x="32.00" y="503.00" width="11.40" height="44.80" fill="#0000ff" />
<line x1="37.70" y1="494.50" x2="37.70" y2="503.20" stroke="#333" stroke-width="0.5" />
<line x1="35.70" y1="494.50" x2="39.70" y2="494.50" stroke="#333" stroke-width="0.5" />
<circle cx="37.70" cy="484.00" r="1.2" fill="#fff" stroke="#222" stroke-width="0.5" />
<circle cx="35.20" cy="499.00" r="1.2" fill="#fff" stroke="#222" stroke-width="0.5" />
<circle cx="40.10" cy="503.00" r="1.2" fill="#fff" stroke="#222" stroke-width="0.5" />
<circle cx="37.70" cy="505.00" r="1.2" fill="#fff" stroke="#222" stroke-width="0.5" />
<circle cx="34.50" cy="507.50" r="1.2" fill="#fff" stroke="#222" stroke-width="0.5" />
<circle cx="41.10" cy="509.50" r="1.2" fill="#fff" stroke="#222" stroke-width="0.5" />
<circle cx="37.70" cy="511.00" r="1.2" fill="#fff" stroke="#222" stroke-width="0.5" />
<line x1="37.70" y1="547.80" x2="37.70" y2="549.80" stroke="#2a2a2a" stroke-width="0.6" />
<rect x="48.80" y="514.30" width="11.40" height="33.50" fill="#ff8000" />
<line x1="54.50" y1="508.30" x2="54.50" y2="514.50" stroke="#333" stroke-width="0.5" />
<line x1="52.50" y1="508.30" x2="56.50" y2="508.30" stroke="#333" stroke-width="0.5" />
<circle cx="54.50" cy="507.50" r="1.2" fill="#fff" stroke="#222" stroke-width="0.5" />
<circle cx="51.90" cy="510.00" r="1.2" fill="#fff" stroke="#222" stroke-width="0.5" />
<circle cx="58.10" cy="510.50" r="1.2" fill="#fff" stroke="#222" stroke-width="0.5" />
<circle cx="55.10" cy="513.00" r="1.2" fill="#fff" stroke="#222" stroke-width="0.5" />
<circle cx="50.90" cy="515.50" r="1.2" fill="#fff" stroke="#222" stroke-width="0.5" />
<circle cx="57.70" cy="517.00" r="1.2" fill="#fff" stroke="#222" stroke-width="0.5" />
<circle cx="54.50" cy="520.50" r="1.2" fill="#fff" stroke="#222" stroke-width="0.5" />
<circle cx="54.30" cy="510.00" r="1.2" fill="#fff" stroke="#222" stroke-width="0.5" />
<line x1="54.50" y1="547.80" x2="54.50" y2="549.80" stroke="#2a2a2a" stroke-width="0.6" />
<rect x="65.80" y="515.00" width="11.40" height="32.80" fill="#5a5aff" />
<line x1="71.50" y1="509.20" x2="71.50" y2="515.20" stroke="#333" stroke-width="0.5" />
<line x1="69.50" y1="509.20" x2="73.50" y2="509.20" stroke="#333" stroke-width="0.5" />
<circle cx="71.50" cy="507.50" r="1.2" fill="#fff" stroke="#222" stroke-width="0.5" />
<circle cx="74.90" cy="512.50" r="1.2" fill="#fff" stroke="#222" stroke-width="0.5" />
<circle cx="67.90" cy="513.50" r="1.2" fill="#fff" stroke="#222" stroke-width="0.5" />
<circle cx="71.50" cy="515.00" r="1.2" fill="#fff" stroke="#222" stroke-width="0.5" />
<circle cx="69.90" cy="517.00" r="1.2" fill="#fff" stroke="#222" stroke-width="0.5" />
<circle cx="74.10" cy="519.00" r="1.2" fill="#fff" stroke="#222" stroke-width="0.5" />
<circle cx="71.70" cy="525.00" r="1.2" fill="#fff" stroke="#222" stroke-width="0.5" />
<line x1="71.50" y1="547.80" x2="71.50" y2="549.80" stroke="#2a2a2a" stroke-width="0.6" />
<text x="37.50" y="556.60" font-size="5.6" text-anchor="middle">HFD</text>
<text x="53.30" y="556.60" font-size="5.6" text-anchor="middle">HFD</text>
<text x="75.50" y="556.60" font-size="5.6" text-anchor="middle">HFD</text>
<text x="53.30" y="563.30" font-size="5.6" text-anchor="middle">LRD80%</text>
<text x="76.30" y="563.30" font-size="5.6" text-anchor="middle">FMT<tspan font-size="3.08" dy="1.2">LRD</tspan></text>
<path d="M37.50 480.00V470.00H71.30V505.00" fill="none" stroke="#555" stroke-width="0.5" />
<text x="41.30" y="467.80" font-size="5.95"><tspan font-style="italic">P</tspan>=0.0018</text>
<path d="M37.50 481.30V479.50H54.50V505.00" fill="none" stroke="#555" stroke-width="0.5" />
<text x="40.00" y="477.80" font-size="5.95"><tspan font-style="italic">P</tspan>=0.0044</text>
<text x="97.40" y="447.90" font-size="7.4" font-weight="bold" fill="#000">m</text>
<line x1="118.80" y1="463.80" x2="118.80" y2="548.50" stroke="#2a2a2a" stroke-width="0.6" />
<line x1="116.60" y1="548.50" x2="118.80" y2="548.50" stroke="#2a2a2a" stroke-width="0.6" />
<text x="115.60" y="550.66" font-size="6" text-anchor="end">50</text>
<line x1="116.60" y1="531.55" x2="118.80" y2="531.55" stroke="#2a2a2a" stroke-width="0.6" />
<text x="115.60" y="533.71" font-size="6" text-anchor="end">100</text>
<line x1="116.60" y1="514.60" x2="118.80" y2="514.60" stroke="#2a2a2a" stroke-width="0.6" />
<text x="115.60" y="516.76" font-size="6" text-anchor="end">150</text>
<line x1="116.60" y1="497.65" x2="118.80" y2="497.65" stroke="#2a2a2a" stroke-width="0.6" />
<text x="115.60" y="499.81" font-size="6" text-anchor="end">200</text>
<line x1="116.60" y1="480.70" x2="118.80" y2="480.70" stroke="#2a2a2a" stroke-width="0.6" />
<text x="115.60" y="482.86" font-size="6" text-anchor="end">250</text>
<line x1="116.60" y1="463.75" x2="118.80" y2="463.75" stroke="#2a2a2a" stroke-width="0.6" />
<text x="115.60" y="465.91" font-size="6" text-anchor="end">300</text>
<line x1="118.50" y1="548.50" x2="176.30" y2="548.50" stroke="#2a2a2a" stroke-width="0.6" />
<text x="99.00" y="506.30" font-size="6.6" text-anchor="middle" transform="rotate(-90 99.00 506.30)">Fasting insulin (pg/mL)</text>
<rect x="124.60" y="500.00" width="11.60" height="48.50" fill="#0000ff" />
<line x1="130.40" y1="487.80" x2="130.40" y2="500.20" stroke="#333" stroke-width="0.5" />
<line x1="128.40" y1="487.80" x2="132.40" y2="487.80" stroke="#333" stroke-width="0.5" />
<circle cx="130.40" cy="483.00" r="1.2" fill="#fff" stroke="#222" stroke-width="0.5" />
<circle cx="133.60" cy="492.50" r="1.2" fill="#fff" stroke="#222" stroke-width="0.5" />
<circle cx="127.20" cy="497.50" r="1.2" fill="#fff" stroke="#222" stroke-width="0.5" />
<circle cx="130.40" cy="500.50" r="1.2" fill="#fff" stroke="#222" stroke-width="0.5" />
<circle cx="133.00" cy="501.00" r="1.2" fill="#fff" stroke="#222" stroke-width="0.5" />
<circle cx="128.20" cy="505.50" r="1.2" fill="#fff" stroke="#222" stroke-width="0.5" />
<circle cx="132.20" cy="506.00" r="1.2" fill="#fff" stroke="#222" stroke-width="0.5" />
<circle cx="130.20" cy="520.50" r="1.2" fill="#fff" stroke="#222" stroke-width="0.5" />
<line x1="130.40" y1="548.50" x2="130.40" y2="550.50" stroke="#2a2a2a" stroke-width="0.6" />
<rect x="141.80" y="520.50" width="11.60" height="28.00" fill="#ff8000" />
<line x1="147.60" y1="515.00" x2="147.60" y2="520.70" stroke="#333" stroke-width="0.5" />
<line x1="145.60" y1="515.00" x2="149.60" y2="515.00" stroke="#333" stroke-width="0.5" />
<circle cx="147.60" cy="514.50" r="1.2" fill="#fff" stroke="#222" stroke-width="0.5" />
<circle cx="150.80" cy="516.50" r="1.2" fill="#fff" stroke="#222" stroke-width="0.5" />
<circle cx="144.00" cy="519.00" r="1.2" fill="#fff" stroke="#222" stroke-width="0.5" />
<circle cx="147.20" cy="520.50" r="1.2" fill="#fff" stroke="#222" stroke-width="0.5" />
<circle cx="149.20" cy="521.00" r="1.2" fill="#fff" stroke="#222" stroke-width="0.5" />
<circle cx="145.20" cy="523.50" r="1.2" fill="#fff" stroke="#222" stroke-width="0.5" />
<circle cx="150.40" cy="524.00" r="1.2" fill="#fff" stroke="#222" stroke-width="0.5" />
<circle cx="147.60" cy="528.50" r="1.2" fill="#fff" stroke="#222" stroke-width="0.5" />
<line x1="147.60" y1="548.50" x2="147.60" y2="550.50" stroke="#2a2a2a" stroke-width="0.6" />
<rect x="159.20" y="512.00" width="11.60" height="36.50" fill="#5a5aff" />
<line x1="165.00" y1="503.50" x2="165.00" y2="512.20" stroke="#333" stroke-width="0.5" />
<line x1="163.00" y1="503.50" x2="167.00" y2="503.50" stroke="#333" stroke-width="0.5" />
<circle cx="165.20" cy="503.00" r="1.2" fill="#fff" stroke="#222" stroke-width="0.5" />
<circle cx="163.40" cy="504.50" r="1.2" fill="#fff" stroke="#222" stroke-width="0.5" />
<circle cx="168.20" cy="505.00" r="1.2" fill="#fff" stroke="#222" stroke-width="0.5" />
<circle cx="161.60" cy="508.50" r="1.2" fill="#fff" stroke="#222" stroke-width="0.5" />
<circle cx="165.00" cy="512.50" r="1.2" fill="#fff" stroke="#222" stroke-width="0.5" />
<circle cx="165.00" cy="519.50" r="1.2" fill="#fff" stroke="#222" stroke-width="0.5" />
<circle cx="165.00" cy="526.00" r="1.2" fill="#fff" stroke="#222" stroke-width="0.5" />
<line x1="165.00" y1="548.50" x2="165.00" y2="550.50" stroke="#2a2a2a" stroke-width="0.6" />
<text x="130.50" y="558.30" font-size="5.6" text-anchor="middle">HFD</text>
<text x="147.00" y="558.30" font-size="5.6" text-anchor="middle">HFD</text>
<text x="169.50" y="558.30" font-size="5.6" text-anchor="middle">HFD</text>
<text x="146.30" y="565.00" font-size="5.6" text-anchor="middle">LRD80%</text>
<text x="170.00" y="565.00" font-size="5.6" text-anchor="middle">FMT<tspan font-size="3.08" dy="1.2">LRD</tspan></text>
<path d="M130.50 478.80V467.50H165.00V492.50" fill="none" stroke="#555" stroke-width="0.5" />
<text x="135.00" y="465.80" font-size="5.95"><tspan font-style="italic">P</tspan>=0.0247</text>
<path d="M130.50 480.00V478.30H147.50V505.00" fill="none" stroke="#555" stroke-width="0.5" />
<text x="126.80" y="476.30" font-size="5.95"><tspan font-style="italic">P</tspan>=0.0002</text>
<text x="201.20" y="447.90" font-size="7.4" font-weight="bold" fill="#000">n</text>
<line x1="213.30" y1="463.80" x2="213.30" y2="548.50" stroke="#2a2a2a" stroke-width="0.6" />
<line x1="211.10" y1="543.75" x2="213.30" y2="543.75" stroke="#2a2a2a" stroke-width="0.6" />
<text x="210.10" y="545.91" font-size="6" text-anchor="end">0.1</text>
<line x1="211.10" y1="517.00" x2="213.30" y2="517.00" stroke="#2a2a2a" stroke-width="0.6" />
<text x="210.10" y="519.16" font-size="6" text-anchor="end">0.6</text>
<line x1="211.10" y1="490.50" x2="213.30" y2="490.50" stroke="#2a2a2a" stroke-width="0.6" />
<text x="210.10" y="492.66" font-size="6" text-anchor="end">1.1</text>
<line x1="211.10" y1="463.75" x2="213.30" y2="463.75" stroke="#2a2a2a" stroke-width="0.6" />
<text x="210.10" y="465.91" font-size="6" text-anchor="end">1.6</text>
<line x1="213.00" y1="548.50" x2="270.00" y2="548.50" stroke="#2a2a2a" stroke-width="0.6" />
<text x="195.80" y="506.30" font-size="6.6" text-anchor="middle" transform="rotate(-90 195.80 506.30)">HOMA-IR</text>
<rect x="219.30" y="495.80" width="11.30" height="52.70" fill="#0000ff" />
<line x1="224.95" y1="487.30" x2="224.95" y2="496.00" stroke="#333" stroke-width="0.5" />
<line x1="222.95" y1="487.30" x2="226.95" y2="487.30" stroke="#333" stroke-width="0.5" />
<circle cx="224.95" cy="482.00" r="1.2" fill="#fff" stroke="#222" stroke-width="0.5" />
<circle cx="221.55" cy="489.50" r="1.2" fill="#fff" stroke="#222" stroke-width="0.5" />
<circle cx="228.55" cy="493.50" r="1.2" fill="#fff" stroke="#222" stroke-width="0.5" />
<circle cx="224.95" cy="496.00" r="1.2" fill="#fff" stroke="#222" stroke-width="0.5" />
<circle cx="222.35" cy="496.50" r="1.2" fill="#fff" stroke="#222" stroke-width="0.5" />
<circle cx="227.95" cy="499.00" r="1.2" fill="#fff" stroke="#222" stroke-width="0.5" />
<circle cx="224.95" cy="502.50" r="1.2" fill="#fff" stroke="#222" stroke-width="0.5" />
<circle cx="224.95" cy="510.50" r="1.2" fill="#fff" stroke="#222" stroke-width="0.5" />
<line x1="224.95" y1="548.50" x2="224.95" y2="550.50" stroke="#2a2a2a" stroke-width="0.6" />
<rect x="236.30" y="519.30" width="11.30" height="29.20" fill="#ff8000" />
<line x1="241.95" y1="514.50" x2="241.95" y2="519.50" stroke="#333" stroke-width="0.5" />
<line x1="239.95" y1="514.50" x2="243.95" y2="514.50" stroke="#333" stroke-width="0.5" />
<circle cx="241.95" cy="511.50" r="1.2" fill="#fff" stroke="#222" stroke-width="0.5" />
<circle cx="243.75" cy="514.50" r="1.2" fill="#fff" stroke="#222" stroke-width="0.5" />
<circle cx="240.35" cy="517.50" r="1.2" fill="#fff" stroke="#222" stroke-width="0.5" />
<circle cx="238.35" cy="520.50" r="1.2" fill="#fff" stroke="#222" stroke-width="0.5" />
<circle cx="241.95" cy="521.50" r="1.2" fill="#fff" stroke="#222" stroke-width="0.5" />
<circle cx="244.95" cy="522.50" r="1.2" fill="#fff" stroke="#222" stroke-width="0.5" />
<circle cx="243.15" cy="523.50" r="1.2" fill="#fff" stroke="#222" stroke-width="0.5" />
<circle cx="246.15" cy="524.00" r="1.2" fill="#fff" stroke="#222" stroke-width="0.5" />
<line x1="241.95" y1="548.50" x2="241.95" y2="550.50" stroke="#2a2a2a" stroke-width="0.6" />
<rect x="253.00" y="510.50" width="11.30" height="38.00" fill="#5a5aff" />
<line x1="258.65" y1="504.20" x2="258.65" y2="510.70" stroke="#333" stroke-width="0.5" />
<line x1="256.65" y1="504.20" x2="260.65" y2="504.20" stroke="#333" stroke-width="0.5" />
<circle cx="258.95" cy="502.00" r="1.2" fill="#fff" stroke="#222" stroke-width="0.5" />
<circle cx="255.65" cy="506.00" r="1.2" fill="#fff" stroke="#222" stroke-width="0.5" />
<circle cx="262.05" cy="506.50" r="1.2" fill="#fff" stroke="#222" stroke-width="0.5" />
<circle cx="258.95" cy="510.00" r="1.2" fill="#fff" stroke="#222" stroke-width="0.5" />
<circle cx="254.85" cy="512.50" r="1.2" fill="#fff" stroke="#222" stroke-width="0.5" />
<circle cx="262.05" cy="515.00" r="1.2" fill="#fff" stroke="#222" stroke-width="0.5" />
<circle cx="258.65" cy="518.00" r="1.2" fill="#fff" stroke="#222" stroke-width="0.5" />
<circle cx="258.65" cy="521.50" r="1.2" fill="#fff" stroke="#222" stroke-width="0.5" />
<line x1="258.65" y1="548.50" x2="258.65" y2="550.50" stroke="#2a2a2a" stroke-width="0.6" />
<text x="225.00" y="558.30" font-size="5.6" text-anchor="middle">HFD</text>
<text x="242.00" y="558.30" font-size="5.6" text-anchor="middle">HFD</text>
<text x="262.50" y="558.30" font-size="5.6" text-anchor="middle">HFD</text>
<text x="241.00" y="565.00" font-size="5.6" text-anchor="middle">LRD80%</text>
<text x="263.80" y="565.00" font-size="5.6" text-anchor="middle">FMT<tspan font-size="3.08" dy="1.2">LRD</tspan></text>
<path d="M225.00 470.50V468.00H258.80V495.00" fill="none" stroke="#555" stroke-width="0.5" />
<text x="228.80" y="466.30" font-size="5.95"><tspan font-style="italic">P</tspan>=0.0004</text>
<path d="M225.00 480.00V478.30H241.80V510.00" fill="none" stroke="#555" stroke-width="0.5" />
<text x="219.30" y="476.60" font-size="5.95"><tspan font-style="italic">P</tspan> &lt;0.0001</text>
<text x="293.60" y="447.90" font-size="7.4" font-weight="bold" fill="#000">o</text>
<line x1="307.00" y1="471.30" x2="307.00" y2="555.80" stroke="#2a2a2a" stroke-width="0.6" />
<line x1="304.80" y1="555.80" x2="307.00" y2="555.80" stroke="#2a2a2a" stroke-width="0.6" />
<text x="303.80" y="557.96" font-size="6" text-anchor="end">0.0</text>
<line x1="304.80" y1="527.63" x2="307.00" y2="527.63" stroke="#2a2a2a" stroke-width="0.6" />
<text x="303.80" y="529.79" font-size="6" text-anchor="end">0.6</text>
<line x1="304.80" y1="499.46" x2="307.00" y2="499.46" stroke="#2a2a2a" stroke-width="0.6" />
<text x="303.80" y="501.62" font-size="6" text-anchor="end">1.2</text>
<line x1="304.80" y1="471.29" x2="307.00" y2="471.29" stroke="#2a2a2a" stroke-width="0.6" />
<text x="303.80" y="473.45" font-size="6" text-anchor="end">1.8</text>
<line x1="306.70" y1="555.80" x2="393.00" y2="555.80" stroke="#2a2a2a" stroke-width="0.6" />
<text x="290.20" y="515.00" font-size="6.6" text-anchor="middle" transform="rotate(-90 290.20 515.00)">Weight of tissue (g)</text>
<rect x="311.50" y="507.00" width="8.50" height="48.80" fill="#0000ff" />
<line x1="315.75" y1="504.00" x2="315.75" y2="507.20" stroke="#333" stroke-width="0.5" />
<line x1="314.05" y1="504.00" x2="317.45" y2="504.00" stroke="#333" stroke-width="0.5" />
<circle cx="315.95" cy="501.50" r="1.2" fill="#fff" stroke="#222" stroke-width="0.5" />
<circle cx="313.15" cy="504.00" r="1.2" fill="#fff" stroke="#222" stroke-width="0.5" />
<circle cx="318.15" cy="506.00" r="1.2" fill="#fff" stroke="#222" stroke-width="0.5" />
<circle cx="314.75" cy="507.50" r="1.2" fill="#fff" stroke="#222" stroke-width="0.5" />
<circle cx="317.35" cy="508.00" r="1.2" fill="#fff" stroke="#222" stroke-width="0.5" />
<circle cx="313.55" cy="509.50" r="1.2" fill="#fff" stroke="#222" stroke-width="0.5" />
<circle cx="318.35" cy="510.00" r="1.2" fill="#fff" stroke="#222" stroke-width="0.5" />
<circle cx="315.75" cy="511.00" r="1.2" fill="#fff" stroke="#222" stroke-width="0.5" />
<rect x="323.80" y="512.00" width="8.50" height="43.80" fill="#ff8000" />
<line x1="328.05" y1="509.20" x2="328.05" y2="512.20" stroke="#333" stroke-width="0.5" />
<line x1="326.35" y1="509.20" x2="329.75" y2="509.20" stroke="#333" stroke-width="0.5" />
<circle cx="328.05" cy="508.00" r="1.2" fill="#fff" stroke="#222" stroke-width="0.5" />
<circle cx="330.45" cy="509.50" r="1.2" fill="#fff" stroke="#222" stroke-width="0.5" />
<circle cx="325.65" cy="510.00" r="1.2" fill="#fff" stroke="#222" stroke-width="0.5" />
<circle cx="328.65" cy="511.50" r="1.2" fill="#fff" stroke="#222" stroke-width="0.5" />
<circle cx="326.45" cy="513.00" r="1.2" fill="#fff" stroke="#222" stroke-width="0.5" />
<circle cx="329.85" cy="514.50" r="1.2" fill="#fff" stroke="#222" stroke-width="0.5" />
<circle cx="328.05" cy="516.00" r="1.2" fill="#fff" stroke="#222" stroke-width="0.5" />
<circle cx="330.65" cy="517.50" r="1.2" fill="#fff" stroke="#222" stroke-width="0.5" />
<rect x="335.80" y="511.50" width="8.50" height="44.30" fill="#5a5aff" />
<line x1="340.05" y1="507.50" x2="340.05" y2="511.70" stroke="#333" stroke-width="0.5" />
<line x1="338.35" y1="507.50" x2="341.75" y2="507.50" stroke="#333" stroke-width="0.5" />
<circle cx="340.25" cy="503.80" r="1.2" fill="#fff" stroke="#222" stroke-width="0.5" />
<circle cx="338.05" cy="508.50" r="1.2" fill="#fff" stroke="#222" stroke-width="0.5" />
<circle cx="342.25" cy="510.00" r="1.2" fill="#fff" stroke="#222" stroke-width="0.5" />
<circle cx="340.05" cy="511.00" r="1.2" fill="#fff" stroke="#222" stroke-width="0.5" />
<circle cx="337.45" cy="512.00" r="1.2" fill="#fff" stroke="#222" stroke-width="0.5" />
<circle cx="342.65" cy="513.00" r="1.2" fill="#fff" stroke="#222" stroke-width="0.5" />
<circle cx="340.65" cy="514.00" r="1.2" fill="#fff" stroke="#222" stroke-width="0.5" />
<circle cx="338.85" cy="515.50" r="1.2" fill="#fff" stroke="#222" stroke-width="0.5" />
<line x1="328.00" y1="555.80" x2="328.00" y2="557.80" stroke="#2a2a2a" stroke-width="0.6" />
<text x="328.00" y="566.00" font-size="6.3" text-anchor="middle">Liver</text>
<rect x="355.80" y="500.00" width="8.50" height="55.80" fill="#0000ff" />
<line x1="360.05" y1="494.50" x2="360.05" y2="500.20" stroke="#333" stroke-width="0.5" />
<line x1="358.35" y1="494.50" x2="361.75" y2="494.50" stroke="#333" stroke-width="0.5" />
<circle cx="360.25" cy="488.50" r="1.2" fill="#fff" stroke="#222" stroke-width="0.5" />
<circle cx="357.45" cy="496.00" r="1.2" fill="#fff" stroke="#222" stroke-width="0.5" />
<circle cx="362.45" cy="497.50" r="1.2" fill="#fff" stroke="#222" stroke-width="0.5" />
<circle cx="359.05" cy="499.00" r="1.2" fill="#fff" stroke="#222" stroke-width="0.5" />
<circle cx="361.65" cy="501.50" r="1.2" fill="#fff" stroke="#222" stroke-width="0.5" />
<circle cx="357.85" cy="504.50" r="1.2" fill="#fff" stroke="#222" stroke-width="0.5" />
<circle cx="362.65" cy="507.00" r="1.2" fill="#fff" stroke="#222" stroke-width="0.5" />
<circle cx="360.05" cy="508.50" r="1.2" fill="#fff" stroke="#222" stroke-width="0.5" />
<rect x="368.00" y="510.50" width="8.50" height="45.30" fill="#ff8000" />
<line x1="372.25" y1="503.20" x2="372.25" y2="510.70" stroke="#333" stroke-width="0.5" />
<line x1="370.55" y1="503.20" x2="373.95" y2="503.20" stroke="#333" stroke-width="0.5" />
<circle cx="372.25" cy="498.50" r="1.2" fill="#fff" stroke="#222" stroke-width="0.5" />
<circle cx="374.65" cy="504.50" r="1.2" fill="#fff" stroke="#222" stroke-width="0.5" />
<circle cx="369.85" cy="506.00" r="1.2" fill="#fff" stroke="#222" stroke-width="0.5" />
<circle cx="372.85" cy="512.00" r="1.2" fill="#fff" stroke="#222" stroke-width="0.5" />
<circle cx="370.65" cy="513.50" r="1.2" fill="#fff" stroke="#222" stroke-width="0.5" />
<circle cx="374.05" cy="516.50" r="1.2" fill="#fff" stroke="#222" stroke-width="0.5" />
<circle cx="372.25" cy="520.00" r="1.2" fill="#fff" stroke="#222" stroke-width="0.5" />
<circle cx="374.85" cy="521.50" r="1.2" fill="#fff" stroke="#222" stroke-width="0.5" />
<rect x="380.00" y="510.00" width="8.50" height="45.80" fill="#5a5aff" />
<line x1="384.25" y1="505.50" x2="384.25" y2="510.20" stroke="#333" stroke-width="0.5" />
<line x1="382.55" y1="505.50" x2="385.95" y2="505.50" stroke="#333" stroke-width="0.5" />
<circle cx="384.45" cy="500.00" r="1.2" fill="#fff" stroke="#222" stroke-width="0.5" />
<circle cx="382.25" cy="507.00" r="1.2" fill="#fff" stroke="#222" stroke-width="0.5" />
<circle cx="386.45" cy="509.00" r="1.2" fill="#fff" stroke="#222" stroke-width="0.5" />
<circle cx="384.25" cy="510.50" r="1.2" fill="#fff" stroke="#222" stroke-width="0.5" />
<circle cx="381.65" cy="512.50" r="1.2" fill="#fff" stroke="#222" stroke-width="0.5" />
<circle cx="386.85" cy="514.50" r="1.2" fill="#fff" stroke="#222" stroke-width="0.5" />
<circle cx="384.85" cy="516.00" r="1.2" fill="#fff" stroke="#222" stroke-width="0.5" />
<circle cx="383.05" cy="518.50" r="1.2" fill="#fff" stroke="#222" stroke-width="0.5" />
<line x1="372.00" y1="555.80" x2="372.00" y2="557.80" stroke="#2a2a2a" stroke-width="0.6" />
<text x="372.00" y="566.00" font-size="6.3" text-anchor="middle">eWAT</text>
<circle cx="312.50" cy="463.30" r="1.6" fill="#0000ff" />
<text x="315.80" y="465.40" font-size="5.7">HFD</text>
<circle cx="330.20" cy="463.30" r="1.6" fill="#ff8000" />
<text x="333.60" y="465.40" font-size="5.7">HFD LRD80%</text>
<circle cx="312.50" cy="470.20" r="1.6" fill="#5a5aff" />
<text x="315.80" y="472.30" font-size="5.95">HFD FMT<tspan font-size="3.1" dy="1.1">LRD</tspan></text>
<path d="M315.80 501.00V488.80H340.00V503.50" fill="none" stroke="#555" stroke-width="0.5" />
<text x="315.00" y="487.00" font-size="5.95"><tspan font-style="italic">P</tspan>=0.0414</text>
<path d="M315.80 501.00V497.50H328.00V507.00" fill="none" stroke="#555" stroke-width="0.5" />
<text x="310.00" y="495.80" font-size="5.95"><tspan font-style="italic">P</tspan>=0.0154</text>
<path d="M360.00 483.80V477.00H384.50V496.00" fill="none" stroke="#555" stroke-width="0.5" />
<text x="360.00" y="475.60" font-size="5.95"><tspan font-style="italic">P</tspan>=0.0088</text>
<path d="M360.00 487.00V484.50H372.50V495.00" fill="none" stroke="#555" stroke-width="0.5" />
<text x="353.30" y="482.80" font-size="5.95"><tspan font-style="italic">P</tspan>=0.0114</text>
<text x="410.00" y="446.30" font-size="7.4" font-weight="bold" fill="#000">p</text>
<line x1="411.30" y1="474.50" x2="411.30" y2="564.30" stroke="#333" stroke-width="0.6" />
<text x="408.40" y="518.30" font-size="6.3" text-anchor="middle" transform="rotate(-90 408.40 518.30)">H&amp;E</text>
<text x="417.40" y="495.50" font-size="5.5" text-anchor="middle" transform="rotate(-90 417.40 495.50)">Liver</text>
<text x="417.40" y="541.80" font-size="4.9" text-anchor="middle" transform="rotate(-90 417.40 541.80)">eWAT</text>
<rect x="419.4" y="473.9" width="55.0" height="43.5" fill="#d0509a" filter="url(#liv1)"/>
<path d="M427.7 493.7h0M461.6 504.4h0M459.5 492.8h0M463.2 497.1h0M424.1 493.8h0M422.4 514.1h0M471.1 488.6h0M436.6 507.1h0M430.8 481.9h0M430.0 489.1h0M453.7 515.4h0M431.2 515.1h0M449.9 512.8h0M464.1 481.2h0M455.0 479.6h0M420.1 491.2h0M461.7 498.5h0M430.2 510.2h0M469.3 484.4h0M444.1 501.5h0M468.7 479.7h0M449.8 515.7h0M452.8 504.9h0M461.8 496.0h0M435.5 499.5h0M448.4 489.0h0M466.1 489.8h0M446.0 506.8h0M463.9 512.3h0M455.1 485.1h0M465.7 513.1h0M458.5 507.0h0M447.6 495.4h0M451.4 480.6h0M456.4 511.1h0M428.7 506.5h0M458.1 479.5h0M422.5 499.7h0M431.7 487.5h0M453.5 502.1h0M460.4 498.6h0M437.9 474.8h0M426.0 482.5h0M448.3 505.0h0M431.1 490.9h0M470.6 491.4h0M458.5 500.7h0M455.6 494.7h0M449.3 504.2h0M428.5 508.4h0M467.1 476.3h0M430.5 484.9h0M424.9 480.3h0M454.6 479.6h0M423.4 514.7h0M441.6 497.4h0M445.5 489.0h0M444.4 482.6h0M451.2 485.0h0M427.7 483.2h0M442.2 514.0h0M452.2 516.2h0M441.5 485.4h0M458.3 482.4h0M473.9 491.0h0M434.5 485.9h0M436.3 514.3h0M473.6 498.1h0M432.4 474.7h0M424.1 487.0h0M454.6 501.0h0M466.1 509.4h0M438.9 503.1h0M443.9 505.4h0M429.8 516.0h0M421.0 500.7h0M438.9 508.5h0M427.6 512.3h0M420.0 505.7h0M457.9 496.0h0M429.3 490.6h0M444.0 483.4h0M428.5 510.3h0M449.6 485.9h0M453.7 501.3h0M427.2 499.3h0M451.5 479.0h0M436.1 511.2h0M451.2 483.8h0M441.1 493.9h0M458.2 511.1h0M424.5 476.3h0M443.7 475.2h0M428.2 478.8h0M424.6 501.0h0M425.0 498.5h0M472.2 480.3h0M460.9 499.2h0M429.0 514.9h0M459.7 490.5h0M468.0 478.7h0M465.0 510.3h0M426.1 513.4h0M462.3 513.4h0M435.1 505.8h0M462.1 489.2h0M421.7 474.9h0M447.3 497.7h0M426.6 501.2h0M422.6 494.7h0M447.5 483.0h0M422.4 512.9h0M466.0 499.4h0M421.4 496.7h0M472.0 507.1h0M457.1 476.0h0M451.1 484.2h0M473.3 474.8h0M431.9 511.9h0M426.3 487.1h0M436.4 511.9h0M457.5 514.2h0M430.2 478.1h0M438.4 507.0h0M453.4 514.2h0M458.4 477.8h0M436.9 483.0h0M434.3 502.8h0M443.8 506.6h0M420.7 513.1h0M428.6 506.0h0M465.6 476.1h0M449.2 515.9h0M420.2 495.5h0M442.9 490.6h0M430.3 482.0h0M434.2 483.6h0M435.7 512.8h0M471.2 485.4h0M421.3 485.7h0M466.2 481.8h0M455.7 478.3h0M438.9 481.5h0M453.2 490.1h0M461.7 496.4h0M441.7 475.2h0M465.3 476.0h0M446.8 516.5h0M462.7 489.5h0M470.2 485.3h0M451.3 498.9h0M458.9 486.6h0M441.4 488.2h0M469.6 505.8h0M438.2 507.3h0M453.3 484.8h0M446.9 478.5h0M431.3 477.6h0M424.2 500.6h0M464.8 509.9h0M431.7 514.8h0M438.0 503.8h0M452.1 494.6h0M457.2 512.3h0M457.5 496.0h0M466.5 506.2h0M440.1 516.1h0M441.7 476.0h0M472.0 514.6h0M448.8 506.3h0M457.5 478.5h0M462.9 501.1h0M472.1 494.8h0M434.9 507.2h0M449.8 511.6h0M422.1 503.5h0M469.1 482.1h0M424.7 495.2h0M455.2 501.3h0M448.5 488.8h0M458.3 516.5h0M447.2 491.2h0M472.3 481.9h0M450.3 510.1h0M462.6 506.2h0M456.7 493.5h0M472.1 474.4h0M442.8 493.5h0M458.7 486.6h0M430.5 493.4h0M454.3 496.9h0M467.2 494.5h0M430.9 501.7h0M440.9 475.4h0M441.5 479.0h0M454.5 512.9h0M459.5 515.2h0M427.6 510.0h0M461.2 484.6h0M445.5 481.7h0M436.6 496.7h0M440.9 490.9h0M458.3 503.2h0M426.1 498.7h0M461.9 475.7h0M460.3 475.2h0M443.0 490.6h0M420.9 477.5h0M456.1 485.7h0M447.9 481.3h0M453.2 514.2h0M460.6 490.0h0M471.7 489.3h0M434.9 492.3h0M473.2 490.8h0M435.6 497.5h0M454.3 506.7h0M458.3 503.0h0M442.1 493.0h0M473.0 495.4h0M461.0 489.6h0M420.4 491.0h0M448.1 491.3h0M431.2 481.2h0M422.5 504.5h0M448.4 509.1h0M466.6 506.4h0M462.8 512.9h0M469.3 509.3h0M468.4 489.2h0M473.8 512.4h0M463.9 510.6h0M460.3 498.8h0M447.9 514.1h0M435.3 501.8h0M470.4 485.6h0M428.3 487.6h0M443.8 496.0h0M432.4 484.6h0M427.7 494.4h0M427.5 489.4h0M429.1 501.3h0M453.4 484.1h0M474.0 486.4h0M468.9 487.1h0M450.2 499.5h0M451.1 488.8h0M462.7 500.9h0M450.2 494.9h0M435.2 491.7h0M459.6 504.6h0M473.7 505.4h0M473.6 488.3h0M434.8 516.9h0M442.9 499.1h0M466.9 479.6h0M426.3 494.2h0M430.7 476.9h0M458.4 497.8h0M444.4 501.6h0M436.3 491.2h0M438.0 501.8h0M444.6 499.0h0M449.6 498.6h0M422.3 507.6h0M469.1 477.3h0M460.0 498.7h0M459.9 475.0h0M421.7 497.6h0M449.8 478.8h0M461.9 478.5h0M468.2 508.3h0M459.0 510.9h0M435.6 500.4h0M421.0 506.4h0M429.6 476.4h0M461.0 476.9h0M454.7 515.3h0M449.1 497.7h0M461.0 506.0h0M446.9 476.5h0M473.2 505.4h0M445.7 502.8h0M433.4 484.2h0M421.9 491.3h0M450.5 478.6h0M429.8 490.9h0M419.8 508.9h0M428.6 513.0h0M450.7 487.6h0M423.7 501.2h0M423.0 488.5h0M473.9 509.7h0M458.3 499.2h0M453.3 506.1h0M467.3 478.5h0M468.3 516.0h0M451.4 488.4h0M422.6 489.0h0M421.7 503.2h0M452.0 505.5h0M466.9 487.8h0M460.4 505.9h0M450.1 477.0h0M466.7 497.8h0M445.0 510.7h0M426.1 475.8h0M455.9 504.9h0M448.5 498.1h0M461.6 509.5h0M454.9 505.6h0M447.4 481.4h0M463.2 476.3h0M428.9 498.7h0M439.7 512.2h0M436.1 495.3h0M430.0 510.3h0M439.4 504.9h0M459.7 493.5h0M426.0 515.5h0M421.8 509.6h0M428.3 492.6h0M443.9 492.4h0M451.7 503.2h0M456.5 477.1h0M439.9 482.4h0M472.3 497.4h0M473.4 483.3h0M456.9 496.5h0M437.7 482.4h0M452.6 512.3h0M446.6 496.4h0M471.0 485.4h0M438.9 512.0h0M424.1 475.9h0M455.7 494.9h0M468.9 498.6h0M434.9 502.6h0M443.9 501.1h0M430.5 477.0h0M469.1 510.3h0M428.0 478.9h0M464.7 504.6h0M444.1 510.5h0M464.1 509.5h0M469.3 508.9h0M419.9 501.6h0M424.9 512.5h0M464.4 500.2h0M443.5 503.6h0M435.9 503.7h0M471.9 475.9h0M441.0 508.7h0M429.5 489.3h0M464.1 498.7h0M434.0 491.4h0M439.6 496.1h0M473.6 484.9h0M437.3 512.3h0M446.2 501.9h0M466.8 478.6h0M429.4 480.4h0M429.4 477.0h0M432.6 513.4h0M468.5 503.6h0M447.8 506.2h0M471.6 486.4h0M459.4 479.7h0M440.5 496.8h0M453.8 483.1h0M442.1 481.4h0M439.4 508.6h0M432.8 488.4h0M452.4 482.4h0M467.6 488.2h0M436.1 487.9h0M444.4 493.5h0M441.7 492.0h0M430.3 477.1h0M466.7 510.0h0M460.1 495.0h0M472.0 479.8h0M422.6 513.9h0M449.2 497.4h0M447.8 504.9h0M455.7 506.0h0M447.6 507.9h0M455.8 509.8h0M461.8 479.8h0M443.9 503.0h0M458.5 493.3h0M451.9 512.1h0M431.8 485.8h0M436.3 480.6h0M452.2 499.3h0M473.3 496.9h0M432.7 478.7h0M452.1 480.4h0M427.0 494.1h0M463.8 486.8h0M434.5 476.5h0M472.1 508.5h0M448.3 477.5h0M471.2 500.1h0M458.2 502.8h0M450.0 491.8h0M461.2 478.1h0M434.6 498.3h0M444.7 495.8h0M450.4 478.9h0M429.0 474.5h0M455.9 501.7h0M420.9 482.5h0M437.5 508.2h0M460.2 482.2h0M444.5 499.1h0M462.8 482.2h0M431.0 507.2h0M457.5 487.3h0M433.1 493.4h0" stroke="#4e2a8c" stroke-width="0.9" stroke-linecap="round" stroke-opacity="0.8" fill="none"/>
<path d="M448.0 486.0h0M460.0 508.4h0M454.9 475.2h0M432.8 488.7h0M472.7 502.4h0M448.5 502.9h0M425.5 503.5h0M455.2 483.2h0M439.3 492.0h0M471.6 490.1h0M421.3 509.1h0M466.6 488.8h0M459.1 516.1h0M441.1 502.6h0M449.5 497.7h0M449.0 510.4h0M469.7 514.0h0M426.8 510.8h0M426.1 480.9h0M427.9 478.0h0M443.6 478.7h0M443.5 512.3h0M442.1 477.7h0M460.8 496.6h0M429.8 488.8h0M433.7 498.3h0M469.8 482.2h0M443.5 485.8h0M454.0 512.2h0M431.6 480.2h0M438.4 497.6h0M444.2 500.5h0M432.2 496.7h0M427.6 499.3h0M436.2 508.9h0M447.0 476.6h0M453.4 488.0h0M444.9 478.2h0M455.9 485.9h0M422.6 493.7h0M428.9 494.5h0M429.5 483.7h0M427.1 482.0h0M466.5 481.1h0M439.5 498.9h0M429.0 481.6h0M434.7 512.0h0M467.2 501.9h0M423.5 483.2h0M459.0 486.4h0M426.0 487.9h0M469.3 482.1h0M464.2 476.2h0M454.5 506.5h0M421.2 493.4h0M469.6 513.8h0M451.4 483.0h0M440.5 486.0h0M454.1 483.4h0M460.1 502.9h0M443.9 490.2h0M465.1 483.2h0M449.3 476.7h0M422.1 494.7h0M432.3 485.9h0M435.0 479.9h0M444.0 486.9h0M468.8 510.3h0M445.4 480.4h0M471.3 488.6h0M420.4 505.0h0M429.8 514.3h0M439.8 474.9h0M459.9 489.4h0M427.1 477.3h0M449.9 478.1h0M430.4 486.7h0M447.0 492.1h0M457.3 511.4h0M468.2 487.3h0M460.3 511.1h0M444.5 499.0h0M456.9 495.3h0M449.1 516.2h0M440.8 476.2h0M438.4 481.0h0M456.9 494.1h0M448.8 507.3h0M460.6 482.3h0M467.8 516.5h0M430.4 479.3h0M431.1 501.2h0M440.6 514.3h0M446.6 486.5h0M429.4 498.1h0M426.0 498.1h0M434.5 504.2h0M446.5 493.0h0M458.2 476.5h0M443.2 489.8h0M467.2 495.9h0M439.3 499.7h0M432.1 505.9h0M471.0 497.7h0M468.6 479.8h0M465.1 509.8h0M438.9 513.7h0M451.1 506.0h0M465.7 483.3h0M432.7 510.2h0M445.7 482.7h0M465.1 490.4h0M434.0 501.6h0M429.4 499.7h0M449.3 497.5h0M447.3 497.8h0M437.0 482.3h0M436.2 482.0h0M427.4 493.3h0M421.2 497.3h0M473.0 510.7h0M444.8 505.3h0M462.6 516.5h0M452.7 515.0h0M427.0 497.7h0M422.5 505.4h0M453.7 506.2h0M432.6 480.2h0M473.8 509.1h0M448.0 492.0h0M460.1 490.4h0M447.0 474.8h0M438.7 508.0h0M429.0 498.3h0M443.7 485.5h0M443.1 494.8h0M420.1 506.3h0M430.3 484.8h0M451.0 490.3h0M473.0 498.1h0M467.6 509.3h0M465.6 479.1h0M458.7 486.7h0M457.7 500.8h0M431.2 494.6h0M433.6 512.4h0M450.0 478.4h0M462.9 496.0h0M452.7 490.2h0M443.1 482.6h0M452.3 488.5h0M425.0 482.2h0M426.7 501.8h0M441.8 478.9h0M437.3 505.5h0M440.8 478.3h0M458.5 494.3h0M467.2 478.1h0M461.4 511.6h0M449.3 475.6h0M442.6 484.3h0M425.5 481.2h0M431.0 490.2h0M432.0 506.3h0M464.2 496.5h0M439.4 503.7h0M429.5 483.1h0M457.1 508.0h0M450.1 507.4h0M471.2 486.9h0M432.7 486.5h0M421.2 482.7h0M426.2 485.0h0M441.4 498.4h0M453.6 489.2h0M452.8 489.9h0M467.6 511.2h0M425.3 511.0h0M422.6 482.4h0M449.2 480.4h0M458.8 512.5h0M440.6 502.7h0M426.9 479.7h0M459.1 480.6h0M437.2 510.8h0M420.2 492.1h0M444.4 505.9h0M426.7 476.3h0M434.3 510.2h0M456.5 485.5h0M459.2 490.3h0M420.2 483.9h0M458.6 476.6h0M429.8 509.4h0M457.6 483.5h0M423.7 510.4h0M463.5 487.8h0M449.3 486.4h0M460.7 509.0h0M440.8 486.3h0M422.8 509.5h0M468.9 512.1h0M453.5 507.1h0M457.6 481.0h0M427.3 498.3h0M465.5 475.6h0M437.1 477.3h0M442.3 480.8h0M443.2 485.1h0M436.7 499.8h0" stroke="#6a2a90" stroke-width="1.3" stroke-linecap="round" stroke-opacity="0.55" fill="none"/>
<path d="M422.3 483.0h0M458.2 480.4h0M466.4 485.7h0M420.4 493.1h0M428.9 475.0h0M434.9 493.9h0M430.3 510.7h0M436.1 504.2h0M438.8 478.6h0M443.4 503.6h0M446.2 501.7h0M426.4 480.3h0M426.9 495.3h0M466.5 490.7h0M464.3 479.0h0M432.0 503.0h0M462.4 508.2h0M427.7 497.4h0M432.7 506.3h0M451.2 503.7h0M462.3 516.4h0M445.1 516.8h0M435.5 511.9h0M425.5 504.9h0M468.4 498.0h0M439.4 509.6h0M463.9 504.8h0M438.5 496.3h0M419.9 496.9h0M436.5 503.1h0M420.9 493.4h0M426.2 489.1h0M472.8 506.7h0M454.8 489.8h0M425.2 475.6h0M449.4 516.3h0M459.7 483.4h0M472.5 483.9h0M422.3 496.0h0M444.1 477.2h0M469.7 486.7h0M441.1 476.0h0M420.5 514.8h0M472.1 500.9h0M422.5 480.4h0M427.2 474.8h0M463.0 493.7h0M421.4 485.6h0M444.7 496.4h0M447.9 480.0h0M463.1 478.5h0M443.8 505.4h0M425.6 475.2h0M473.4 503.9h0M430.2 502.5h0M425.3 509.6h0M421.9 479.0h0M431.9 501.0h0M466.9 484.7h0M461.8 491.9h0" stroke="#fff" stroke-width="0.8" stroke-linecap="round" stroke-opacity="0.8" fill="none"/>
<path d="M452.2 489.0h0M419.9 489.1h0M464.4 492.4h0M451.2 481.2h0M443.0 490.0h0M427.3 484.8h0M424.9 511.4h0M447.1 496.3h0M461.6 503.8h0M435.9 512.1h0M450.0 515.2h0M434.7 489.3h0M423.4 508.6h0M453.6 508.8h0M440.2 513.5h0M460.5 509.1h0M421.7 509.4h0M471.5 505.5h0M443.9 500.7h0M434.5 482.7h0M468.2 501.7h0M467.3 484.5h0M442.0 509.4h0M427.4 496.5h0M444.4 484.5h0M460.6 502.4h0M441.6 506.9h0M472.8 478.1h0M473.8 485.7h0M443.2 483.2h0M422.6 498.4h0M426.2 499.8h0M470.5 509.1h0M429.4 482.6h0M466.4 496.4h0M473.7 489.8h0M451.0 491.4h0M424.6 495.4h0M447.6 490.5h0M473.6 504.5h0M429.9 474.5h0M424.7 480.8h0M426.4 476.8h0M462.1 487.5h0M439.4 491.2h0M444.0 488.9h0" stroke="#fff" stroke-width="1.9" stroke-linecap="round" stroke-opacity="0.95" fill="none"/>
<rect x="419.40" y="520.50" width="55.00" height="43.50" fill="#d9dad2" />
<g clip-path="url(#clip_ew0)">
<path d="M414.7 563.9L418.7 560.7M414.7 563.9L421.3 579.9M421.3 579.9L428.1 563.3M428.1 563.3L427.8 562.8M427.8 562.8L418.7 560.7M420.8 541.8L417.8 532.7M420.8 541.8L402.0 545.8M417.8 532.7L376.8 543.7M402.0 545.8L376.8 543.7M419.2 553.7L418.7 560.7M419.2 553.7L402.0 545.8M420.6 552.3L431.7 552.6M420.6 552.3L421.3 542.0M431.7 552.6L423.5 541.8M421.3 542.0L423.5 541.8M419.2 553.7L420.6 552.3M420.8 541.8L421.3 542.0M540.4 563.0L476.2 565.5M476.2 565.5L468.7 619.7M428.1 563.3L437.7 568.9M437.7 568.9L441.9 611.2M420.5 519.2L418.6 524.2M417.8 532.7L420.1 527.8M418.6 524.2L420.1 527.8M423.5 541.8L430.2 537.6M430.2 537.6L430.2 537.6M430.2 537.6L424.8 529.3M420.1 527.8L424.8 529.3M471.5 518.4L480.2 521.5M468.7 561.3L472.3 561.5M468.7 561.3L466.8 557.6M466.8 557.6L476.9 549.1M472.3 561.5L482.2 553.3M482.2 553.3L476.9 549.1M540.4 563.0L482.2 553.3M476.2 565.5L472.3 561.5M464.8 568.0L464.0 576.3M464.8 568.0L457.5 562.8M464.0 576.3L451.6 564.6M457.5 562.8L451.6 564.6M468.7 619.7L464.0 576.3M468.7 561.3L464.8 568.0M450.9 564.5L451.6 564.6M450.9 564.5L441.9 611.2M435.4 523.2L424.8 529.3M435.4 523.2L432.3 519.0M420.5 519.2L427.8 517.2M432.3 519.0L427.8 517.2M472.1 530.7L474.2 529.1M472.1 530.7L477.2 539.1M474.2 529.1L487.8 535.7M477.2 539.1L487.8 535.7M480.2 521.5L474.2 529.1M473.7 544.3L476.9 549.1M473.7 544.3L477.2 539.1M430.2 537.6L437.0 526.6M435.4 523.2L437.1 524.0M437.1 524.0L437.0 526.6M433.8 540.0L430.2 537.6M433.8 540.0L441.5 534.8M437.0 526.6L441.5 534.8M473.7 544.3L467.6 544.1M466.8 557.6L461.5 552.3M467.6 544.1L461.5 552.3M457.5 562.8L460.1 552.4M461.5 552.3L460.1 552.4M471.5 518.4L468.1 519.3M472.1 530.7L470.1 530.5M468.1 519.3L465.6 523.3M470.1 530.5L465.6 523.3M446.7 560.1L446.7 559.8M446.7 560.1L440.4 564.8M446.7 559.8L436.7 549.8M440.4 564.8L432.1 553.7M436.7 549.8L432.2 552.8M432.1 553.7L432.2 552.8M450.9 564.5L446.7 560.1M453.2 551.9L446.7 559.8M453.2 551.9L455.2 551.0M455.2 551.0L460.1 552.4M437.7 568.9L440.4 564.8M453.2 551.9L442.0 545.9M437.6 547.6L436.7 549.8M437.6 547.6L442.0 545.9M427.8 562.8L432.1 553.7M431.7 552.6L432.2 552.8M433.8 540.0L437.6 547.6M446.1 520.4L456.5 520.7M446.1 520.4L446.6 491.0M456.5 520.7L460.3 508.6M460.3 508.6L451.6 461.4M451.6 461.4L446.6 491.0M432.3 519.0L446.6 491.0M445.4 521.3L437.1 524.0M445.4 521.3L446.1 520.4M468.1 519.3L460.3 508.6M465.6 523.3L460.0 524.3M460.0 524.3L456.5 520.7M442.0 545.9L446.8 539.3M455.2 551.0L453.1 539.0M453.1 539.0L446.8 539.3M445.4 521.3L448.2 527.4M441.5 534.8L443.4 535.4M448.2 527.4L443.4 535.4M446.8 539.3L443.4 535.4M464.9 539.5L455.5 536.2M464.9 539.5L468.2 532.5M468.2 532.5L457.9 530.1M455.5 536.2L455.5 533.2M457.9 530.1L455.5 533.2M467.6 544.1L464.9 539.5M453.1 539.0L455.5 536.2M470.1 530.5L468.2 532.5M460.0 524.3L457.9 530.1M448.2 527.4L455.5 533.2" fill="none" stroke="#e58fb0" stroke-width="0.36" stroke-opacity="0.42"/>
<circle cx="456.54" cy="520.73" r="0.7032140553453372" fill="#d03878" fill-opacity="0.85"/>
<circle cx="461.46" cy="552.26" r="0.7217855946423398" fill="#a0408c" fill-opacity="0.85"/>
<circle cx="424.81" cy="529.31" r="0.790420459123321" fill="#a0408c" fill-opacity="0.85"/>
<circle cx="432.23" cy="552.82" r="0.7744076636220762" fill="#d03878" fill-opacity="0.85"/>
</g>
<rect x="476.3" y="473.9" width="54.4" height="43.5" fill="#d0509a" filter="url(#liv2)"/>
<path d="M507.8 482.6h0M528.4 513.8h0M501.7 502.6h0M488.2 483.8h0M492.2 503.9h0M488.1 515.8h0M480.5 482.6h0M481.5 507.2h0M496.3 494.4h0M494.2 501.5h0M498.3 483.2h0M499.8 487.3h0M482.6 509.5h0M513.2 502.7h0M524.0 491.2h0M497.0 492.4h0M498.4 502.9h0M477.0 494.1h0M505.4 489.1h0M477.9 504.4h0M477.2 498.4h0M484.9 475.8h0M486.4 477.1h0M484.8 503.5h0M515.7 489.8h0M511.7 494.6h0M503.4 511.7h0M493.4 511.4h0M513.7 503.5h0M477.0 477.9h0M478.4 489.1h0M527.4 511.7h0M521.6 479.4h0M514.5 507.4h0M520.1 508.1h0M484.2 481.9h0M519.2 505.8h0M524.5 493.4h0M524.4 480.3h0M528.0 512.1h0M494.8 477.2h0M506.1 503.7h0M495.5 476.8h0M491.6 509.5h0M481.6 514.3h0M490.1 483.0h0M482.7 516.2h0M525.0 487.9h0M481.8 502.2h0M524.3 474.8h0M510.6 510.9h0M501.3 498.6h0M519.8 484.5h0M491.3 502.5h0M506.3 497.2h0M494.6 514.3h0M492.1 503.3h0M524.6 491.4h0M479.6 483.7h0M480.3 480.6h0M483.2 488.9h0M496.5 493.4h0M512.3 503.2h0M513.5 489.9h0M512.2 497.8h0M483.5 497.6h0M493.8 503.2h0M516.1 484.6h0M500.0 493.7h0M492.6 476.0h0M479.4 516.7h0M516.4 493.0h0M512.4 485.8h0M514.8 514.9h0M518.1 494.2h0M529.4 513.7h0M479.8 491.9h0M500.9 486.0h0M509.7 480.4h0M516.7 510.9h0M480.0 503.9h0M491.0 501.6h0M513.7 516.0h0M519.5 488.8h0M515.8 480.6h0M515.0 492.1h0M490.9 484.5h0M488.3 508.3h0M481.9 484.2h0M487.0 481.0h0M515.8 499.4h0M512.3 512.7h0M500.8 475.9h0M486.8 496.4h0M515.0 513.5h0M504.1 484.0h0M508.5 514.2h0M494.5 514.1h0M525.1 498.9h0M502.5 479.8h0M482.6 476.0h0M509.5 504.7h0M529.9 500.0h0M530.0 491.5h0M483.9 476.8h0M492.1 497.0h0M529.6 487.0h0M489.3 505.2h0M497.5 498.1h0M484.8 510.7h0M526.0 506.5h0M526.9 488.5h0M478.4 487.3h0M524.8 494.3h0M487.4 480.8h0M485.5 493.0h0M526.3 512.0h0M517.3 506.6h0M486.9 507.5h0M488.7 496.7h0M478.5 512.4h0M483.6 499.6h0M512.2 501.8h0M513.3 490.1h0M519.2 514.4h0M509.8 516.1h0M522.3 476.7h0M512.7 478.2h0M512.1 490.2h0M522.5 476.2h0M527.4 476.2h0M479.7 474.4h0M483.4 516.4h0M521.5 513.4h0M486.7 503.7h0M519.3 505.3h0M491.2 515.8h0M515.7 503.5h0M492.0 491.3h0M517.3 496.3h0M502.9 513.6h0M499.2 511.0h0M479.2 497.0h0M514.9 474.8h0M514.0 486.5h0M510.2 500.9h0M484.0 514.6h0M489.7 480.1h0M500.4 477.0h0M482.1 506.8h0M481.9 497.4h0M524.2 493.7h0M520.4 509.8h0M485.5 477.6h0M518.7 511.3h0M522.4 504.8h0M504.0 515.2h0M516.4 506.9h0M525.6 476.6h0M516.4 499.2h0M477.4 485.2h0M515.1 496.9h0M506.8 486.6h0M507.1 511.8h0M529.2 497.9h0M515.9 478.0h0M484.2 498.2h0M521.0 479.4h0M484.6 495.6h0M493.0 480.3h0M485.2 492.4h0M519.2 481.6h0M519.9 477.5h0M490.1 502.9h0M477.1 488.1h0M485.0 484.1h0M524.2 481.1h0M515.3 513.2h0M489.9 511.1h0M493.9 507.3h0M507.8 489.3h0M524.2 504.0h0M493.8 498.8h0M492.5 486.5h0M527.0 516.0h0M485.2 513.4h0M515.0 474.8h0M482.5 492.9h0M524.3 511.6h0M490.1 493.3h0M526.3 483.3h0M482.3 492.0h0M513.2 511.6h0M523.7 474.8h0M486.1 479.8h0M508.6 491.6h0M526.1 500.6h0M509.7 503.6h0M487.7 512.5h0M522.9 509.4h0M518.6 481.7h0M479.6 489.9h0M515.1 482.9h0M523.3 510.9h0M514.0 495.0h0M484.8 508.9h0M486.0 495.5h0M517.4 501.4h0M489.3 511.8h0M493.9 492.2h0M500.2 504.2h0M478.8 501.6h0M502.8 508.5h0M496.3 498.7h0M528.6 476.8h0M519.2 494.3h0M492.8 486.0h0M488.4 510.3h0M487.6 515.4h0M504.4 486.5h0M518.7 499.1h0M524.1 480.5h0M513.8 475.5h0M486.5 492.0h0M493.5 486.4h0M507.2 506.2h0M499.0 496.0h0M518.6 484.0h0M530.2 475.3h0M496.6 509.5h0M489.3 488.4h0M485.9 515.9h0M523.7 477.8h0M505.6 480.8h0M477.7 483.7h0M514.4 496.9h0M492.1 499.1h0M481.1 488.9h0M482.0 509.5h0M497.2 504.9h0M494.7 492.0h0M507.5 485.4h0M506.0 507.3h0M480.7 482.8h0M477.8 495.2h0M482.6 496.5h0M485.3 496.8h0M491.8 506.3h0M520.4 515.3h0M501.5 512.3h0M522.9 488.6h0M529.2 515.2h0M485.1 506.4h0M513.5 500.6h0M514.8 486.2h0M521.4 505.1h0M486.5 515.5h0M516.0 476.7h0M478.4 481.5h0M512.2 505.1h0M526.6 512.0h0M487.7 482.6h0M481.2 491.0h0M499.4 490.5h0M520.7 500.5h0M519.8 511.1h0M517.7 496.2h0M498.6 497.2h0M501.4 502.9h0M522.4 503.2h0M490.3 498.4h0M501.1 479.6h0M482.4 493.6h0M527.1 504.3h0M479.7 513.4h0M515.5 500.1h0M477.0 487.5h0M494.6 494.9h0M483.3 501.2h0M509.5 501.7h0M503.2 498.1h0M482.8 509.6h0M523.2 510.7h0M517.8 484.6h0M492.5 476.5h0M518.8 511.0h0M526.9 499.9h0M519.5 510.4h0M483.2 477.2h0M523.7 515.7h0M515.1 500.8h0M497.9 511.0h0M492.0 476.6h0M519.8 476.9h0M515.1 502.1h0M482.6 492.9h0M491.3 508.8h0M518.4 488.4h0M485.0 488.9h0M500.3 500.2h0" stroke="#4e2a8c" stroke-width="0.9" stroke-linecap="round" stroke-opacity="0.8" fill="none"/>
<path d="M493.6 507.2h0M481.4 486.5h0M497.6 512.5h0M495.4 499.7h0M482.1 481.6h0M514.2 497.9h0M515.3 493.2h0M502.9 482.9h0M488.7 476.5h0M485.7 493.5h0M508.4 505.8h0M511.2 509.1h0M516.2 474.7h0M524.3 495.5h0M500.1 478.0h0M484.9 477.1h0M481.6 507.9h0M496.7 507.6h0M529.5 500.9h0M487.7 481.1h0M528.4 495.3h0M494.7 515.1h0M485.8 511.8h0M477.2 493.0h0M494.7 515.9h0M501.1 498.5h0M520.0 501.1h0M521.3 509.2h0M480.3 480.2h0M498.5 491.1h0M520.5 480.4h0M529.6 509.0h0M511.6 485.4h0M518.6 504.5h0M523.0 487.2h0M519.0 483.0h0M501.0 480.2h0M490.8 514.7h0M530.2 480.9h0M511.4 474.5h0M496.0 493.0h0M489.1 476.2h0M512.6 512.7h0M487.5 490.2h0M516.6 504.9h0M514.3 487.9h0M527.5 508.2h0M519.9 501.1h0M485.9 514.7h0M508.5 495.6h0M513.1 507.3h0M485.2 482.0h0M495.6 480.1h0M514.4 480.6h0M509.9 500.7h0M516.8 508.1h0M504.9 482.2h0M524.9 501.1h0M503.6 511.4h0M520.4 499.5h0M497.7 483.1h0M479.7 476.2h0M478.0 503.2h0M483.7 504.0h0M491.6 482.7h0M528.1 490.0h0M482.1 502.0h0M511.9 514.8h0M519.2 490.8h0M508.1 481.7h0M494.8 494.3h0M489.4 509.9h0M518.8 490.7h0M520.3 492.0h0M486.6 485.1h0M483.1 504.6h0M493.2 476.9h0M480.2 494.4h0M523.5 484.4h0M520.4 508.3h0M481.0 486.8h0M525.5 506.6h0M510.8 475.1h0M489.9 504.9h0M484.3 483.1h0M480.8 496.2h0M487.4 509.0h0M481.1 504.1h0M526.8 484.9h0M497.4 507.5h0M487.7 496.1h0M485.3 490.7h0M503.7 476.1h0M524.4 492.8h0M481.1 478.4h0M490.9 477.0h0M514.5 483.2h0M504.0 495.6h0M490.2 501.5h0M496.1 503.9h0M506.3 502.0h0M528.0 506.7h0M520.2 508.8h0M518.3 492.8h0M495.3 517.0h0M493.6 493.3h0M492.7 477.4h0M506.3 486.5h0M485.9 512.8h0M492.4 495.3h0M529.6 515.0h0M525.5 504.2h0M495.1 490.1h0M519.7 492.4h0M520.6 485.6h0M512.3 514.0h0M501.2 475.2h0M493.3 483.1h0M513.9 489.7h0M498.4 489.9h0M519.3 495.7h0M477.6 481.0h0M486.2 502.0h0M489.1 489.8h0M524.2 500.6h0M520.7 493.5h0M502.8 478.5h0M484.0 495.8h0M515.7 475.5h0M485.9 500.6h0M489.8 488.4h0M509.4 503.9h0M479.7 477.7h0M501.4 483.5h0M484.3 488.2h0M502.6 501.9h0M528.7 516.2h0M520.5 489.0h0M482.7 484.9h0M487.5 508.8h0M518.7 498.9h0M480.1 484.9h0M510.6 489.3h0M496.1 504.7h0M476.8 487.1h0M505.5 497.7h0M505.3 478.1h0M481.8 483.5h0M478.9 513.5h0M523.2 477.0h0" stroke="#6a2a90" stroke-width="1.3" stroke-linecap="round" stroke-opacity="0.55" fill="none"/>
<path d="M480.3 488.2h0M476.9 486.4h0M517.0 503.9h0M501.9 506.5h0M500.9 511.2h0M509.4 480.3h0M507.1 494.7h0M505.4 483.5h0M514.0 482.4h0M492.8 484.5h0M491.0 482.0h0M517.1 502.7h0M478.3 498.9h0M480.9 501.8h0M498.5 497.3h0M517.5 507.6h0M513.3 486.8h0M481.8 499.2h0M505.4 512.4h0M524.0 482.3h0M498.7 504.6h0M499.1 515.6h0M477.4 492.0h0M521.9 514.8h0M503.8 485.0h0M508.4 487.9h0M514.0 488.9h0M487.0 499.4h0M518.0 495.2h0M508.5 498.7h0M504.8 474.6h0M496.7 511.6h0M504.1 507.8h0M527.9 475.9h0M515.7 495.2h0M476.8 483.6h0M503.1 494.0h0M523.4 489.5h0M518.9 491.9h0M527.3 516.0h0M485.4 509.2h0M482.8 488.6h0M524.2 492.8h0M477.8 474.5h0M529.6 511.0h0M528.4 488.8h0M493.1 503.6h0M479.3 499.9h0M484.9 482.3h0M517.2 484.5h0M529.7 502.9h0M508.9 501.7h0M489.5 515.2h0M478.9 513.1h0M505.3 500.0h0M505.9 490.9h0M485.6 489.3h0M511.0 487.6h0M519.4 503.9h0M478.3 478.3h0M522.1 497.1h0M483.8 496.9h0M506.2 504.5h0M502.3 514.0h0M477.5 512.2h0M514.6 490.4h0M482.2 480.5h0M514.4 502.7h0M505.1 477.8h0M482.1 495.1h0M482.5 486.9h0M478.1 484.0h0M506.3 508.6h0M477.4 487.1h0M494.5 483.7h0M498.6 474.3h0M486.8 485.6h0M522.6 487.0h0M513.7 506.9h0M513.9 492.8h0M493.6 496.7h0M496.0 487.4h0M496.7 476.7h0M509.1 491.3h0M479.9 488.8h0M480.1 495.7h0M506.2 515.8h0M484.8 498.7h0M519.1 484.7h0M501.0 499.2h0M482.7 493.4h0M525.1 513.2h0M525.4 474.9h0M512.6 505.8h0M493.6 484.5h0M513.0 489.2h0M525.7 487.9h0M523.1 504.2h0M497.3 504.8h0M525.0 505.1h0M491.8 479.3h0M508.5 506.8h0M509.5 484.3h0M511.8 504.5h0M497.7 504.0h0M512.8 515.3h0M477.7 515.0h0M515.6 480.1h0M485.5 490.2h0M509.6 499.2h0M499.0 510.9h0M504.8 499.8h0M514.3 510.1h0M485.2 477.8h0M501.9 509.8h0M524.5 497.3h0M484.7 501.6h0M522.2 506.4h0M486.1 476.3h0M501.5 484.4h0M493.9 506.3h0M517.9 498.7h0M525.8 504.6h0M485.2 491.4h0M492.8 516.4h0M499.5 485.9h0M522.4 515.1h0M496.2 486.7h0M493.9 476.2h0M511.3 475.3h0M530.0 509.2h0M497.4 499.3h0M521.4 479.3h0M513.1 510.8h0M504.3 511.7h0M490.0 474.4h0M489.1 516.8h0M494.9 488.2h0M480.4 491.0h0M489.9 495.5h0M478.4 479.0h0M477.7 514.1h0M518.2 483.4h0M492.6 484.2h0M503.3 496.1h0M515.5 500.7h0M478.9 499.4h0M478.4 492.6h0M479.7 489.8h0M484.8 504.2h0M498.5 507.2h0M480.9 484.9h0M503.2 494.5h0M482.6 501.1h0M506.4 510.3h0M528.9 507.1h0M491.3 501.8h0M501.9 475.7h0M509.2 485.6h0M489.0 501.3h0M488.8 514.1h0M525.1 481.9h0M529.1 482.0h0M510.5 512.5h0M494.4 507.9h0M502.8 483.5h0M520.2 495.7h0M518.2 512.8h0M498.9 516.6h0M516.5 504.8h0M506.5 507.8h0M483.4 480.3h0M520.2 512.3h0M513.3 511.4h0M525.5 513.1h0M525.5 491.3h0M479.1 490.1h0M522.3 501.9h0M484.3 484.5h0M498.2 476.3h0M514.7 495.5h0M527.0 506.7h0M500.2 481.7h0M508.0 516.8h0M517.5 482.0h0M483.8 480.9h0M504.4 477.4h0M525.4 495.5h0M505.5 502.3h0M498.8 499.8h0M479.4 514.4h0M529.7 514.8h0M501.2 477.6h0M482.5 497.9h0M498.8 497.0h0M519.5 514.6h0M513.0 506.5h0M508.9 497.9h0M496.4 487.0h0M528.5 506.8h0M512.0 476.3h0M519.5 488.1h0M496.0 491.9h0M517.3 483.2h0M506.7 477.5h0M516.8 483.8h0M519.3 485.6h0M503.8 474.5h0M490.3 476.3h0M487.5 492.0h0M478.0 493.9h0M483.2 489.0h0M479.5 493.5h0M497.6 492.4h0M507.5 479.4h0M525.1 483.5h0M477.2 505.3h0M520.9 492.9h0M529.5 499.1h0M489.5 476.1h0M515.1 504.6h0M526.2 485.7h0M530.3 511.6h0M502.6 489.4h0M487.2 501.5h0M504.1 510.4h0M486.2 497.7h0M504.9 476.5h0M478.0 503.2h0M524.7 495.0h0M483.3 515.0h0M495.0 489.0h0M490.7 487.4h0M511.8 494.7h0M512.0 501.5h0M513.9 486.5h0M520.8 475.2h0M493.9 498.2h0M525.8 508.6h0M528.9 475.5h0M495.6 507.8h0M506.7 500.5h0M530.0 507.2h0M487.3 476.8h0M505.4 510.2h0M494.7 511.2h0M487.7 476.4h0M490.0 477.6h0M514.2 503.9h0M500.2 510.8h0M514.5 475.2h0M498.5 481.7h0M489.8 485.3h0M492.3 504.0h0M529.9 485.4h0M506.5 497.7h0M502.2 494.2h0M496.3 497.8h0M521.5 479.8h0M477.6 485.5h0M511.9 478.9h0M505.1 492.2h0M484.9 505.0h0M519.3 513.6h0M506.2 501.6h0M504.7 516.5h0M494.6 488.6h0M505.5 498.7h0M479.6 486.8h0M515.2 508.8h0M499.4 482.5h0M498.3 511.5h0M511.1 488.5h0M494.2 498.1h0M500.5 475.7h0M524.7 478.0h0M515.4 487.9h0M495.2 489.8h0M478.2 480.0h0M495.3 480.4h0M481.3 474.9h0M493.4 504.7h0M479.3 508.6h0M518.0 481.2h0M505.0 484.0h0M528.4 474.5h0M502.0 479.6h0M519.3 482.7h0M479.6 479.8h0M528.9 474.4h0M511.5 500.1h0M492.2 513.5h0M507.8 497.9h0M478.4 496.3h0M487.1 493.9h0M480.2 516.1h0M519.6 487.3h0M496.9 483.3h0M483.2 492.6h0M497.0 484.2h0M518.9 506.2h0M528.3 504.2h0M509.6 485.8h0M518.7 497.2h0M511.3 512.5h0M496.9 499.2h0M493.3 489.6h0M515.4 485.8h0M511.2 511.1h0M490.9 509.2h0M514.0 512.0h0M507.7 516.7h0M516.9 512.7h0M526.6 477.9h0M487.1 515.1h0M513.8 512.5h0M488.4 507.8h0M481.9 512.9h0M479.7 504.0h0M479.3 507.5h0M511.6 478.0h0M479.0 493.7h0M511.1 491.6h0M525.0 507.7h0M496.7 503.6h0M512.7 487.6h0M530.3 506.3h0M482.1 511.0h0M490.5 515.7h0M480.0 493.0h0M482.4 477.9h0M490.8 496.8h0M493.6 511.0h0M504.8 492.2h0M481.6 479.3h0M504.3 492.1h0M478.7 513.0h0M512.1 478.1h0M517.4 495.7h0M504.3 488.8h0M480.7 508.5h0M510.3 480.3h0M521.1 503.2h0M511.0 487.9h0M497.5 514.5h0M486.3 516.6h0M504.8 488.9h0M510.1 504.0h0M507.0 511.0h0M521.9 487.2h0M488.9 494.9h0M479.2 497.4h0M484.9 506.0h0M515.0 493.1h0M501.7 515.3h0M512.8 501.0h0M501.0 512.6h0M479.8 496.5h0M514.7 506.8h0M508.0 509.6h0M486.9 498.5h0M517.8 480.3h0M524.1 476.9h0M489.4 501.9h0M519.9 485.5h0M505.2 494.8h0M490.3 507.9h0M527.6 488.4h0M530.2 494.3h0M501.3 494.5h0M518.0 492.2h0M515.8 490.0h0M494.7 512.0h0M476.8 506.3h0M498.7 514.0h0M480.6 506.4h0M500.1 484.0h0M487.1 515.3h0M527.2 477.3h0M491.1 479.3h0M500.7 502.9h0M506.3 491.9h0M488.0 513.3h0M489.9 514.2h0M491.4 513.3h0M519.8 474.9h0M482.1 498.9h0M497.7 478.6h0M496.2 479.5h0M507.4 516.0h0M500.7 475.3h0M497.1 506.6h0M489.9 495.5h0M526.8 484.0h0M500.7 502.5h0M486.7 506.1h0M502.4 484.9h0M509.3 504.7h0M509.0 502.6h0M515.3 499.2h0M496.5 497.7h0M485.5 492.6h0M499.8 502.1h0M524.9 498.0h0M476.7 517.0h0M500.1 505.3h0M501.2 485.2h0M518.5 499.9h0M480.3 509.4h0M515.8 487.4h0M503.1 486.6h0M479.5 492.1h0M502.2 483.5h0M485.6 483.2h0M503.2 474.3h0M488.1 510.0h0M491.3 506.7h0M524.5 495.1h0M492.9 500.0h0M489.3 477.8h0M490.9 507.9h0M500.8 478.5h0M485.3 513.4h0M482.4 496.6h0M521.6 494.1h0M526.0 505.0h0M515.5 512.1h0M482.3 477.2h0M482.4 510.1h0M520.2 486.1h0M508.5 479.7h0M529.0 474.5h0M504.5 515.6h0M528.2 481.4h0M488.9 487.6h0M500.0 479.6h0M514.2 491.6h0M508.7 476.9h0M490.4 483.4h0M490.2 477.4h0M508.9 511.4h0M491.4 477.3h0M491.0 504.3h0M480.7 511.4h0M500.0 502.8h0M503.4 515.5h0M498.8 501.9h0M525.8 503.6h0M502.9 489.4h0M520.6 506.4h0M522.7 502.4h0M506.7 479.3h0M515.2 492.6h0M483.3 508.0h0M486.0 475.1h0M522.2 485.0h0M500.5 495.9h0M515.0 500.8h0M503.8 499.4h0M521.1 476.9h0M482.9 506.4h0M528.9 483.0h0M485.3 490.5h0M519.8 497.1h0M518.8 515.5h0M507.0 488.0h0M516.0 498.5h0M503.7 512.2h0M490.9 494.9h0M478.9 502.3h0M506.9 484.3h0M494.1 483.4h0M526.5 500.6h0M496.5 506.8h0M511.1 495.3h0M507.3 488.7h0M483.8 502.2h0M503.3 505.4h0M514.7 492.9h0M486.7 483.6h0M509.4 483.8h0M509.5 491.9h0M521.2 486.0h0M481.8 477.9h0M500.0 491.0h0M485.9 496.5h0M504.2 514.9h0M503.8 483.0h0M496.6 516.5h0M517.0 493.4h0M503.6 516.0h0M497.8 502.2h0M487.7 486.6h0M478.0 483.7h0M519.7 490.9h0M505.3 479.2h0M502.2 489.2h0M509.9 489.9h0M486.1 476.2h0M523.0 495.5h0M527.1 491.5h0M498.2 479.7h0M488.4 484.6h0M509.4 505.0h0M486.6 478.6h0M512.2 495.6h0M489.9 493.9h0M507.9 478.5h0M525.9 490.4h0M512.9 510.4h0M494.7 495.5h0M482.9 512.4h0M494.0 490.9h0M516.2 508.7h0M507.1 490.6h0M500.8 504.7h0M483.2 479.3h0M507.0 501.5h0M525.8 493.8h0M487.1 499.0h0M481.5 486.3h0M478.3 510.6h0M495.9 488.5h0M480.6 474.4h0M477.4 492.0h0M530.0 488.1h0M494.4 489.3h0M479.6 506.0h0M527.2 483.2h0M509.4 488.0h0M510.2 494.3h0M521.9 475.0h0M487.8 480.5h0M492.3 501.9h0M526.1 481.4h0M478.3 500.5h0M482.2 499.0h0M524.8 482.6h0M512.6 484.1h0M514.1 477.3h0M513.8 483.7h0M516.1 506.6h0M484.1 492.2h0M497.5 481.2h0M484.1 503.4h0M491.8 482.6h0M484.9 503.9h0M517.5 484.6h0M485.2 505.5h0M515.2 491.6h0M515.8 478.7h0M488.3 516.8h0M486.1 493.8h0M497.1 504.7h0M490.7 491.5h0M525.4 481.4h0M498.3 477.3h0M509.0 499.4h0M492.8 502.5h0M480.3 493.4h0M516.4 476.8h0M523.9 488.2h0M514.3 491.3h0M511.6 483.0h0M510.0 482.1h0M527.4 478.1h0M477.4 502.5h0M499.3 474.8h0M504.1 487.0h0M506.3 500.9h0M508.5 503.4h0M514.9 502.8h0M525.3 506.1h0M519.7 516.7h0M492.6 478.2h0M520.3 507.6h0M500.6 494.8h0M520.0 507.3h0M485.3 482.7h0M481.0 494.0h0M491.5 491.7h0M521.2 487.7h0M488.4 489.1h0M505.6 499.4h0M487.5 515.9h0M528.5 482.3h0M523.6 508.0h0M499.4 492.6h0M482.8 488.6h0M486.6 482.6h0M493.2 505.8h0M479.4 512.2h0M477.1 503.2h0M514.8 503.8h0M518.9 492.4h0M530.0 475.2h0M523.2 511.7h0M493.8 494.1h0M495.7 505.2h0M528.8 479.6h0M493.1 499.0h0M504.8 486.9h0M504.3 507.1h0M521.1 492.7h0M481.9 480.2h0M520.6 513.0h0M485.6 495.5h0M491.7 479.9h0M479.0 494.6h0M496.0 492.1h0M509.7 477.6h0M521.3 484.5h0M486.6 510.7h0M504.0 503.2h0M477.1 497.6h0M490.9 509.3h0M513.2 515.8h0M489.6 512.0h0M488.7 487.5h0M477.8 496.3h0M493.7 502.6h0M522.1 483.0h0M496.8 483.8h0M496.8 482.1h0M481.1 477.0h0M488.0 483.0h0M500.4 496.9h0M521.4 491.4h0M523.9 501.4h0M489.2 480.0h0M526.6 494.8h0M482.6 514.6h0M506.2 496.9h0M511.0 478.2h0M503.3 515.7h0M521.5 481.7h0M509.8 488.8h0M521.2 512.4h0M488.2 500.4h0M507.5 483.5h0" stroke="#fff" stroke-width="0.8" stroke-linecap="round" stroke-opacity="0.8" fill="none"/>
<path d="M498.1 508.4h0M503.1 493.9h0M489.4 502.8h0M490.4 515.8h0M489.7 515.4h0M481.8 493.4h0M506.3 514.9h0M522.0 487.5h0M510.6 510.9h0M486.1 509.2h0M520.2 515.5h0M488.5 505.8h0M501.2 515.1h0M518.0 475.0h0M527.2 509.5h0M491.9 515.5h0M485.4 514.5h0M508.6 475.3h0" stroke="#fff" stroke-width="1.5" stroke-linecap="round" stroke-opacity="0.95" fill="none"/>
<rect x="476.30" y="520.50" width="54.40" height="43.50" fill="#d9dad2" />
<g clip-path="url(#clip_ew1)">
<path d="M531.5 561.8L532.4 557.6M574.8 549.3L532.4 557.6M531.5 561.8L529.4 563.5M476.4 542.7L484.9 543.4M476.4 542.7L476.2 542.9M484.9 543.4L483.7 551.0M483.7 551.0L481.9 551.9M481.9 551.9L476.6 550.1M476.2 542.9L476.6 550.1M601.4 504.1L530.7 524.2M527.9 518.0L527.9 518.4M530.7 524.2L527.9 518.4M529.4 563.5L523.8 566.3M532.4 557.6L531.6 557.1M531.6 557.1L524.2 558.7M524.2 558.7L522.5 564.7M523.8 566.3L522.5 564.7M524.2 558.7L521.8 555.3M521.8 555.3L517.7 557.0M517.7 557.0L516.2 563.0M522.5 564.7L516.2 563.0M531.6 557.1L528.2 550.6M521.8 555.3L522.8 550.7M528.2 550.6L522.8 550.7M517.7 557.0L515.0 554.5M515.0 554.5L514.3 551.4M517.8 548.1L514.3 551.4M517.8 548.1L521.2 549.1M522.8 550.7L521.2 549.1M474.4 557.6L476.4 550.3M477.4 565.4L477.9 565.0M477.9 565.0L475.7 558.8M475.7 558.8L474.4 557.6M481.9 551.9L481.8 555.3M476.6 550.1L476.4 550.3M481.8 555.3L475.7 558.8M476.2 542.9L458.0 540.5M498.7 565.0L498.5 564.8M498.7 565.0L490.8 573.2M498.5 564.8L491.6 564.0M491.6 564.0L490.8 573.2M530.7 524.2L529.7 526.2M527.9 518.4L523.4 521.5M523.4 521.5L524.6 525.7M529.7 526.2L524.6 525.7M601.4 504.1L530.7 531.8M529.7 526.2L530.7 531.8M495.1 527.8L491.7 526.4M495.1 527.8L499.1 521.0M499.1 521.0L497.1 519.1M491.7 526.4L490.3 522.3M497.1 519.1L490.3 522.3M446.1 516.4L478.1 518.8M478.1 518.8L485.2 427.4M491.7 495.2L497.1 519.1M491.7 495.2L491.6 494.6M490.3 522.3L488.7 521.0M488.7 521.0L490.3 501.3M491.6 494.6L490.3 501.3M508.1 557.1L508.5 551.2M508.1 557.1L501.1 557.7M501.1 557.7L500.5 557.1M500.5 557.1L506.2 550.4M508.5 551.2L506.2 550.4M509.8 559.1L508.1 557.1M509.8 559.1L515.0 554.5M509.0 551.0L514.3 551.4M509.0 551.0L508.5 551.2M502.0 563.0L501.1 557.7M502.0 563.0L500.4 565.0M500.4 565.0L498.7 565.0M494.2 558.6L498.5 564.8M494.2 558.6L499.5 556.6M499.5 556.6L500.5 557.1M502.1 547.1L498.2 549.3M502.1 547.1L506.2 550.4M498.2 549.3L499.5 556.6M502.1 547.1L503.0 543.3M509.0 551.0L510.7 543.7M503.0 543.3L510.7 543.7M515.7 563.2L511.0 563.0M509.9 564.2L511.0 563.0M509.9 564.2L506.0 581.9M516.2 563.0L515.7 563.2M509.8 559.1L511.0 563.0M502.0 563.0L509.9 564.2M500.4 565.0L506.0 581.9M490.2 575.0L490.8 573.2M477.9 565.0L481.5 564.4M481.5 564.4L490.2 575.0M530.3 547.7L528.5 542.5M530.3 547.7L554.7 545.6M528.5 542.5L538.4 539.5M554.7 545.6L538.4 539.5M574.8 549.3L554.7 545.6M528.2 550.6L530.3 547.7M488.7 521.0L484.0 522.2M490.3 501.3L481.5 521.2M484.0 522.2L481.5 521.2M478.1 518.8L479.9 521.3M485.2 427.4L491.6 494.6M481.5 521.2L479.9 521.3M490.9 561.3L482.1 563.7M490.9 561.3L492.0 558.6M492.0 558.6L491.2 557.5M491.2 557.5L482.8 558.1M482.8 558.1L482.1 563.7M491.6 564.0L490.9 561.3M481.5 564.4L482.1 563.7M494.2 558.6L492.0 558.6M490.0 552.3L491.2 557.5M490.0 552.3L492.2 549.8M498.2 549.3L495.1 548.6M492.2 549.8L495.1 548.6M490.0 552.3L483.7 551.0M481.8 555.3L482.8 558.1M523.8 534.6L530.6 532.1M523.8 534.6L523.1 536.3M523.1 536.3L523.3 538.5M532.3 534.5L528.2 542.3M532.3 534.5L530.6 532.1M523.3 538.5L525.2 541.2M525.2 541.2L528.2 542.3M528.5 542.5L528.2 542.3M538.4 539.5L532.3 534.5M530.7 531.8L530.6 532.1M517.8 548.1L515.7 543.7M521.2 549.1L525.2 541.2M515.7 543.7L523.3 538.5M515.7 543.7L514.7 543.0M523.1 536.3L514.6 536.0M514.6 536.0L514.7 543.0M510.7 543.7L511.3 543.3M511.3 543.3L514.7 543.0M527.9 518.0L520.1 514.4M523.4 521.5L518.9 520.7M518.9 520.7L520.1 514.4M515.2 500.7L520.1 514.4M511.2 527.5L517.7 526.0M511.2 527.5L511.4 533.6M511.4 533.6L513.0 534.3M513.0 534.3L520.5 529.0M517.7 526.0L520.5 528.9M520.5 528.9L520.5 529.0M507.7 535.5L511.3 543.3M507.7 535.5L511.4 533.6M514.6 536.0L513.0 534.3M523.8 534.6L520.5 529.0M524.6 525.7L520.5 528.9M518.9 520.7L518.2 521.3M518.2 521.3L517.7 526.0M495.1 548.6L494.3 542.9M503.0 543.3L502.7 542.5M502.7 542.5L495.3 541.6M494.3 542.9L495.3 541.6M506.2 535.7L503.1 537.8M506.2 535.7L503.1 528.2M503.1 537.8L496.4 534.3M503.1 528.2L496.9 530.4M496.9 530.4L496.4 534.3M502.7 542.5L503.1 537.8M507.7 535.5L506.2 535.7M495.3 541.6L495.0 535.3M495.0 535.3L496.4 534.3M446.1 516.4L474.5 527.3M479.9 521.3L476.1 527.0M474.5 527.3L476.1 527.0M458.0 540.5L473.7 534.3M474.5 527.3L473.7 534.3M476.4 542.7L477.7 537.3M473.7 534.3L477.7 537.3M491.7 526.4L491.5 526.6M484.0 522.2L484.9 529.2M491.5 526.6L484.9 529.2M476.1 527.0L483.2 532.0M484.9 529.2L483.2 532.0M510.5 516.2L512.9 519.7M510.5 516.2L505.2 519.0M512.9 519.7L510.1 526.5M505.2 519.0L503.8 521.7M503.8 521.7L505.2 525.1M505.2 525.1L510.1 526.5M518.2 521.3L512.9 519.7M515.2 500.7L510.5 516.2M491.7 495.2L505.2 519.0M511.2 527.5L510.1 526.5M499.1 521.0L503.8 521.7M495.1 527.8L496.9 530.4M503.1 528.2L505.2 525.1M481.2 535.3L483.2 532.3M481.2 535.3L485.4 543.0M483.2 532.3L489.0 535.3M488.0 541.8L489.6 535.8M488.0 541.8L487.3 542.4M489.6 535.8L489.0 535.3M485.4 543.0L487.3 542.4M477.7 537.3L481.2 535.3M483.2 532.0L483.2 532.3M484.9 543.4L485.4 543.0M491.5 526.6L489.0 535.3M494.3 542.9L488.0 541.8M495.0 535.3L489.6 535.8M492.2 549.8L487.3 542.4" fill="none" stroke="#e58fb0" stroke-width="0.36" stroke-opacity="0.42"/>
<circle cx="530.67" cy="524.25" r="0.7972004230521494" fill="#d03878" fill-opacity="0.85"/>
<circle cx="523.84" cy="534.61" r="0.7579371077886491" fill="#a0408c" fill-opacity="0.85"/>
<circle cx="499.50" cy="556.61" r="0.6568558494525744" fill="#d03878" fill-opacity="0.85"/>
<circle cx="487.97" cy="541.76" r="0.8241344950298213" fill="#a0408c" fill-opacity="0.85"/>
<circle cx="481.18" cy="535.29" r="0.5672299257595713" fill="#a0408c" fill-opacity="0.85"/>
<circle cx="507.71" cy="535.54" r="0.6832587820241671" fill="#d03878" fill-opacity="0.85"/>
<circle cx="490.33" cy="522.34" r="0.7815083383088144" fill="#a0408c" fill-opacity="0.85"/>
<circle cx="525.17" cy="541.18" r="0.7144613952132813" fill="#d03878" fill-opacity="0.85"/>
</g>
<rect x="532.3" y="473.9" width="54.8" height="43.5" fill="#d0509a" filter="url(#liv3)"/>
<path d="M540.7 500.6h0M541.9 504.7h0M565.5 490.7h0M566.0 498.5h0M535.0 496.9h0M566.2 496.5h0M580.2 505.7h0M553.1 484.0h0M539.6 508.9h0M569.9 500.3h0M556.6 495.7h0M544.7 496.9h0M540.5 500.8h0M566.7 502.9h0M546.0 478.2h0M550.7 503.7h0M560.2 506.2h0M556.0 491.3h0M581.7 481.4h0M543.9 499.4h0M566.8 492.8h0M562.8 493.1h0M568.8 512.3h0M577.3 501.6h0M558.1 514.8h0M556.8 501.0h0M579.6 503.5h0M553.8 506.0h0M565.1 513.4h0M566.3 497.1h0M585.3 496.8h0M554.2 514.3h0M583.7 481.6h0M536.6 510.9h0M580.4 490.7h0M546.5 503.5h0M583.5 483.4h0M556.9 502.6h0M544.6 492.0h0M540.4 494.8h0M545.1 477.7h0M553.7 480.7h0M539.1 480.7h0M555.3 487.9h0M572.0 492.0h0M545.8 482.3h0M548.7 506.0h0M543.6 494.2h0M576.3 509.7h0M557.7 510.3h0M567.4 484.0h0M537.7 481.6h0M575.4 490.9h0M577.9 515.6h0M582.3 494.3h0M533.1 486.1h0M544.5 502.0h0M570.6 513.7h0M570.8 515.3h0M567.2 494.6h0M577.9 486.0h0M574.7 505.4h0M579.5 476.9h0M542.9 514.9h0M540.4 493.6h0M565.2 494.9h0M580.2 515.1h0M551.1 480.0h0M582.1 493.7h0M546.1 480.2h0M533.2 499.2h0M547.9 498.1h0M582.6 495.0h0M584.2 477.2h0M573.6 506.5h0M584.5 475.6h0M560.1 498.1h0M565.0 494.4h0M547.4 512.9h0M580.1 504.2h0M584.5 497.9h0M537.0 503.9h0M538.4 506.4h0M567.7 483.1h0M540.9 477.2h0M542.3 516.1h0M545.0 512.0h0M540.0 488.8h0M558.2 489.6h0M584.8 484.6h0M558.8 483.1h0M538.6 503.8h0M551.0 495.1h0M570.1 478.1h0M535.6 503.7h0M586.4 475.1h0M557.1 516.8h0M577.7 516.5h0M561.3 515.8h0M535.7 494.5h0M578.5 491.0h0M556.5 493.5h0M553.2 509.0h0M585.2 484.2h0M550.1 508.6h0M572.9 509.1h0M569.5 513.4h0M578.3 501.4h0M548.0 477.9h0M579.1 510.9h0M580.8 485.6h0M572.6 514.0h0M543.9 475.3h0M542.1 483.6h0M569.4 509.4h0M576.9 503.7h0M585.5 515.8h0M556.4 513.6h0M571.5 484.8h0M564.3 481.6h0M554.3 509.0h0M533.2 497.2h0M556.2 486.4h0M536.2 496.6h0M550.7 478.5h0M554.4 503.3h0M537.0 507.8h0M537.2 494.4h0M552.5 510.9h0M580.9 505.8h0M548.6 488.2h0M577.2 496.1h0M567.0 505.2h0M543.1 490.7h0M584.2 488.5h0M578.5 480.9h0M533.5 495.8h0M548.0 499.7h0M574.3 476.0h0M559.7 490.3h0M581.6 510.4h0M580.5 506.0h0M551.4 500.7h0M562.1 490.0h0M548.4 502.0h0M581.1 484.6h0M551.9 481.1h0M552.4 490.9h0M537.8 501.8h0M551.3 508.7h0M545.8 505.6h0M585.6 481.5h0M552.7 515.8h0M554.5 488.3h0M541.0 509.7h0M550.3 511.9h0M562.8 482.0h0M586.3 512.8h0M573.1 500.0h0M573.4 514.8h0M543.3 484.6h0M573.9 492.1h0M585.9 509.9h0M560.9 481.1h0M565.7 500.0h0M564.0 507.6h0M558.5 512.4h0M564.8 481.2h0M577.0 481.5h0M581.6 513.9h0M543.3 482.9h0M570.6 493.8h0M552.9 506.4h0M550.8 479.9h0M562.5 511.8h0M584.5 478.8h0M573.0 488.1h0M585.1 491.0h0M538.2 488.4h0M560.5 481.8h0M574.3 488.4h0M572.8 484.2h0M559.2 502.5h0M543.9 486.7h0M578.0 491.1h0M551.5 500.7h0M570.0 511.2h0M563.2 510.8h0M580.9 513.9h0M582.3 503.9h0M570.3 490.9h0M538.4 513.7h0M555.1 488.7h0M562.3 506.6h0M577.5 479.2h0M575.0 514.5h0M585.5 514.5h0M563.6 512.3h0M564.6 510.5h0M586.1 490.3h0M539.4 506.3h0M583.4 512.9h0M557.7 493.5h0M539.4 510.7h0M547.4 479.5h0M538.2 514.0h0M555.1 508.2h0M536.5 494.9h0M573.0 507.3h0M543.0 494.8h0M576.6 513.3h0M537.8 499.4h0M580.7 500.8h0M575.1 487.0h0M559.3 474.9h0M575.8 498.3h0M542.5 514.5h0M544.1 475.7h0M571.8 477.7h0M568.3 480.1h0M533.9 505.8h0M565.8 502.5h0M571.0 504.9h0M542.2 492.4h0M564.7 511.3h0M567.6 495.1h0M577.0 510.4h0M546.2 482.1h0M533.0 511.5h0M544.1 499.0h0M561.1 502.4h0M583.4 502.4h0M542.0 492.7h0M542.7 490.6h0M572.7 502.1h0M566.6 511.2h0M586.6 485.1h0M570.6 501.9h0M534.2 516.7h0M554.2 503.0h0M545.1 492.4h0M539.1 515.6h0M535.0 477.4h0M571.9 498.9h0M550.1 514.5h0M570.4 493.5h0M571.1 514.3h0M579.8 489.8h0M574.5 483.7h0M553.5 516.7h0M572.4 491.4h0M562.1 493.0h0M570.9 496.6h0M557.2 492.2h0M580.2 508.9h0M545.8 491.3h0M581.3 505.5h0M565.2 501.2h0M543.6 498.5h0M573.0 493.1h0M554.8 492.7h0M565.1 483.7h0M577.1 477.1h0M574.5 496.7h0M546.2 485.0h0M547.3 481.2h0M586.3 486.2h0M537.2 502.4h0M585.4 486.6h0M545.2 499.3h0M550.3 493.9h0M563.6 516.9h0M553.1 489.8h0M570.9 498.7h0M580.0 492.8h0M567.0 496.1h0M565.3 495.2h0M541.5 479.6h0M554.1 517.0h0M560.2 495.6h0M556.9 507.4h0M551.8 491.0h0M550.8 498.7h0M558.6 500.0h0M583.2 488.9h0M566.4 516.7h0M572.8 510.3h0M576.6 482.7h0M566.9 489.0h0M551.9 479.8h0M574.9 513.7h0M579.3 492.9h0M582.3 508.6h0M566.0 508.6h0M574.7 474.8h0M566.2 502.0h0M552.1 508.8h0M572.6 478.2h0M553.6 474.7h0M552.9 479.0h0M532.8 487.0h0M571.4 481.8h0M585.1 482.3h0M577.5 485.8h0M580.0 495.9h0M578.1 493.3h0M547.8 512.1h0M533.8 479.8h0M540.2 498.2h0M573.7 484.8h0M564.1 510.7h0M533.0 506.9h0M540.1 475.4h0M559.3 490.8h0M554.0 501.5h0M533.5 500.1h0M540.6 514.6h0M558.3 483.4h0M561.0 491.9h0M536.6 506.8h0M555.9 510.3h0M573.7 509.6h0M584.1 486.9h0M563.2 498.7h0M566.1 506.1h0M573.9 502.1h0M565.3 497.5h0M540.4 485.9h0M539.2 499.8h0M565.4 483.9h0M553.1 511.3h0M541.1 497.2h0M560.4 494.4h0M548.1 515.0h0M563.0 495.8h0M536.9 475.9h0M558.1 485.6h0M569.6 504.6h0M536.0 490.5h0M549.5 502.0h0M563.3 511.1h0M534.8 494.7h0M572.0 481.4h0M534.9 493.3h0M545.4 476.2h0M578.6 506.0h0M568.9 511.5h0M572.4 493.2h0M574.0 514.0h0M583.7 511.6h0M575.4 515.6h0M583.7 501.2h0M555.4 503.9h0M585.3 478.3h0M556.1 480.2h0M538.4 498.7h0M542.8 478.7h0M564.0 498.0h0M559.5 475.4h0M539.9 497.3h0" stroke="#4e2a8c" stroke-width="0.9" stroke-linecap="round" stroke-opacity="0.8" fill="none"/>
<path d="M555.0 491.7h0M581.2 512.6h0M549.3 510.5h0M584.4 510.0h0M534.0 516.2h0M546.7 508.4h0M541.9 498.9h0M554.4 503.8h0M574.2 510.4h0M577.6 511.6h0M566.2 497.0h0M574.9 500.8h0M575.6 490.6h0M584.3 512.3h0M543.3 508.2h0M562.3 500.1h0M576.0 503.0h0M568.8 512.0h0M540.9 477.2h0M548.2 489.6h0M539.8 476.1h0M558.8 511.0h0M574.7 493.8h0M579.8 499.5h0M564.0 476.9h0M549.8 490.6h0M537.1 489.9h0M565.0 477.8h0M547.4 507.4h0M554.3 502.1h0M541.1 483.0h0M575.3 506.8h0M538.6 500.8h0M574.4 506.6h0M573.1 508.4h0M553.5 500.4h0M546.9 497.6h0M573.2 510.7h0M572.6 503.5h0M538.7 513.0h0M553.5 511.3h0M536.6 499.7h0M559.3 515.5h0M573.9 496.0h0M572.4 494.0h0M583.9 481.5h0M583.0 513.3h0M548.4 505.2h0M577.3 504.3h0M582.5 497.2h0M558.2 515.6h0M560.0 501.0h0M577.1 478.4h0M546.6 502.3h0M549.9 509.0h0M560.8 513.8h0M558.9 483.3h0M568.6 478.8h0M571.5 489.9h0M549.0 481.1h0M558.6 504.6h0M572.0 510.6h0M557.4 504.0h0M562.1 475.1h0M556.6 503.3h0M537.0 479.6h0M584.7 504.9h0M549.6 484.8h0M581.6 501.8h0M557.5 502.9h0M581.0 476.2h0M541.4 479.3h0M579.8 476.8h0M535.7 513.9h0M543.8 475.3h0M586.0 504.6h0M553.3 509.9h0M581.6 475.5h0M565.2 510.3h0M582.7 508.9h0M570.5 506.9h0M560.7 513.8h0M541.1 493.7h0M535.7 507.2h0M575.4 497.7h0M560.8 515.0h0M554.4 500.4h0M574.3 477.3h0M547.4 489.6h0M567.3 489.9h0M533.6 484.1h0M562.9 496.3h0M586.2 515.5h0M540.6 510.0h0M536.9 474.9h0M575.9 509.8h0M574.6 514.6h0M537.8 499.5h0M540.4 477.3h0M577.8 481.5h0M563.1 504.8h0M583.6 499.3h0M585.5 474.5h0M543.7 503.9h0M558.0 513.3h0M568.0 514.5h0M546.5 514.5h0M553.2 490.8h0M576.1 482.3h0M576.8 475.8h0M575.1 492.9h0M538.6 487.4h0M581.6 492.2h0M559.7 476.8h0M571.6 478.7h0M536.2 496.1h0M558.6 488.3h0M569.6 482.6h0M585.9 512.6h0M565.3 488.9h0M586.1 498.0h0M575.4 488.2h0M538.3 494.4h0M563.9 483.4h0M551.9 480.5h0M572.4 474.7h0M561.3 489.6h0M538.3 475.1h0M580.4 492.4h0M566.2 501.3h0M585.6 510.5h0M560.4 515.9h0M575.3 516.5h0M580.1 503.9h0M567.3 486.8h0M562.2 486.4h0M571.1 497.7h0M563.0 497.8h0M555.0 479.1h0M564.9 497.1h0M547.9 494.9h0M542.3 492.8h0M556.5 478.2h0M544.4 500.3h0M566.4 504.7h0M561.3 514.2h0M556.3 512.4h0M541.3 476.1h0M568.9 488.4h0M539.4 505.1h0M583.6 512.4h0M541.7 490.8h0M548.5 499.7h0M544.2 516.8h0M560.0 494.3h0M552.5 489.0h0M544.9 485.2h0M585.5 516.6h0M581.7 497.4h0M549.8 488.6h0M572.6 498.0h0M579.5 507.1h0M563.9 515.3h0M553.9 486.8h0M577.2 497.3h0M557.1 501.0h0M575.6 492.8h0M552.3 502.0h0M533.9 511.7h0M559.6 507.6h0M568.0 514.3h0M565.9 516.5h0M538.4 476.2h0M548.9 490.3h0M577.4 510.1h0M570.8 495.8h0M549.8 486.7h0M569.7 504.3h0M539.2 483.1h0M543.4 477.4h0" stroke="#6a2a90" stroke-width="1.3" stroke-linecap="round" stroke-opacity="0.55" fill="none"/>
<path d="M573.9 501.8h0M554.8 482.8h0M569.2 515.7h0M555.8 510.6h0M534.6 496.8h0M543.6 495.4h0M565.7 510.8h0M560.9 511.4h0M550.3 479.8h0M557.8 504.8h0M570.9 475.9h0M546.1 485.2h0M558.2 511.1h0M547.3 476.3h0M581.2 511.4h0M574.3 476.0h0M546.8 481.8h0M582.1 479.6h0M539.6 483.7h0M575.4 482.8h0M585.8 487.5h0M567.8 482.5h0M548.5 511.3h0M586.6 484.6h0M551.6 476.8h0M543.2 490.7h0M560.8 498.8h0M551.6 481.0h0M562.7 489.2h0M551.3 515.9h0M564.4 474.9h0M584.4 515.7h0M553.8 516.1h0M538.4 513.5h0M541.8 511.2h0M569.3 515.2h0M549.0 502.2h0M583.5 479.8h0M542.7 498.1h0M539.9 476.6h0M533.5 489.1h0M567.8 494.2h0M565.3 475.4h0M538.2 498.4h0M541.2 474.8h0M536.0 502.1h0M584.5 495.5h0M533.0 482.6h0M569.5 508.1h0M543.8 494.3h0M534.7 497.4h0M573.5 495.6h0M575.1 484.3h0M568.7 494.4h0M565.3 477.4h0M557.2 500.8h0M545.3 498.0h0M533.8 492.1h0M583.5 501.9h0M560.0 511.5h0M570.2 496.0h0M553.0 511.6h0M563.2 495.1h0M552.8 480.8h0M543.0 500.0h0M561.7 507.4h0M557.0 490.7h0M562.7 485.0h0M584.6 501.4h0M548.9 495.3h0M578.1 514.9h0M570.5 511.8h0M576.3 490.0h0M555.3 494.2h0M535.5 499.6h0M562.5 507.9h0M551.1 516.0h0M572.6 499.0h0M545.0 514.2h0M569.6 501.4h0M543.2 482.8h0M543.3 513.5h0M556.6 504.2h0M570.1 509.0h0M548.3 482.9h0M584.7 480.3h0M586.7 491.2h0M533.9 487.2h0M574.1 491.6h0M540.2 477.6h0M535.4 498.7h0M552.5 503.2h0M539.5 486.4h0M562.6 488.2h0M570.2 485.4h0M573.2 502.6h0M555.0 504.4h0M551.4 513.6h0M572.7 486.5h0M578.6 501.1h0M579.4 504.6h0M582.1 497.5h0M551.3 505.7h0M582.7 496.7h0M571.4 500.1h0M550.7 482.9h0M566.3 481.4h0M556.8 507.4h0M553.3 492.8h0M584.8 499.5h0M561.9 482.6h0M573.1 490.0h0M571.4 515.0h0M577.6 483.7h0M582.8 502.7h0M542.2 476.2h0M546.1 499.3h0M558.9 474.5h0M583.9 477.1h0M578.0 495.5h0M575.9 508.9h0M570.3 490.4h0M560.7 483.0h0M546.9 475.3h0M552.4 512.8h0M571.6 477.0h0M551.2 492.9h0M560.9 496.1h0M577.9 482.7h0M567.3 502.0h0M533.6 480.8h0M539.1 500.6h0M579.1 512.0h0M578.0 497.7h0M566.1 502.6h0M548.8 495.0h0M540.0 488.5h0M552.5 515.2h0M544.0 495.2h0M535.9 476.9h0M560.6 499.5h0M561.0 516.5h0M558.4 501.0h0M580.0 479.8h0M574.3 480.0h0M580.3 506.7h0M574.9 511.0h0M535.1 477.9h0M555.3 477.1h0M581.9 481.8h0M545.2 505.3h0M538.5 511.1h0M551.7 497.2h0M577.9 477.4h0M546.5 490.6h0M570.9 486.8h0M555.5 483.2h0M564.5 492.2h0M567.7 474.6h0M562.8 514.6h0M545.7 484.4h0M574.4 480.6h0M560.3 491.8h0M541.8 488.4h0M575.8 501.3h0M546.2 499.5h0M586.4 481.0h0M572.1 480.0h0M546.7 479.5h0M564.0 502.3h0" stroke="#fff" stroke-width="0.8" stroke-linecap="round" stroke-opacity="0.8" fill="none"/>
<path d="M584.8 497.3h0M562.6 494.6h0M542.9 475.9h0M554.2 495.8h0M574.6 488.8h0" stroke="#fff" stroke-width="1.5" stroke-linecap="round" stroke-opacity="0.95" fill="none"/>
<rect x="532.30" y="520.50" width="54.80" height="43.50" fill="#d9dad2" />
<g clip-path="url(#clip_ew2)">
<path d="M588.4 544.8L599.1 538.0M588.4 544.8L586.0 538.2M599.1 538.0L592.4 536.5M586.0 538.2L592.4 536.5M568.8 534.8L565.8 532.4M568.8 534.8L571.6 534.2M571.6 534.2L574.2 525.6M574.2 525.6L566.4 526.0M565.8 532.4L566.4 526.0M538.5 564.8L548.4 615.4M538.5 564.8L532.2 564.8M531.7 565.4L532.2 564.8M555.1 566.1L559.9 564.0M555.1 566.1L550.4 578.0M550.4 578.0L548.4 615.4M561.9 565.8L559.9 564.0M568.8 534.8L568.4 537.3M564.1 540.8L568.4 537.3M564.1 540.8L559.6 538.0M565.8 532.4L560.4 534.6M560.4 534.6L559.6 538.0M538.5 564.8L538.7 564.6M550.4 578.0L546.6 563.2M538.7 564.6L546.6 563.2M531.7 565.4L423.1 553.2M530.2 558.4L532.2 564.8M530.2 558.4L529.5 557.8M529.5 557.8L436.7 553.1M423.1 553.2L436.7 553.1M533.3 519.8L533.3 519.8M491.6 532.2L503.4 530.3M533.3 519.8L503.4 530.3M533.3 519.8L532.3 526.1M503.4 530.3L526.7 529.4M532.3 526.1L526.7 529.4M543.5 506.6L547.9 519.7M543.5 506.6L540.4 518.8M540.4 518.8L547.0 520.1M547.9 519.7L547.0 520.1M533.3 519.8L537.7 520.5M537.7 520.5L540.4 518.8M586.0 538.2L584.8 537.7M592.4 536.5L586.2 529.7M586.2 529.7L583.7 532.2M584.8 537.7L583.7 532.2M599.1 538.0L629.7 534.3M586.2 529.7L586.9 527.9M629.7 534.3L586.9 527.9M561.1 514.2L567.6 519.7M561.1 514.2L560.7 493.6M560.7 493.6L567.7 435.6M572.3 516.8L567.6 519.7M572.3 516.8L575.0 503.5M575.0 503.5L567.7 435.6M691.2 531.9L629.7 534.3M691.2 531.9L587.9 520.8M586.9 527.9L586.3 525.1M586.3 525.1L587.1 521.3M587.9 520.8L587.1 521.3M560.7 493.6L550.4 520.2M550.4 520.2L547.9 519.7M576.0 526.5L574.2 525.6M576.0 526.5L579.2 525.6M579.2 525.6L581.8 518.2M574.2 525.6L574.5 523.5M574.5 523.5L581.8 518.1M581.8 518.1L581.8 518.2M586.3 525.1L579.2 525.6M587.1 521.3L581.8 518.2M572.3 516.8L574.5 523.5M575.0 503.5L581.8 518.1M574.2 525.6L574.2 525.6M567.6 519.7L565.8 525.0M566.4 526.0L566.3 525.9M565.8 525.0L566.3 525.9M557.8 531.4L560.4 534.6M557.8 531.4L558.1 528.6M566.3 525.9L558.1 528.6M561.9 565.8L565.7 565.0M572.7 578.7L570.3 569.9M570.3 569.9L568.4 566.4M568.4 566.4L565.7 565.0M588.4 544.8L587.3 547.0M587.3 547.0L587.4 548.2M584.0 564.4L587.1 563.5M587.1 563.5L589.2 556.1M554.1 546.1L556.8 545.5M554.1 546.1L551.3 552.0M556.8 545.5L559.5 551.3M559.5 551.3L554.1 553.5M551.3 552.0L554.1 553.5M554.1 546.1L550.5 543.1M545.2 547.1L546.1 545.4M545.2 547.1L547.8 552.7M550.5 543.1L546.1 545.4M551.3 552.0L547.8 552.7M561.7 557.8L559.8 559.3M561.7 557.8L561.3 552.0M559.8 559.3L555.9 558.3M561.3 552.0L559.5 551.3M554.1 553.5L555.9 558.3M537.0 557.3L538.5 559.1M537.0 557.3L537.9 552.5M538.5 559.1L546.4 556.7M537.9 552.5L538.1 552.4M538.1 552.4L546.6 554.6M546.6 554.6L546.4 556.7M530.2 558.4L537.0 557.3M538.7 564.6L538.5 559.1M545.2 547.1L540.5 546.9M540.5 546.9L538.1 552.4M547.8 552.7L546.6 554.6M532.6 546.6L533.7 550.8M532.6 546.6L531.3 545.4M531.3 545.4L524.0 547.6M524.0 547.6L531.3 552.9M531.3 552.9L533.7 550.8M539.1 545.4L540.5 546.9M539.1 545.4L532.6 546.6M537.9 552.5L533.7 550.8M532.4 538.7L491.6 532.2M532.4 538.7L531.3 545.4M436.7 553.1L524.0 547.6M529.5 557.8L531.3 552.9M532.3 526.1L533.0 526.8M526.7 529.4L532.8 533.8M532.8 533.8L533.0 526.8M537.7 520.5L540.3 525.5M547.0 520.1L543.8 525.9M540.3 525.5L543.8 525.9M533.0 526.8L538.2 529.6M540.3 525.5L538.2 529.6M571.6 534.2L575.3 535.9M576.0 526.5L578.6 530.7M575.3 535.9L578.6 530.7M583.7 532.2L583.1 532.1M578.6 530.7L583.1 532.1M559.9 519.0L561.2 521.6M559.9 519.0L552.1 522.0M561.2 521.6L557.2 527.1M557.2 527.1L552.4 524.0M552.1 522.0L552.4 524.0M561.1 514.2L559.9 519.0M565.8 525.0L561.2 521.6M550.4 520.2L552.1 522.0M558.1 528.6L557.2 527.1M552.8 532.3L557.8 531.4M552.8 532.3L550.6 526.8M550.6 526.8L552.4 524.0M550.6 526.8L546.3 528.6M543.8 525.9L546.3 528.6M559.9 564.0L559.8 559.3M561.7 557.8L565.8 558.4M565.7 565.0L566.1 558.6M565.8 558.4L566.1 558.6M568.4 566.4L572.2 559.8M566.1 558.6L571.9 558.9M572.2 559.8L571.9 558.9M570.3 569.9L575.0 562.3M572.2 559.8L575.0 562.3M572.7 578.7L579.0 564.0M575.0 562.3L579.0 564.0M584.0 564.4L581.7 563.0M579.0 564.0L581.7 563.0M584.8 537.7L580.3 540.8M583.1 532.1L576.8 538.6M580.3 540.8L576.8 538.6M575.3 535.9L576.7 538.6M576.7 538.6L576.8 538.6M548.0 535.1L547.6 536.9M548.0 535.1L552.1 533.4M547.6 536.9L550.7 540.6M552.1 533.4L555.2 538.4M555.2 538.4L550.7 540.6M552.8 532.3L552.1 533.4M545.5 531.7L546.3 528.6M545.5 531.7L548.0 535.1M543.2 539.4L546.1 545.4M543.2 539.4L547.6 536.9M550.5 543.1L550.7 540.6M559.6 538.0L558.4 538.9M558.4 538.9L555.2 538.4M558.4 538.9L557.2 545.0M557.2 545.0L556.8 545.5M553.2 563.0L554.5 559.4M553.2 563.0L546.7 562.9M554.5 559.4L546.8 558.0M546.7 562.9L546.8 558.0M555.1 566.1L553.2 563.0M555.9 558.3L554.5 559.4M546.6 563.2L546.7 562.9M546.4 556.7L546.8 558.0M541.3 532.5L538.3 530.0M541.3 532.5L539.8 538.9M538.3 530.0L533.5 534.7M539.0 539.3L539.8 538.9M539.0 539.3L533.3 538.0M533.3 538.0L533.5 534.7M538.2 529.6L538.3 530.0M545.5 531.7L541.3 532.5M543.2 539.4L539.8 538.9M532.8 533.8L533.5 534.7M539.1 545.4L539.0 539.3M532.4 538.7L533.3 538.0M580.8 558.5L581.7 561.5M580.8 558.5L581.4 552.7M581.7 561.5L588.4 555.5M581.4 552.7L585.8 551.5M585.8 551.5L588.4 555.5M573.0 556.7L571.9 558.9M573.0 556.7L580.8 558.5M581.7 563.0L581.7 561.5M589.2 556.1L588.4 555.5M587.4 548.2L585.8 551.5M565.8 558.4L567.6 550.2M573.0 556.7L573.6 552.0M573.6 552.0L567.6 550.2M561.3 552.0L566.0 548.9M567.6 550.2L566.0 548.9M564.1 540.8L565.7 545.7M568.4 537.3L571.6 542.5M571.6 542.5L565.7 545.7M576.7 538.6L572.3 542.6M571.6 542.5L572.3 542.6M557.2 545.0L565.6 545.9M566.0 548.9L565.6 545.9M565.7 545.7L565.6 545.9M578.8 551.6L581.3 543.6M578.8 551.6L574.7 551.1M574.7 551.1L574.8 547.0M574.8 547.0L580.7 542.9M581.3 543.6L580.7 542.9M587.3 547.0L581.3 543.6M581.4 552.7L578.8 551.6M573.6 552.0L574.7 551.1M572.3 542.6L574.8 547.0M580.3 540.8L580.7 542.9" fill="none" stroke="#e58fb0" stroke-width="0.36" stroke-opacity="0.42"/>
<circle cx="574.22" cy="525.61" r="0.7451392069094864" fill="#d03878" fill-opacity="0.85"/>
<circle cx="575.97" cy="526.48" r="0.7711264178656873" fill="#a0408c" fill-opacity="0.85"/>
<circle cx="557.23" cy="527.10" r="0.7220284019243156" fill="#d03878" fill-opacity="0.85"/>
<circle cx="552.36" cy="524.00" r="0.6563533054136819" fill="#a0408c" fill-opacity="0.85"/>
<circle cx="546.06" cy="545.41" r="0.8434155611366985" fill="#a0408c" fill-opacity="0.85"/>
<circle cx="533.46" cy="534.68" r="0.7984280708640843" fill="#d03878" fill-opacity="0.85"/>
</g>
<text x="449.50" y="470.10" font-size="5.8" text-anchor="middle">HFD</text>
<text x="506.30" y="470.10" font-size="5.8" text-anchor="middle">HFD+LRD80%</text>
<text x="561.40" y="470.10" font-size="5.8" text-anchor="middle">HFD+FMT<tspan font-size="3.1" dy="1.3">LRD</tspan></text>
<line x1="573.50" y1="511.30" x2="585.80" y2="511.30" stroke="#111" stroke-width="0.6" />
<text x="579.60" y="516.20" font-size="4.2" text-anchor="middle">50μm</text>
<line x1="573.50" y1="556.80" x2="585.80" y2="556.80" stroke="#111" stroke-width="0.6" />
<text x="579.60" y="561.60" font-size="4.2" text-anchor="middle">50μm</text>
<line x1="624.00" y1="464.30" x2="624.00" y2="549.00" stroke="#2a2a2a" stroke-width="0.6" />
<line x1="621.80" y1="549.00" x2="624.00" y2="549.00" stroke="#2a2a2a" stroke-width="0.6" />
<text x="620.80" y="551.16" font-size="6" text-anchor="end">0</text>
<line x1="621.80" y1="532.05" x2="624.00" y2="532.05" stroke="#2a2a2a" stroke-width="0.6" />
<text x="620.80" y="534.21" font-size="6" text-anchor="end">500</text>
<line x1="621.80" y1="515.10" x2="624.00" y2="515.10" stroke="#2a2a2a" stroke-width="0.6" />
<text x="620.80" y="517.26" font-size="6" text-anchor="end">1000</text>
<line x1="621.80" y1="498.15" x2="624.00" y2="498.15" stroke="#2a2a2a" stroke-width="0.6" />
<text x="620.80" y="500.31" font-size="6" text-anchor="end">1500</text>
<line x1="621.80" y1="481.20" x2="624.00" y2="481.20" stroke="#2a2a2a" stroke-width="0.6" />
<text x="620.80" y="483.36" font-size="6" text-anchor="end">2000</text>
<line x1="621.80" y1="464.25" x2="624.00" y2="464.25" stroke="#2a2a2a" stroke-width="0.6" />
<text x="620.80" y="466.41" font-size="6" text-anchor="end">2500</text>
<line x1="623.70" y1="549.00" x2="681.00" y2="549.00" stroke="#2a2a2a" stroke-width="0.6" />
<text x="602.40" y="506.30" font-size="6.6" text-anchor="middle" transform="rotate(-90 602.40 506.30)">The area of fat cells (μm<tspan font-size="5.2" dy="-2.6">2</tspan><tspan dy="2.6">)</tspan></text>
<rect x="630.50" y="483.80" width="11.50" height="65.20" fill="#0000ff" />
<line x1="636.25" y1="479.50" x2="636.25" y2="484.00" stroke="#333" stroke-width="0.5" />
<line x1="634.25" y1="479.50" x2="638.25" y2="479.50" stroke="#333" stroke-width="0.5" />
<circle cx="634.65" cy="480.50" r="1.2" fill="#fff" stroke="#222" stroke-width="0.5" />
<circle cx="637.85" cy="481.00" r="1.2" fill="#fff" stroke="#222" stroke-width="0.5" />
<circle cx="639.85" cy="484.50" r="1.2" fill="#fff" stroke="#222" stroke-width="0.5" />
<circle cx="635.75" cy="489.50" r="1.2" fill="#fff" stroke="#222" stroke-width="0.5" />
<circle cx="632.45" cy="485.00" r="1.2" fill="#fff" stroke="#222" stroke-width="0.5" />
<line x1="636.25" y1="549.00" x2="636.25" y2="551.00" stroke="#2a2a2a" stroke-width="0.6" />
<rect x="647.50" y="513.00" width="11.50" height="36.00" fill="#ff8000" />
<line x1="653.25" y1="510.20" x2="653.25" y2="513.20" stroke="#333" stroke-width="0.5" />
<line x1="651.25" y1="510.20" x2="655.25" y2="510.20" stroke="#333" stroke-width="0.5" />
<circle cx="651.85" cy="510.50" r="1.2" fill="#fff" stroke="#222" stroke-width="0.5" />
<circle cx="654.65" cy="510.50" r="1.2" fill="#fff" stroke="#222" stroke-width="0.5" />
<circle cx="649.65" cy="515.50" r="1.2" fill="#fff" stroke="#222" stroke-width="0.5" />
<circle cx="653.25" cy="515.50" r="1.2" fill="#fff" stroke="#222" stroke-width="0.5" />
<circle cx="656.85" cy="515.50" r="1.2" fill="#fff" stroke="#222" stroke-width="0.5" />
<line x1="653.25" y1="549.00" x2="653.25" y2="551.00" stroke="#2a2a2a" stroke-width="0.6" />
<rect x="664.50" y="512.50" width="11.50" height="36.50" fill="#5a5aff" />
<line x1="670.25" y1="507.30" x2="670.25" y2="512.70" stroke="#333" stroke-width="0.5" />
<line x1="668.25" y1="507.30" x2="672.25" y2="507.30" stroke="#333" stroke-width="0.5" />
<circle cx="670.85" cy="503.50" r="1.2" fill="#fff" stroke="#222" stroke-width="0.5" />
<circle cx="667.65" cy="510.50" r="1.2" fill="#fff" stroke="#222" stroke-width="0.5" />
<circle cx="666.45" cy="515.50" r="1.2" fill="#fff" stroke="#222" stroke-width="0.5" />
<circle cx="670.85" cy="516.50" r="1.2" fill="#fff" stroke="#222" stroke-width="0.5" />
<circle cx="674.05" cy="518.50" r="1.2" fill="#fff" stroke="#222" stroke-width="0.5" />
<line x1="670.25" y1="549.00" x2="670.25" y2="551.00" stroke="#2a2a2a" stroke-width="0.6" />
<text x="636.00" y="557.80" font-size="5.6" text-anchor="middle">HFD</text>
<text x="652.00" y="557.80" font-size="5.6" text-anchor="middle">HFD</text>
<text x="674.00" y="557.80" font-size="5.6" text-anchor="middle">HFD</text>
<text x="651.50" y="564.60" font-size="5.6" text-anchor="middle">LRD80%</text>
<text x="676.00" y="564.60" font-size="5.6" text-anchor="middle">FMT<tspan font-size="3.08" dy="1.2">LRD</tspan></text>
<path d="M636.00 478.80V468.30H670.30V500.00" fill="none" stroke="#555" stroke-width="0.5" />
<text x="638.30" y="466.60" font-size="5.95"><tspan font-style="italic">P</tspan> &lt;0.0001</text>
<path d="M637.00 478.80V475.80H653.30V507.50" fill="none" stroke="#555" stroke-width="0.5" />
<text x="638.30" y="474.60" font-size="5.95"><tspan font-style="italic">P</tspan> &lt;0.0001</text>
<text x="9.80" y="581.70" font-size="7.4" font-weight="bold" fill="#000">q</text>
<line x1="22.00" y1="592.00" x2="22.00" y2="676.50" stroke="#2a2a2a" stroke-width="0.6" />
<line x1="19.80" y1="676.50" x2="22.00" y2="676.50" stroke="#2a2a2a" stroke-width="0.6" />
<text x="18.80" y="678.66" font-size="6" text-anchor="end">0</text>
<line x1="19.80" y1="664.43" x2="22.00" y2="664.43" stroke="#2a2a2a" stroke-width="0.6" />
<text x="18.80" y="666.59" font-size="6" text-anchor="end">1</text>
<line x1="19.80" y1="652.36" x2="22.00" y2="652.36" stroke="#2a2a2a" stroke-width="0.6" />
<text x="18.80" y="654.52" font-size="6" text-anchor="end">2</text>
<line x1="19.80" y1="640.29" x2="22.00" y2="640.29" stroke="#2a2a2a" stroke-width="0.6" />
<text x="18.80" y="642.45" font-size="6" text-anchor="end">3</text>
<line x1="19.80" y1="628.22" x2="22.00" y2="628.22" stroke="#2a2a2a" stroke-width="0.6" />
<text x="18.80" y="630.38" font-size="6" text-anchor="end">4</text>
<line x1="19.80" y1="616.15" x2="22.00" y2="616.15" stroke="#2a2a2a" stroke-width="0.6" />
<text x="18.80" y="618.31" font-size="6" text-anchor="end">5</text>
<line x1="19.80" y1="604.08" x2="22.00" y2="604.08" stroke="#2a2a2a" stroke-width="0.6" />
<text x="18.80" y="606.24" font-size="6" text-anchor="end">6</text>
<line x1="19.80" y1="592.01" x2="22.00" y2="592.01" stroke="#2a2a2a" stroke-width="0.6" />
<text x="18.80" y="594.17" font-size="6" text-anchor="end">7</text>
<line x1="21.70" y1="676.50" x2="78.30" y2="676.50" stroke="#2a2a2a" stroke-width="0.6" />
<text x="11.60" y="634.50" font-size="6.6" text-anchor="middle" transform="rotate(-90 11.60 634.50)">HDL-C (mmol/L)</text>
<rect x="27.50" y="639.30" width="11.50" height="37.20" fill="#0000ff" />
<line x1="33.25" y1="635.60" x2="33.25" y2="639.50" stroke="#333" stroke-width="0.5" />
<line x1="31.25" y1="635.60" x2="35.25" y2="635.60" stroke="#333" stroke-width="0.5" />
<circle cx="33.25" cy="634.50" r="1.2" fill="#fff" stroke="#222" stroke-width="0.5" />
<circle cx="30.65" cy="635.50" r="1.2" fill="#fff" stroke="#222" stroke-width="0.5" />
<circle cx="35.65" cy="636.00" r="1.2" fill="#fff" stroke="#222" stroke-width="0.5" />
<circle cx="32.25" cy="637.50" r="1.2" fill="#fff" stroke="#222" stroke-width="0.5" />
<circle cx="36.45" cy="639.00" r="1.2" fill="#fff" stroke="#222" stroke-width="0.5" />
<circle cx="29.85" cy="640.50" r="1.2" fill="#fff" stroke="#222" stroke-width="0.5" />
<circle cx="34.85" cy="641.50" r="1.2" fill="#fff" stroke="#222" stroke-width="0.5" />
<circle cx="33.45" cy="650.50" r="1.2" fill="#fff" stroke="#222" stroke-width="0.5" />
<line x1="33.25" y1="676.50" x2="33.25" y2="678.50" stroke="#2a2a2a" stroke-width="0.6" />
<rect x="44.50" y="629.50" width="11.50" height="47.00" fill="#ff8000" />
<line x1="50.25" y1="622.60" x2="50.25" y2="629.70" stroke="#333" stroke-width="0.5" />
<line x1="48.25" y1="622.60" x2="52.25" y2="622.60" stroke="#333" stroke-width="0.5" />
<circle cx="50.55" cy="615.00" r="1.2" fill="#fff" stroke="#222" stroke-width="0.5" />
<circle cx="46.65" cy="624.00" r="1.2" fill="#fff" stroke="#222" stroke-width="0.5" />
<circle cx="53.25" cy="628.00" r="1.2" fill="#fff" stroke="#222" stroke-width="0.5" />
<circle cx="50.25" cy="629.50" r="1.2" fill="#fff" stroke="#222" stroke-width="0.5" />
<circle cx="48.05" cy="630.50" r="1.2" fill="#fff" stroke="#222" stroke-width="0.5" />
<circle cx="52.85" cy="632.00" r="1.2" fill="#fff" stroke="#222" stroke-width="0.5" />
<circle cx="54.45" cy="633.50" r="1.2" fill="#fff" stroke="#222" stroke-width="0.5" />
<circle cx="50.45" cy="644.00" r="1.2" fill="#fff" stroke="#222" stroke-width="0.5" />
<line x1="50.25" y1="676.50" x2="50.25" y2="678.50" stroke="#2a2a2a" stroke-width="0.6" />
<rect x="61.50" y="629.30" width="11.50" height="47.20" fill="#5a5aff" />
<line x1="67.25" y1="620.80" x2="67.25" y2="629.50" stroke="#333" stroke-width="0.5" />
<line x1="65.25" y1="620.80" x2="69.25" y2="620.80" stroke="#333" stroke-width="0.5" />
<circle cx="67.55" cy="618.50" r="1.2" fill="#fff" stroke="#222" stroke-width="0.5" />
<circle cx="64.05" cy="622.00" r="1.2" fill="#fff" stroke="#222" stroke-width="0.5" />
<circle cx="70.65" cy="626.50" r="1.2" fill="#fff" stroke="#222" stroke-width="0.5" />
<circle cx="66.85" cy="627.50" r="1.2" fill="#fff" stroke="#222" stroke-width="0.5" />
<circle cx="67.45" cy="632.00" r="1.2" fill="#fff" stroke="#222" stroke-width="0.5" />
<circle cx="64.25" cy="634.50" r="1.2" fill="#fff" stroke="#222" stroke-width="0.5" />
<circle cx="70.25" cy="638.50" r="1.2" fill="#fff" stroke="#222" stroke-width="0.5" />
<circle cx="67.45" cy="640.50" r="1.2" fill="#fff" stroke="#222" stroke-width="0.5" />
<line x1="67.25" y1="676.50" x2="67.25" y2="678.50" stroke="#2a2a2a" stroke-width="0.6" />
<text x="33.00" y="685.20" font-size="5.6" text-anchor="middle">HFD</text>
<text x="49.30" y="685.20" font-size="5.6" text-anchor="middle">HFD</text>
<text x="70.80" y="685.20" font-size="5.6" text-anchor="middle">HFD</text>
<text x="49.30" y="691.60" font-size="5.6" text-anchor="middle">LRD80%</text>
<text x="72.50" y="691.60" font-size="5.6" text-anchor="middle">FMT<tspan font-size="3.08" dy="1.2">LRD</tspan></text>
<path d="M33.00 602.50V599.50H67.50V609.50" fill="none" stroke="#555" stroke-width="0.5" />
<text x="37.50" y="597.60" font-size="5.95"><tspan font-style="italic">P</tspan>=0.0134</text>
<path d="M33.00 631.30V611.30H50.00V613.80" fill="none" stroke="#555" stroke-width="0.5" />
<text x="35.00" y="609.00" font-size="5.95"><tspan font-style="italic">P</tspan>=0.0166</text>
<text x="100.60" y="581.70" font-size="7.4" font-weight="bold" fill="#000">r</text>
<rect x="124.30" y="592.00" width="57.70" height="8.10" fill="#d0d0d0" />
<text x="152.30" y="598.00" font-size="5.4" text-anchor="middle" font-style="italic">Occludin</text>
<line x1="124.30" y1="592.00" x2="124.30" y2="676.50" stroke="#2a2a2a" stroke-width="0.6" />
<line x1="122.10" y1="676.50" x2="124.30" y2="676.50" stroke="#2a2a2a" stroke-width="0.6" />
<text x="121.10" y="678.66" font-size="6" text-anchor="end">0.00</text>
<line x1="122.10" y1="648.33" x2="124.30" y2="648.33" stroke="#2a2a2a" stroke-width="0.6" />
<text x="121.10" y="650.49" font-size="6" text-anchor="end">0.02</text>
<line x1="122.10" y1="620.16" x2="124.30" y2="620.16" stroke="#2a2a2a" stroke-width="0.6" />
<text x="121.10" y="622.32" font-size="6" text-anchor="end">0.04</text>
<line x1="122.10" y1="591.99" x2="124.30" y2="591.99" stroke="#2a2a2a" stroke-width="0.6" />
<text x="121.10" y="594.15" font-size="6" text-anchor="end">0.06</text>
<line x1="124.00" y1="676.50" x2="182.00" y2="676.50" stroke="#2a2a2a" stroke-width="0.6" />
<line x1="182.00" y1="592.00" x2="182.00" y2="676.50" stroke="#2a2a2a" stroke-width="0.6" />
<text x="104.20" y="634.50" font-size="6.6" text-anchor="middle" font-style="italic" transform="rotate(-90 104.20 634.50)">Relative mRNA expression</text>
<rect x="130.00" y="656.30" width="11.50" height="20.20" fill="#0000ff" />
<line x1="135.75" y1="650.50" x2="135.75" y2="656.50" stroke="#333" stroke-width="0.5" />
<line x1="133.75" y1="650.50" x2="137.75" y2="650.50" stroke="#333" stroke-width="0.5" />
<circle cx="139.15" cy="650.00" r="1.2" fill="#fff" stroke="#222" stroke-width="0.5" />
<circle cx="132.95" cy="651.00" r="1.2" fill="#fff" stroke="#222" stroke-width="0.5" />
<circle cx="136.35" cy="652.00" r="1.2" fill="#fff" stroke="#222" stroke-width="0.5" />
<circle cx="136.05" cy="656.50" r="1.2" fill="#fff" stroke="#222" stroke-width="0.5" />
<circle cx="133.15" cy="661.50" r="1.2" fill="#fff" stroke="#222" stroke-width="0.5" />
<circle cx="138.35" cy="661.50" r="1.2" fill="#fff" stroke="#222" stroke-width="0.5" />
<line x1="135.75" y1="676.50" x2="135.75" y2="678.50" stroke="#2a2a2a" stroke-width="0.6" />
<rect x="147.00" y="637.50" width="11.50" height="39.00" fill="#ff8000" />
<line x1="152.75" y1="627.20" x2="152.75" y2="637.70" stroke="#333" stroke-width="0.5" />
<line x1="150.75" y1="627.20" x2="154.75" y2="627.20" stroke="#333" stroke-width="0.5" />
<circle cx="152.95" cy="620.00" r="1.2" fill="#fff" stroke="#222" stroke-width="0.5" />
<circle cx="152.95" cy="630.50" r="1.2" fill="#fff" stroke="#222" stroke-width="0.5" />
<circle cx="149.95" cy="639.00" r="1.2" fill="#fff" stroke="#222" stroke-width="0.5" />
<circle cx="155.55" cy="639.50" r="1.2" fill="#fff" stroke="#222" stroke-width="0.5" />
<circle cx="149.95" cy="647.00" r="1.2" fill="#fff" stroke="#222" stroke-width="0.5" />
<circle cx="155.55" cy="647.50" r="1.2" fill="#fff" stroke="#222" stroke-width="0.5" />
<line x1="152.75" y1="676.50" x2="152.75" y2="678.50" stroke="#2a2a2a" stroke-width="0.6" />
<rect x="164.10" y="642.00" width="11.50" height="34.50" fill="#5a5aff" />
<line x1="169.85" y1="630.30" x2="169.85" y2="642.20" stroke="#333" stroke-width="0.5" />
<line x1="167.85" y1="630.30" x2="171.85" y2="630.30" stroke="#333" stroke-width="0.5" />
<circle cx="170.05" cy="624.50" r="1.2" fill="#fff" stroke="#222" stroke-width="0.5" />
<circle cx="170.05" cy="634.50" r="1.2" fill="#fff" stroke="#222" stroke-width="0.5" />
<circle cx="166.65" cy="641.00" r="1.2" fill="#fff" stroke="#222" stroke-width="0.5" />
<circle cx="173.05" cy="642.50" r="1.2" fill="#fff" stroke="#222" stroke-width="0.5" />
<circle cx="167.05" cy="653.50" r="1.2" fill="#fff" stroke="#222" stroke-width="0.5" />
<circle cx="172.65" cy="653.50" r="1.2" fill="#fff" stroke="#222" stroke-width="0.5" />
<line x1="169.85" y1="676.50" x2="169.85" y2="678.50" stroke="#2a2a2a" stroke-width="0.6" />
<text x="135.00" y="685.20" font-size="5.6" text-anchor="middle">HFD</text>
<text x="152.00" y="685.20" font-size="5.6" text-anchor="middle">HFD</text>
<text x="172.50" y="685.20" font-size="5.6" text-anchor="middle">HFD</text>
<text x="150.00" y="691.60" font-size="5.6" text-anchor="middle">LRD80%</text>
<text x="173.00" y="691.60" font-size="5.6" text-anchor="middle">FMT<tspan font-size="3.08" dy="1.2">LRD</tspan></text>
<path d="M135.80 648.50V608.60H170.00V621.30" fill="none" stroke="#555" stroke-width="0.5" />
<text x="140.50" y="605.90" font-size="5.95"><tspan font-style="italic">P</tspan>=0.1138</text>
<path d="M136.80 648.50V615.80H152.60V618.60" fill="none" stroke="#555" stroke-width="0.5" />
<text x="138.20" y="614.40" font-size="5.75"><tspan font-style="italic">P</tspan>=0.0119</text>
<rect x="208.30" y="630.50" width="150.70" height="16.50" fill="url(#bg_r1)" />
<g clip-path="url(#clip_r1)" filter="url(#blur_r1)">
<rect x="210.90" y="635.80" width="13.20" height="3.60" rx="1.80" fill="#000" fill-opacity="0.9"/>
<rect x="226.70" y="636.30" width="13.20" height="3.60" rx="1.80" fill="#000" fill-opacity="0.75"/>
<rect x="243.40" y="636.60" width="13.20" height="3.00" rx="1.50" fill="#000" fill-opacity="0.6"/>
<rect x="260.40" y="635.40" width="13.20" height="4.40" rx="2.20" fill="#000" fill-opacity="1"/>
<rect x="276.40" y="635.40" width="13.20" height="4.40" rx="2.20" fill="#000" fill-opacity="1"/>
<rect x="293.40" y="636.50" width="13.20" height="3.20" rx="1.60" fill="#000" fill-opacity="0.7"/>
<rect x="310.70" y="634.80" width="13.20" height="5.60" rx="2.20" fill="#000" fill-opacity="1"/>
<rect x="326.90" y="635.00" width="13.20" height="5.20" rx="2.20" fill="#000" fill-opacity="1"/>
<rect x="343.20" y="635.00" width="13.20" height="5.20" rx="2.20" fill="#000" fill-opacity="1"/>
<rect x="211.25" y="639.20" width="12.50" height="6.00" rx="2.20" fill="#000" fill-opacity="0.16"/>
<rect x="227.05" y="639.20" width="12.50" height="6.00" rx="2.20" fill="#000" fill-opacity="0.16"/>
<rect x="243.75" y="639.20" width="12.50" height="6.00" rx="2.20" fill="#000" fill-opacity="0.16"/>
<rect x="260.75" y="639.20" width="12.50" height="6.00" rx="2.20" fill="#000" fill-opacity="0.16"/>
<rect x="276.75" y="639.20" width="12.50" height="6.00" rx="2.20" fill="#000" fill-opacity="0.16"/>
<rect x="293.75" y="639.20" width="12.50" height="6.00" rx="2.20" fill="#000" fill-opacity="0.16"/>
<rect x="311.05" y="639.20" width="12.50" height="6.00" rx="2.20" fill="#000" fill-opacity="0.16"/>
<rect x="327.25" y="639.20" width="12.50" height="6.00" rx="2.20" fill="#000" fill-opacity="0.16"/>
<rect x="343.55" y="639.20" width="12.50" height="6.00" rx="2.20" fill="#000" fill-opacity="0.16"/>
</g>
<rect x="208.30" y="630.50" width="150.70" height="16.50" fill="none" stroke="#111" stroke-width="0.7" />
<rect x="208.30" y="649.20" width="150.70" height="16.40" fill="#d4d4d4" />
<g clip-path="url(#clip_r2)" filter="url(#blur_r2)">
<rect x="211.70" y="656.20" width="11.60" height="3.20" rx="1.60" fill="#000" fill-opacity="0.95"/>
<rect x="227.50" y="656.50" width="11.60" height="2.60" rx="1.30" fill="#000" fill-opacity="0.6"/>
<rect x="244.20" y="656.40" width="11.60" height="2.80" rx="1.40" fill="#000" fill-opacity="0.75"/>
<rect x="261.20" y="656.50" width="11.60" height="2.60" rx="1.30" fill="#000" fill-opacity="0.6"/>
<rect x="277.20" y="656.50" width="11.60" height="2.60" rx="1.30" fill="#000" fill-opacity="0.6"/>
<rect x="294.20" y="656.60" width="11.60" height="2.40" rx="1.20" fill="#000" fill-opacity="0.5"/>
<rect x="311.50" y="655.30" width="11.60" height="3.00" rx="1.50" fill="#000" fill-opacity="0.7"/>
<rect x="327.70" y="655.30" width="11.60" height="3.00" rx="1.50" fill="#000" fill-opacity="0.7"/>
<rect x="344.00" y="655.50" width="11.60" height="2.60" rx="1.30" fill="#000" fill-opacity="0.65"/>
</g>
<rect x="208.30" y="649.20" width="150.70" height="16.40" fill="none" stroke="#111" stroke-width="0.7" />
<text x="205.80" y="642.20" font-size="5.6" text-anchor="end">59kDa</text>
<text x="205.80" y="659.80" font-size="5.6" text-anchor="end">43kDa</text>
<text x="361.30" y="642.20" font-size="5.8">Occludin</text>
<text x="361.30" y="658.20" font-size="5.8">β-Actin</text>
<text x="234.50" y="624.20" font-size="5.8" text-anchor="middle">HFD</text>
<line x1="213.00" y1="627.00" x2="256.00" y2="627.00" stroke="#444" stroke-width="0.65" />
<text x="283.00" y="624.20" font-size="5.8" text-anchor="middle">HFD+LRD80%</text>
<line x1="262.00" y1="627.00" x2="304.30" y2="627.00" stroke="#444" stroke-width="0.65" />
<text x="332.30" y="624.20" font-size="5.8" text-anchor="middle">HFD+FMT<tspan font-size="3.1" dy="1.2">LRD</tspan></text>
<line x1="309.80" y1="627.00" x2="352.80" y2="627.00" stroke="#444" stroke-width="0.65" />
<rect x="409.50" y="589.30" width="56.00" height="8.20" fill="#d0d0d0" />
<text x="437.80" y="595.30" font-size="5.4" text-anchor="middle">Occludin</text>
<line x1="409.50" y1="589.30" x2="409.50" y2="676.00" stroke="#2a2a2a" stroke-width="0.6" />
<line x1="407.30" y1="668.00" x2="409.50" y2="668.00" stroke="#2a2a2a" stroke-width="0.6" />
<text x="406.30" y="670.16" font-size="6" text-anchor="end">0.2</text>
<line x1="407.30" y1="630.00" x2="409.50" y2="630.00" stroke="#2a2a2a" stroke-width="0.6" />
<text x="406.30" y="632.16" font-size="6" text-anchor="end">1.2</text>
<line x1="407.30" y1="591.30" x2="409.50" y2="591.30" stroke="#2a2a2a" stroke-width="0.6" />
<text x="406.30" y="593.46" font-size="6" text-anchor="end">2.2</text>
<line x1="409.20" y1="676.00" x2="465.50" y2="676.00" stroke="#2a2a2a" stroke-width="0.6" />
<line x1="465.50" y1="589.30" x2="465.50" y2="676.00" stroke="#2a2a2a" stroke-width="0.6" />
<text x="391.40" y="633.60" font-size="6.6" text-anchor="middle" transform="rotate(-90 391.40 633.60)">Relative protein expression</text>
<rect x="414.90" y="637.90" width="11.30" height="38.10" fill="#0000ff" />
<line x1="420.55" y1="633.60" x2="420.55" y2="638.10" stroke="#333" stroke-width="0.5" />
<line x1="418.75" y1="633.60" x2="422.35" y2="633.60" stroke="#333" stroke-width="0.5" />
<circle cx="421.75" cy="632.00" r="1.2" fill="#fff" stroke="#222" stroke-width="0.5" />
<circle cx="418.75" cy="633.00" r="1.2" fill="#fff" stroke="#222" stroke-width="0.5" />
<circle cx="416.95" cy="638.80" r="1.2" fill="#fff" stroke="#222" stroke-width="0.5" />
<circle cx="419.35" cy="639.00" r="1.2" fill="#fff" stroke="#222" stroke-width="0.5" />
<circle cx="422.15" cy="640.50" r="1.2" fill="#fff" stroke="#222" stroke-width="0.5" />
<circle cx="424.55" cy="641.00" r="1.2" fill="#fff" stroke="#222" stroke-width="0.5" />
<line x1="420.55" y1="676.00" x2="420.55" y2="678.00" stroke="#2a2a2a" stroke-width="0.6" />
<rect x="431.60" y="622.40" width="11.30" height="53.60" fill="#ff8000" />
<line x1="437.25" y1="618.00" x2="437.25" y2="622.60" stroke="#333" stroke-width="0.5" />
<line x1="435.45" y1="618.00" x2="439.05" y2="618.00" stroke="#333" stroke-width="0.5" />
<circle cx="439.05" cy="616.00" r="1.2" fill="#fff" stroke="#222" stroke-width="0.5" />
<circle cx="435.85" cy="619.00" r="1.2" fill="#fff" stroke="#222" stroke-width="0.5" />
<circle cx="433.45" cy="623.50" r="1.2" fill="#fff" stroke="#222" stroke-width="0.5" />
<circle cx="437.25" cy="623.50" r="1.2" fill="#fff" stroke="#222" stroke-width="0.5" />
<circle cx="441.25" cy="624.00" r="1.2" fill="#fff" stroke="#222" stroke-width="0.5" />
<circle cx="437.85" cy="628.00" r="1.2" fill="#fff" stroke="#222" stroke-width="0.5" />
<line x1="437.25" y1="676.00" x2="437.25" y2="678.00" stroke="#2a2a2a" stroke-width="0.6" />
<rect x="448.60" y="625.70" width="11.30" height="50.30" fill="#5a5aff" />
<line x1="454.25" y1="624.30" x2="454.25" y2="625.90" stroke="#333" stroke-width="0.5" />
<line x1="452.45" y1="624.30" x2="456.05" y2="624.30" stroke="#333" stroke-width="0.5" />
<circle cx="458.25" cy="625.50" r="1.2" fill="#fff" stroke="#222" stroke-width="0.5" />
<circle cx="450.25" cy="626.00" r="1.2" fill="#fff" stroke="#222" stroke-width="0.5" />
<circle cx="452.75" cy="626.50" r="1.2" fill="#fff" stroke="#222" stroke-width="0.5" />
<circle cx="455.45" cy="626.50" r="1.2" fill="#fff" stroke="#222" stroke-width="0.5" />
<circle cx="454.25" cy="628.00" r="1.2" fill="#fff" stroke="#222" stroke-width="0.5" />
<circle cx="456.65" cy="630.50" r="1.2" fill="#fff" stroke="#222" stroke-width="0.5" />
<line x1="454.25" y1="676.00" x2="454.25" y2="678.00" stroke="#2a2a2a" stroke-width="0.6" />
<text x="420.40" y="684.90" font-size="5.6" text-anchor="middle">HFD</text>
<text x="436.10" y="684.90" font-size="5.6" text-anchor="middle">HFD</text>
<text x="458.60" y="684.90" font-size="5.6" text-anchor="middle">HFD</text>
<text x="436.10" y="691.30" font-size="5.6" text-anchor="middle">LRD80%</text>
<text x="460.60" y="691.30" font-size="5.6" text-anchor="middle">FMT<tspan font-size="3.08" dy="1.2">LRD</tspan></text>
<path d="M420.40 630.00V605.40H454.30V622.40" fill="none" stroke="#555" stroke-width="0.5" />
<text x="424.10" y="603.30" font-size="5.95"><tspan font-style="italic">P</tspan>=0.0002</text>
<path d="M422.40 630.00V612.40H437.80V615.00" fill="none" stroke="#555" stroke-width="0.5" />
<text x="423.40" y="611.40" font-size="5.75"><tspan font-style="italic">P</tspan> &lt;0.0001</text>
</svg>
</body></html>
